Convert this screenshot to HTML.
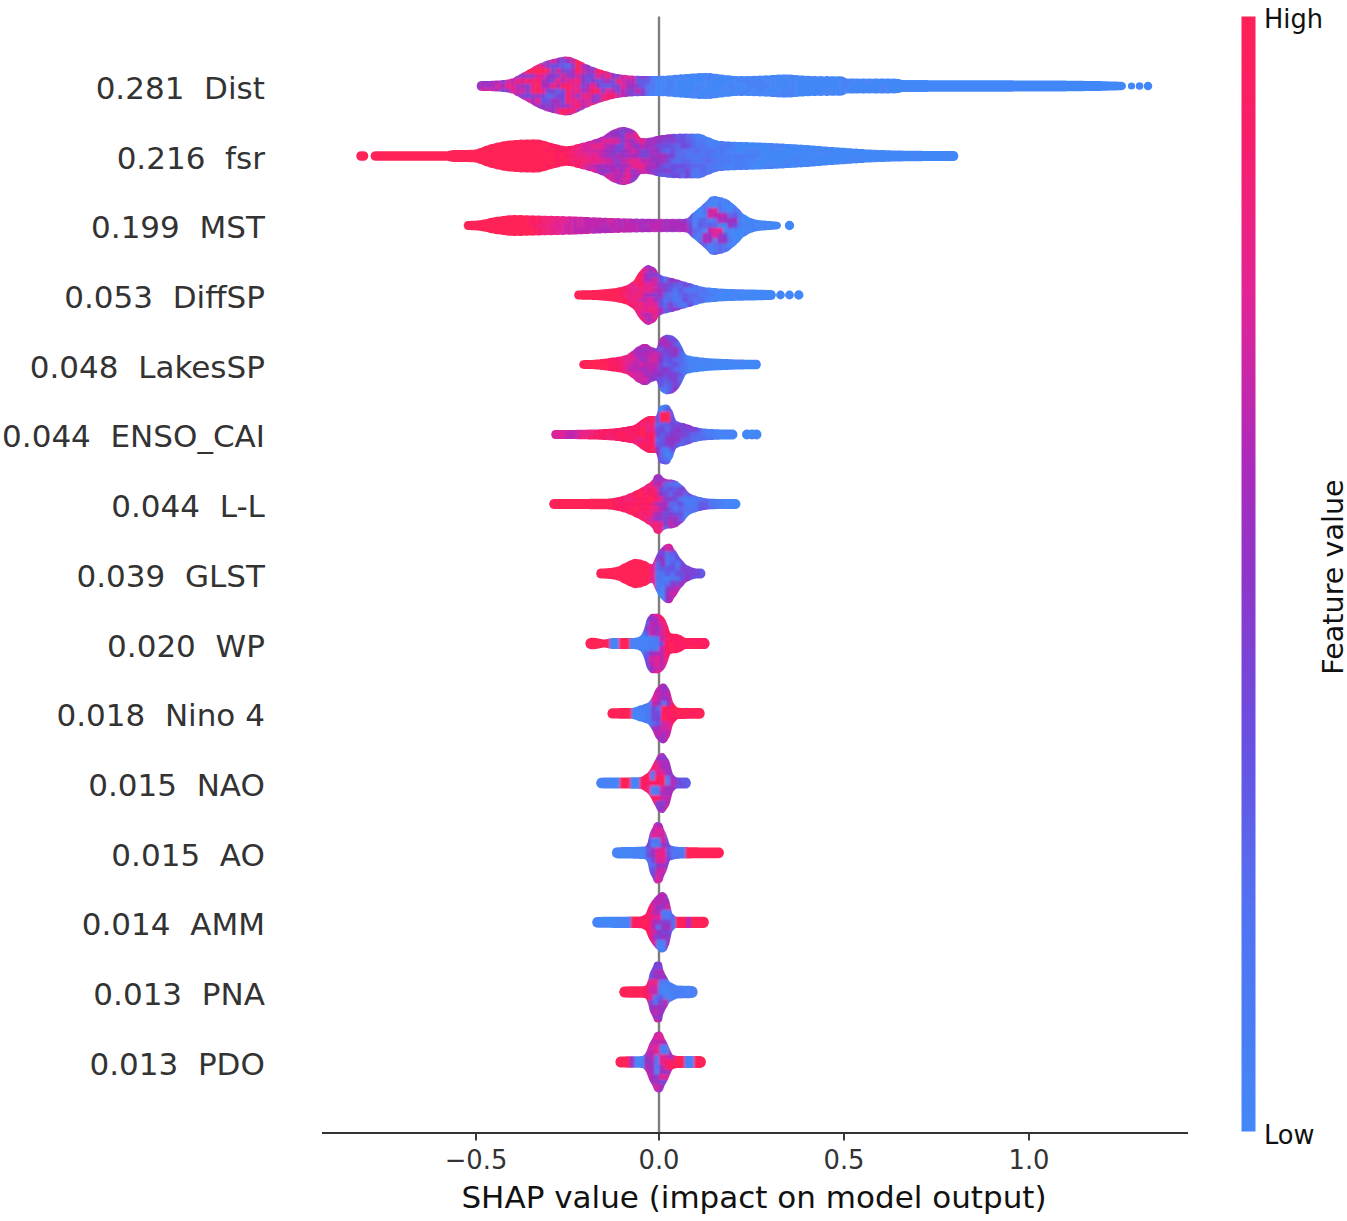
<!DOCTYPE html>
<html lang="en"><head><meta charset="utf-8"><title>SHAP summary plot</title>
<style>html,body{margin:0;padding:0;background:#fff}body{width:1347px;height:1221px;position:relative;overflow:hidden;font-family:"DejaVu Sans","Liberation Sans",sans-serif}</style></head>
<body>
<svg width="1347" height="1221" viewBox="0 0 1347 1221" style="position:absolute;left:0;top:0">
<defs><clipPath id="env"><path d="M476.5 86.0L477.5 83.1L478.5 82.1L479.5 81.6L480.5 81.3L481.5 81.1L482.5 81.1L483.5 81.1L484.5 81.1L485.5 81.0L486.5 81.0L487.5 81.0L488.5 81.0L489.5 80.9L490.5 80.9L491.5 80.8L492.5 80.8L493.5 80.7L494.5 80.7L495.5 80.6L496.5 80.6L497.5 80.5L498.5 80.4L499.5 80.4L500.5 80.3L501.5 80.2L502.5 80.1L503.5 80.0L504.5 79.9L505.5 79.8L506.5 79.7L507.5 79.6L508.5 79.4L509.5 79.1L510.5 78.8L511.5 78.6L512.5 78.4L513.5 77.9L514.5 77.3L515.5 76.6L516.5 76.1L517.5 75.7L518.5 75.2L519.5 74.6L520.5 73.9L521.5 73.2L522.5 72.7L523.5 72.3L524.5 71.9L525.5 71.3L526.5 70.7L527.5 70.0L528.5 69.4L529.5 68.9L530.5 68.5L531.5 67.9L532.5 67.2L533.5 66.5L534.5 65.9L535.5 65.4L536.5 65.0L537.5 64.6L538.5 64.0L539.5 63.4L540.5 63.0L541.5 62.7L542.5 62.4L543.5 62.1L544.5 61.6L545.5 61.1L546.5 60.7L547.5 60.5L548.5 60.3L549.5 60.1L550.5 59.7L551.5 59.3L552.5 58.9L553.5 58.8L554.5 58.7L555.5 58.5L556.5 58.2L557.5 57.9L558.5 57.6L559.5 57.4L560.5 57.3L561.5 57.2L562.5 57.0L563.5 56.7L564.5 56.5L565.5 56.5L566.5 56.6L567.5 56.7L568.5 56.7L569.5 56.7L570.5 56.9L571.5 57.2L572.5 57.7L573.5 58.2L574.5 58.6L575.5 58.9L576.5 59.2L577.5 59.7L578.5 60.2L579.5 60.8L580.5 61.3L581.5 61.7L582.5 62.1L583.5 62.6L584.5 63.3L585.5 63.9L586.5 64.3L587.5 64.6L588.5 64.9L589.5 65.3L590.5 65.9L591.5 66.4L592.5 66.8L593.5 67.1L594.5 67.3L595.5 67.7L596.5 68.1L597.5 68.6L598.5 69.0L599.5 69.2L600.5 69.4L601.5 69.7L602.5 70.1L603.5 70.6L604.5 70.9L605.5 71.1L606.5 71.2L607.5 71.5L608.5 71.8L609.5 72.3L610.5 72.6L611.5 72.8L612.5 72.9L613.5 73.1L614.5 73.4L615.5 73.7L616.5 74.0L617.5 74.1L618.5 74.1L619.5 74.2L620.5 74.4L621.5 74.6L622.5 74.8L623.5 74.9L624.5 74.8L625.5 74.9L626.5 75.0L627.5 75.3L628.5 75.4L629.5 75.5L630.5 75.4L631.5 75.4L632.5 75.5L633.5 75.7L634.5 75.9L635.5 75.9L636.5 75.8L637.5 75.8L638.5 75.8L639.5 76.0L640.5 76.1L641.5 76.1L642.5 76.0L643.5 75.9L644.5 75.9L645.5 76.0L646.5 76.1L647.5 76.1L648.5 76.0L649.5 75.9L650.5 75.9L651.5 76.0L652.5 76.1L653.5 76.1L654.5 76.0L655.5 75.9L656.5 75.9L657.5 76.0L658.5 76.1L659.5 76.1L660.5 76.0L661.5 75.8L662.5 75.7L663.5 75.8L664.5 75.9L665.5 75.8L666.5 75.7L667.5 75.5L668.5 75.3L669.5 75.3L670.5 75.4L671.5 75.3L672.5 75.2L673.5 74.9L674.5 74.8L675.5 74.8L676.5 74.8L677.5 74.8L678.5 74.7L679.5 74.5L680.5 74.3L681.5 74.3L682.5 74.4L683.5 74.4L684.5 74.3L685.5 74.1L686.5 73.9L687.5 73.9L688.5 73.9L689.5 74.0L690.5 73.8L691.5 73.6L692.5 73.4L693.5 73.4L694.5 73.5L695.5 73.5L696.5 73.4L697.5 73.2L698.5 73.1L699.5 73.0L700.5 73.1L701.5 73.2L702.5 73.2L703.5 73.0L704.5 72.9L705.5 72.9L706.5 73.0L707.5 73.2L708.5 73.2L709.5 73.1L710.5 73.1L711.5 73.2L712.5 73.4L713.5 73.7L714.5 73.8L715.5 73.8L716.5 73.8L717.5 73.9L718.5 74.2L719.5 74.5L720.5 74.6L721.5 74.6L722.5 74.6L723.5 74.7L724.5 74.9L725.5 75.2L726.5 75.3L727.5 75.3L728.5 75.3L729.5 75.3L730.5 75.5L731.5 75.8L732.5 75.9L733.5 75.9L734.5 75.9L735.5 75.9L736.5 76.0L737.5 76.2L738.5 76.3L739.5 76.3L740.5 76.1L741.5 76.0L742.5 76.1L743.5 76.2L744.5 76.3L745.5 76.2L746.5 76.1L747.5 76.0L748.5 76.0L749.5 76.1L750.5 76.2L751.5 76.1L752.5 75.9L753.5 75.8L754.5 75.8L755.5 75.9L756.5 76.0L757.5 75.9L758.5 75.7L759.5 75.6L760.5 75.6L761.5 75.7L762.5 75.7L763.5 75.7L764.5 75.5L765.5 75.3L766.5 75.3L767.5 75.4L768.5 75.5L769.5 75.4L770.5 75.2L771.5 75.0L772.5 74.9L773.5 75.0L774.5 75.0L775.5 75.0L776.5 74.8L777.5 74.6L778.5 74.5L779.5 74.6L780.5 74.7L781.5 74.6L782.5 74.5L783.5 74.3L784.5 74.3L785.5 74.4L786.5 74.5L787.5 74.6L788.5 74.5L789.5 74.4L790.5 74.4L791.5 74.6L792.5 74.8L793.5 75.0L794.5 75.0L795.5 74.9L796.5 75.0L797.5 75.1L798.5 75.4L799.5 75.5L800.5 75.6L801.5 75.5L802.5 75.5L803.5 75.6L804.5 75.8L805.5 76.0L806.5 76.0L807.5 75.8L808.5 75.8L809.5 75.9L810.5 76.1L811.5 76.2L812.5 76.2L813.5 76.1L814.5 76.0L815.5 76.0L816.5 76.2L817.5 76.3L818.5 76.3L819.5 76.2L820.5 76.1L821.5 76.1L822.5 76.3L823.5 76.4L824.5 76.4L825.5 76.2L826.5 76.1L827.5 76.1L828.5 76.3L829.5 76.4L830.5 76.4L831.5 76.3L832.5 76.2L833.5 76.2L834.5 76.3L835.5 76.4L836.5 76.5L837.5 76.3L838.5 76.2L839.5 76.2L840.5 76.3L841.5 76.5L842.5 76.6L843.5 76.9L844.5 77.3L845.5 77.9L846.5 78.4L847.5 78.6L848.5 78.7L849.5 78.6L850.5 78.4L851.5 78.4L852.5 78.5L853.5 78.6L854.5 78.7L855.5 78.6L856.5 78.5L857.5 78.4L858.5 78.5L859.5 78.7L860.5 78.7L861.5 78.7L862.5 78.5L863.5 78.4L864.5 78.5L865.5 78.7L866.5 78.7L867.5 78.7L868.5 78.5L869.5 78.5L870.5 78.5L871.5 78.7L872.5 78.7L873.5 78.7L874.5 78.6L875.5 78.5L876.5 78.5L877.5 78.6L878.5 78.8L879.5 78.7L880.5 78.6L881.5 78.5L882.5 78.5L883.5 78.6L884.5 78.8L885.5 78.7L886.5 78.6L887.5 78.5L888.5 78.5L889.5 78.6L890.5 78.8L891.5 78.8L892.5 78.7L893.5 78.5L894.5 78.5L895.5 78.7L896.5 78.8L897.5 78.9L898.5 78.9L899.5 79.1L900.5 79.5L901.5 79.8L902.5 80.0L903.5 80.0L904.5 80.0L905.5 80.0L906.5 80.0L907.5 80.0L908.5 80.0L909.5 80.1L910.5 80.1L911.5 80.1L912.5 80.1L913.5 80.1L914.5 80.1L915.5 80.1L916.5 80.1L917.5 80.1L918.5 80.1L919.5 80.1L920.5 80.1L921.5 80.1L922.5 80.1L923.5 80.1L924.5 80.1L925.5 80.1L926.5 80.1L927.5 80.1L928.5 80.2L929.5 80.2L930.5 80.2L931.5 80.2L932.5 80.2L933.5 80.2L934.5 80.2L935.5 80.2L936.5 80.2L937.5 80.2L938.5 80.2L939.5 80.2L940.5 80.2L941.5 80.2L942.5 80.2L943.5 80.2L944.5 80.2L945.5 80.2L946.5 80.2L947.5 80.2L948.5 80.2L949.5 80.2L950.5 80.2L951.5 80.2L952.5 80.2L953.5 80.2L954.5 80.2L955.5 80.2L956.5 80.2L957.5 80.2L958.5 80.2L959.5 80.2L960.5 80.2L961.5 80.2L962.5 80.2L963.5 80.2L964.5 80.2L965.5 80.2L966.5 80.2L967.5 80.2L968.5 80.2L969.5 80.2L970.5 80.2L971.5 80.2L972.5 80.2L973.5 80.2L974.5 80.2L975.5 80.2L976.5 80.2L977.5 80.2L978.5 80.2L979.5 80.2L980.5 80.2L981.5 80.2L982.5 80.3L983.5 80.3L984.5 80.3L985.5 80.3L986.5 80.3L987.5 80.3L988.5 80.3L989.5 80.3L990.5 80.3L991.5 80.3L992.5 80.3L993.5 80.3L994.5 80.3L995.5 80.3L996.5 80.3L997.5 80.3L998.5 80.3L999.5 80.3L1000.5 80.3L1001.5 80.3L1002.5 80.3L1003.5 80.3L1004.5 80.3L1005.5 80.3L1006.5 80.3L1007.5 80.3L1008.5 80.3L1009.5 80.3L1010.5 80.3L1011.5 80.3L1012.5 80.3L1013.5 80.4L1014.5 80.4L1015.5 80.4L1016.5 80.4L1017.5 80.4L1018.5 80.4L1019.5 80.4L1020.5 80.4L1021.5 80.4L1022.5 80.4L1023.5 80.4L1024.5 80.4L1025.5 80.4L1026.5 80.4L1027.5 80.4L1028.5 80.4L1029.5 80.4L1030.5 80.4L1031.5 80.4L1032.5 80.4L1033.5 80.4L1034.5 80.4L1035.5 80.5L1036.5 80.5L1037.5 80.5L1038.5 80.5L1039.5 80.5L1040.5 80.5L1041.5 80.5L1042.5 80.5L1043.5 80.5L1044.5 80.5L1045.5 80.5L1046.5 80.5L1047.5 80.5L1048.5 80.5L1049.5 80.5L1050.5 80.5L1051.5 80.5L1052.5 80.5L1053.5 80.6L1054.5 80.6L1055.5 80.6L1056.5 80.6L1057.5 80.6L1058.5 80.6L1059.5 80.6L1060.5 80.6L1061.5 80.6L1062.5 80.6L1063.5 80.6L1064.5 80.6L1065.5 80.6L1066.5 80.7L1067.5 80.7L1068.5 80.7L1069.5 80.7L1070.5 80.7L1071.5 80.7L1072.5 80.7L1073.5 80.7L1074.5 80.7L1075.5 80.7L1076.5 80.8L1077.5 80.8L1078.5 80.8L1079.5 80.8L1080.5 80.8L1081.5 80.8L1082.5 80.8L1083.5 80.8L1084.5 80.9L1085.5 80.9L1086.5 80.9L1087.5 80.9L1088.5 80.9L1089.5 80.9L1090.5 80.9L1091.5 81.0L1092.5 81.0L1093.5 81.0L1094.5 81.0L1095.5 81.0L1096.5 81.0L1097.5 81.1L1098.5 81.1L1099.5 81.1L1100.5 81.1L1101.5 81.2L1102.5 81.2L1103.5 81.2L1104.5 81.2L1105.5 81.3L1106.5 81.3L1107.5 81.3L1108.5 81.4L1109.5 81.4L1110.5 81.4L1111.5 81.4L1112.5 81.5L1113.5 81.5L1114.5 81.5L1115.5 81.6L1116.5 81.6L1117.5 81.7L1118.5 81.7L1119.5 81.7L1120.5 81.8L1121.5 81.8L1122.5 82.0L1123.5 82.3L1124.5 82.9L1125.5 84.1L1126.0 86.0L1126.0 86.0L1125.5 87.9L1124.5 89.1L1123.5 89.7L1122.5 90.0L1121.5 90.2L1120.5 90.2L1119.5 90.3L1118.5 90.3L1117.5 90.3L1116.5 90.4L1115.5 90.4L1114.5 90.5L1113.5 90.5L1112.5 90.5L1111.5 90.6L1110.5 90.6L1109.5 90.6L1108.5 90.6L1107.5 90.7L1106.5 90.7L1105.5 90.7L1104.5 90.8L1103.5 90.8L1102.5 90.8L1101.5 90.8L1100.5 90.9L1099.5 90.9L1098.5 90.9L1097.5 90.9L1096.5 91.0L1095.5 91.0L1094.5 91.0L1093.5 91.0L1092.5 91.0L1091.5 91.0L1090.5 91.1L1089.5 91.1L1088.5 91.1L1087.5 91.1L1086.5 91.1L1085.5 91.1L1084.5 91.1L1083.5 91.2L1082.5 91.2L1081.5 91.2L1080.5 91.2L1079.5 91.2L1078.5 91.2L1077.5 91.2L1076.5 91.2L1075.5 91.3L1074.5 91.3L1073.5 91.3L1072.5 91.3L1071.5 91.3L1070.5 91.3L1069.5 91.3L1068.5 91.3L1067.5 91.3L1066.5 91.3L1065.5 91.4L1064.5 91.4L1063.5 91.4L1062.5 91.4L1061.5 91.4L1060.5 91.4L1059.5 91.4L1058.5 91.4L1057.5 91.4L1056.5 91.4L1055.5 91.4L1054.5 91.4L1053.5 91.4L1052.5 91.5L1051.5 91.5L1050.5 91.5L1049.5 91.5L1048.5 91.5L1047.5 91.5L1046.5 91.5L1045.5 91.5L1044.5 91.5L1043.5 91.5L1042.5 91.5L1041.5 91.5L1040.5 91.5L1039.5 91.5L1038.5 91.5L1037.5 91.5L1036.5 91.5L1035.5 91.5L1034.5 91.6L1033.5 91.6L1032.5 91.6L1031.5 91.6L1030.5 91.6L1029.5 91.6L1028.5 91.6L1027.5 91.6L1026.5 91.6L1025.5 91.6L1024.5 91.6L1023.5 91.6L1022.5 91.6L1021.5 91.6L1020.5 91.6L1019.5 91.6L1018.5 91.6L1017.5 91.6L1016.5 91.6L1015.5 91.6L1014.5 91.6L1013.5 91.6L1012.5 91.7L1011.5 91.7L1010.5 91.7L1009.5 91.7L1008.5 91.7L1007.5 91.7L1006.5 91.7L1005.5 91.7L1004.5 91.7L1003.5 91.7L1002.5 91.7L1001.5 91.7L1000.5 91.7L999.5 91.7L998.5 91.7L997.5 91.7L996.5 91.7L995.5 91.7L994.5 91.7L993.5 91.7L992.5 91.7L991.5 91.7L990.5 91.7L989.5 91.7L988.5 91.7L987.5 91.7L986.5 91.7L985.5 91.7L984.5 91.7L983.5 91.7L982.5 91.7L981.5 91.8L980.5 91.8L979.5 91.8L978.5 91.8L977.5 91.8L976.5 91.8L975.5 91.8L974.5 91.8L973.5 91.8L972.5 91.8L971.5 91.8L970.5 91.8L969.5 91.8L968.5 91.8L967.5 91.8L966.5 91.8L965.5 91.8L964.5 91.8L963.5 91.8L962.5 91.8L961.5 91.8L960.5 91.8L959.5 91.8L958.5 91.8L957.5 91.8L956.5 91.8L955.5 91.8L954.5 91.8L953.5 91.8L952.5 91.8L951.5 91.8L950.5 91.8L949.5 91.8L948.5 91.8L947.5 91.8L946.5 91.8L945.5 91.8L944.5 91.8L943.5 91.8L942.5 91.8L941.5 91.8L940.5 91.8L939.5 91.8L938.5 91.8L937.5 91.8L936.5 91.8L935.5 91.8L934.5 91.8L933.5 91.8L932.5 91.8L931.5 91.8L930.5 91.8L929.5 91.8L928.5 91.8L927.5 91.9L926.5 91.9L925.5 91.9L924.5 91.9L923.5 91.9L922.5 91.9L921.5 91.9L920.5 91.9L919.5 91.9L918.5 91.9L917.5 91.9L916.5 91.9L915.5 91.9L914.5 91.9L913.5 91.9L912.5 91.9L911.5 91.9L910.5 91.9L909.5 91.9L908.5 92.0L907.5 92.0L906.5 92.0L905.5 92.0L904.5 92.0L903.5 92.0L902.5 92.0L901.5 92.2L900.5 92.5L899.5 92.9L898.5 93.1L897.5 93.1L896.5 93.2L895.5 93.3L894.5 93.5L893.5 93.5L892.5 93.3L891.5 93.2L890.5 93.2L889.5 93.4L888.5 93.5L887.5 93.5L886.5 93.4L885.5 93.3L884.5 93.2L883.5 93.4L882.5 93.5L881.5 93.5L880.5 93.4L879.5 93.3L878.5 93.2L877.5 93.4L876.5 93.5L875.5 93.5L874.5 93.4L873.5 93.3L872.5 93.3L871.5 93.3L870.5 93.5L869.5 93.5L868.5 93.5L867.5 93.3L866.5 93.3L865.5 93.3L864.5 93.5L863.5 93.6L862.5 93.5L861.5 93.3L860.5 93.3L859.5 93.3L858.5 93.5L857.5 93.6L856.5 93.5L855.5 93.4L854.5 93.3L853.5 93.4L852.5 93.5L851.5 93.6L850.5 93.6L849.5 93.4L848.5 93.3L847.5 93.4L846.5 93.6L845.5 94.1L844.5 94.7L843.5 95.1L842.5 95.4L841.5 95.5L840.5 95.7L839.5 95.8L838.5 95.8L837.5 95.7L836.5 95.5L835.5 95.6L834.5 95.7L833.5 95.8L832.5 95.8L831.5 95.7L830.5 95.6L829.5 95.6L828.5 95.7L827.5 95.9L826.5 95.9L825.5 95.8L824.5 95.6L823.5 95.6L822.5 95.7L821.5 95.9L820.5 95.9L819.5 95.8L818.5 95.7L817.5 95.7L816.5 95.8L815.5 96.0L814.5 96.0L813.5 95.9L812.5 95.8L811.5 95.8L810.5 95.9L809.5 96.1L808.5 96.2L807.5 96.2L806.5 96.0L805.5 96.0L804.5 96.2L803.5 96.4L802.5 96.5L801.5 96.5L800.5 96.4L799.5 96.5L798.5 96.6L797.5 96.9L796.5 97.0L795.5 97.1L794.5 97.0L793.5 97.0L792.5 97.2L791.5 97.4L790.5 97.6L789.5 97.6L788.5 97.5L787.5 97.4L786.5 97.5L785.5 97.6L784.5 97.7L783.5 97.7L782.5 97.5L781.5 97.4L780.5 97.3L779.5 97.4L778.5 97.5L777.5 97.4L776.5 97.2L775.5 97.0L774.5 97.0L773.5 97.0L772.5 97.1L771.5 97.0L770.5 96.8L769.5 96.6L768.5 96.5L767.5 96.6L766.5 96.7L765.5 96.7L764.5 96.5L763.5 96.3L762.5 96.3L761.5 96.3L760.5 96.4L759.5 96.4L758.5 96.3L757.5 96.1L756.5 96.0L755.5 96.1L754.5 96.2L753.5 96.2L752.5 96.1L751.5 95.9L750.5 95.8L749.5 95.9L748.5 96.0L747.5 96.0L746.5 95.9L745.5 95.8L744.5 95.7L743.5 95.8L742.5 95.9L741.5 96.0L740.5 95.9L739.5 95.7L738.5 95.7L737.5 95.8L736.5 96.0L735.5 96.1L734.5 96.1L733.5 96.1L732.5 96.1L731.5 96.2L730.5 96.5L729.5 96.7L728.5 96.7L727.5 96.7L726.5 96.7L725.5 96.8L724.5 97.1L723.5 97.3L722.5 97.4L721.5 97.4L720.5 97.4L719.5 97.5L718.5 97.8L717.5 98.1L716.5 98.2L715.5 98.2L714.5 98.2L713.5 98.3L712.5 98.6L711.5 98.8L710.5 98.9L709.5 98.9L708.5 98.8L707.5 98.8L706.5 99.0L705.5 99.1L704.5 99.1L703.5 99.0L702.5 98.8L701.5 98.8L700.5 98.9L699.5 99.0L698.5 98.9L697.5 98.8L696.5 98.6L695.5 98.5L694.5 98.5L693.5 98.6L692.5 98.6L691.5 98.4L690.5 98.2L689.5 98.0L688.5 98.1L687.5 98.1L686.5 98.1L685.5 97.9L684.5 97.7L683.5 97.6L682.5 97.6L681.5 97.7L680.5 97.7L679.5 97.5L678.5 97.3L677.5 97.2L676.5 97.2L675.5 97.2L674.5 97.2L673.5 97.1L672.5 96.8L671.5 96.7L670.5 96.6L669.5 96.7L668.5 96.7L667.5 96.5L666.5 96.3L665.5 96.2L664.5 96.1L663.5 96.2L662.5 96.3L661.5 96.2L660.5 96.0L659.5 95.9L658.5 95.9L657.5 96.0L656.5 96.1L655.5 96.1L654.5 96.0L653.5 95.9L652.5 95.9L651.5 96.0L650.5 96.1L649.5 96.1L648.5 96.0L647.5 95.9L646.5 95.9L645.5 96.0L644.5 96.1L643.5 96.1L642.5 96.0L641.5 95.9L640.5 95.9L639.5 96.0L638.5 96.2L637.5 96.2L636.5 96.2L635.5 96.1L634.5 96.1L633.5 96.3L632.5 96.5L631.5 96.6L630.5 96.6L629.5 96.5L628.5 96.6L627.5 96.7L626.5 97.0L625.5 97.1L624.5 97.2L623.5 97.1L622.5 97.2L621.5 97.4L620.5 97.6L619.5 97.8L618.5 97.9L617.5 97.9L616.5 98.0L615.5 98.3L614.5 98.6L613.5 98.9L612.5 99.1L611.5 99.2L610.5 99.4L609.5 99.7L608.5 100.2L607.5 100.5L606.5 100.8L605.5 100.9L604.5 101.1L603.5 101.4L602.5 101.9L601.5 102.3L600.5 102.6L599.5 102.8L598.5 103.0L597.5 103.4L596.5 103.9L595.5 104.3L594.5 104.7L593.5 104.9L592.5 105.2L591.5 105.6L590.5 106.1L589.5 106.7L588.5 107.1L587.5 107.4L586.5 107.7L585.5 108.1L584.5 108.7L583.5 109.4L582.5 109.9L581.5 110.3L580.5 110.7L579.5 111.2L578.5 111.8L577.5 112.3L576.5 112.8L575.5 113.1L574.5 113.4L573.5 113.8L572.5 114.3L571.5 114.8L570.5 115.1L569.5 115.3L568.5 115.3L567.5 115.3L566.5 115.4L565.5 115.5L564.5 115.5L563.5 115.3L562.5 115.0L561.5 114.8L560.5 114.7L559.5 114.6L558.5 114.4L557.5 114.1L556.5 113.8L555.5 113.5L554.5 113.3L553.5 113.2L552.5 113.1L551.5 112.7L550.5 112.3L549.5 111.9L548.5 111.7L547.5 111.5L546.5 111.3L545.5 110.9L544.5 110.4L543.5 109.9L542.5 109.6L541.5 109.3L540.5 109.0L539.5 108.6L538.5 108.0L537.5 107.4L536.5 107.0L535.5 106.6L534.5 106.1L533.5 105.5L532.5 104.8L531.5 104.1L530.5 103.5L529.5 103.1L528.5 102.6L527.5 102.0L526.5 101.3L525.5 100.7L524.5 100.1L523.5 99.7L522.5 99.3L521.5 98.8L520.5 98.1L519.5 97.4L518.5 96.8L517.5 96.3L516.5 95.9L515.5 95.4L514.5 94.7L513.5 94.1L512.5 93.6L511.5 93.4L510.5 93.2L509.5 92.9L508.5 92.6L507.5 92.4L506.5 92.3L505.5 92.2L504.5 92.1L503.5 92.0L502.5 91.9L501.5 91.8L500.5 91.7L499.5 91.6L498.5 91.6L497.5 91.5L496.5 91.4L495.5 91.4L494.5 91.3L493.5 91.3L492.5 91.2L491.5 91.2L490.5 91.1L489.5 91.1L488.5 91.0L487.5 91.0L486.5 91.0L485.5 91.0L484.5 90.9L483.5 90.9L482.5 90.9L481.5 90.9L480.5 90.7L479.5 90.4L478.5 89.9L477.5 88.9L476.5 86.0ZM1127.9 86.0a3.6 3.6 0 1 0 7.2 0a3.6 3.6 0 1 0 -7.2 0ZM1135.7 86.0a3.8 3.8 0 1 0 7.6 0a3.8 3.8 0 1 0 -7.6 0ZM1143.7 86.0a4.3 4.3 0 1 0 8.6 0a4.3 4.3 0 1 0 -8.6 0ZM370.5 156.0L371.5 153.1L372.5 152.2L373.5 151.6L374.5 151.4L375.5 151.3L376.5 151.3L377.5 151.3L378.5 151.3L379.5 151.3L380.5 151.3L381.5 151.3L382.5 151.3L383.5 151.3L384.5 151.3L385.5 151.3L386.5 151.3L387.5 151.3L388.5 151.3L389.5 151.3L390.5 151.3L391.5 151.3L392.5 151.3L393.5 151.3L394.5 151.3L395.5 151.3L396.5 151.3L397.5 151.3L398.5 151.3L399.5 151.3L400.5 151.3L401.5 151.3L402.5 151.3L403.5 151.3L404.5 151.3L405.5 151.3L406.5 151.3L407.5 151.3L408.5 151.3L409.5 151.3L410.5 151.3L411.5 151.3L412.5 151.3L413.5 151.3L414.5 151.3L415.5 151.3L416.5 151.3L417.5 151.3L418.5 151.3L419.5 151.3L420.5 151.3L421.5 151.3L422.5 151.3L423.5 151.3L424.5 151.3L425.5 151.3L426.5 151.3L427.5 151.3L428.5 151.3L429.5 151.3L430.5 151.2L431.5 151.2L432.5 151.2L433.5 151.2L434.5 151.2L435.5 151.2L436.5 151.2L437.5 151.2L438.5 151.2L439.5 151.2L440.5 151.2L441.5 151.2L442.5 151.2L443.5 151.2L444.5 151.2L445.5 151.2L446.5 151.2L447.5 151.2L448.5 151.0L449.5 150.7L450.5 150.5L451.5 150.2L452.5 150.2L453.5 150.1L454.5 150.1L455.5 150.1L456.5 150.0L457.5 150.0L458.5 150.0L459.5 150.0L460.5 150.0L461.5 150.0L462.5 149.9L463.5 149.9L464.5 149.9L465.5 149.9L466.5 149.9L467.5 149.9L468.5 149.9L469.5 149.8L470.5 149.8L471.5 149.8L472.5 149.7L473.5 149.7L474.5 149.6L475.5 149.5L476.5 149.3L477.5 148.9L478.5 148.6L479.5 148.3L480.5 148.1L481.5 147.7L482.5 147.2L483.5 146.7L484.5 146.2L485.5 145.9L486.5 145.6L487.5 145.4L488.5 145.0L489.5 144.6L490.5 144.2L491.5 144.0L492.5 143.9L493.5 143.8L494.5 143.5L495.5 143.1L496.5 142.8L497.5 142.6L498.5 142.5L499.5 142.4L500.5 142.1L501.5 141.8L502.5 141.4L503.5 141.3L504.5 141.3L505.5 141.2L506.5 141.0L507.5 140.7L508.5 140.5L509.5 140.4L510.5 140.5L511.5 140.5L512.5 140.4L513.5 140.2L514.5 140.0L515.5 139.9L516.5 140.0L517.5 140.1L518.5 140.0L519.5 139.8L520.5 139.6L521.5 139.6L522.5 139.6L523.5 139.7L524.5 139.7L525.5 139.5L526.5 139.4L527.5 139.3L528.5 139.4L529.5 139.5L530.5 139.5L531.5 139.4L532.5 139.2L533.5 139.2L534.5 139.3L535.5 139.4L536.5 139.5L537.5 139.5L538.5 139.5L539.5 139.6L540.5 139.9L541.5 140.3L542.5 140.6L543.5 140.8L544.5 140.9L545.5 141.1L546.5 141.5L547.5 142.0L548.5 142.3L549.5 142.6L550.5 142.7L551.5 142.9L552.5 143.2L553.5 143.6L554.5 143.9L555.5 144.1L556.5 144.2L557.5 144.4L558.5 144.7L559.5 145.1L560.5 145.4L561.5 145.6L562.5 145.7L563.5 145.7L564.5 145.9L565.5 146.2L566.5 146.3L567.5 146.3L568.5 146.1L569.5 145.9L570.5 145.8L571.5 145.7L572.5 145.6L573.5 145.4L574.5 145.0L575.5 144.6L576.5 144.3L577.5 144.1L578.5 144.0L579.5 143.7L580.5 143.3L581.5 142.9L582.5 142.7L583.5 142.5L584.5 142.4L585.5 142.2L586.5 141.8L587.5 141.4L588.5 141.1L589.5 140.9L590.5 140.8L591.5 140.5L592.5 140.1L593.5 139.6L594.5 139.3L595.5 139.0L596.5 138.8L597.5 138.5L598.5 138.1L599.5 137.5L600.5 137.1L601.5 136.8L602.5 136.5L603.5 136.0L604.5 135.3L605.5 134.5L606.5 133.7L607.5 133.0L608.5 132.5L609.5 131.8L610.5 131.1L611.5 130.4L612.5 129.9L613.5 129.6L614.5 129.3L615.5 129.0L616.5 128.5L617.5 128.0L618.5 127.6L619.5 127.4L620.5 127.3L621.5 127.2L622.5 127.1L623.5 127.0L624.5 126.9L625.5 127.1L626.5 127.4L627.5 127.8L628.5 128.1L629.5 128.3L630.5 128.5L631.5 129.0L632.5 129.5L633.5 130.1L634.5 130.6L635.5 131.4L636.5 132.3L637.5 133.6L638.5 135.2L639.5 136.6L640.5 137.7L641.5 138.1L642.5 138.1L643.5 138.0L644.5 138.1L645.5 138.2L646.5 138.2L647.5 138.0L648.5 137.8L649.5 137.7L650.5 137.6L651.5 137.5L652.5 137.3L653.5 136.9L654.5 136.5L655.5 136.2L656.5 136.1L657.5 136.0L658.5 135.9L659.5 135.6L660.5 135.3L661.5 135.1L662.5 135.0L663.5 135.0L664.5 134.9L665.5 134.7L666.5 134.4L667.5 134.2L668.5 134.2L669.5 134.2L670.5 134.2L671.5 134.1L672.5 133.9L673.5 133.8L674.5 133.8L675.5 133.9L676.5 134.0L677.5 133.9L678.5 133.7L679.5 133.6L680.5 133.6L681.5 133.7L682.5 133.8L683.5 133.8L684.5 133.7L685.5 133.6L686.5 133.6L687.5 133.7L688.5 133.8L689.5 133.8L690.5 133.7L691.5 133.6L692.5 133.6L693.5 133.7L694.5 133.8L695.5 133.8L696.5 133.7L697.5 133.6L698.5 133.6L699.5 133.7L700.5 134.0L701.5 134.3L702.5 134.5L703.5 134.8L704.5 135.3L705.5 135.9L706.5 136.5L707.5 137.0L708.5 137.2L709.5 137.4L710.5 137.8L711.5 138.3L712.5 138.9L713.5 139.3L714.5 139.6L715.5 139.9L716.5 140.1L717.5 140.5L718.5 140.9L719.5 141.1L720.5 141.1L721.5 141.0L722.5 141.0L723.5 141.2L724.5 141.4L725.5 141.5L726.5 141.5L727.5 141.4L728.5 141.4L729.5 141.5L730.5 141.7L731.5 141.9L732.5 141.8L733.5 141.7L734.5 141.7L735.5 141.8L736.5 141.9L737.5 142.1L738.5 142.0L739.5 141.9L740.5 141.9L741.5 141.9L742.5 142.1L743.5 142.2L744.5 142.2L745.5 142.1L746.5 142.0L747.5 142.1L748.5 142.2L749.5 142.4L750.5 142.4L751.5 142.3L752.5 142.2L753.5 142.2L754.5 142.4L755.5 142.6L756.5 142.6L757.5 142.5L758.5 142.4L759.5 142.4L760.5 142.6L761.5 142.8L762.5 142.8L763.5 142.8L764.5 142.7L765.5 142.7L766.5 142.9L767.5 143.1L768.5 143.1L769.5 143.0L770.5 143.0L771.5 143.0L772.5 143.1L773.5 143.3L774.5 143.4L775.5 143.3L776.5 143.2L777.5 143.3L778.5 143.4L779.5 143.6L780.5 143.7L781.5 143.6L782.5 143.6L783.5 143.5L784.5 143.7L785.5 143.9L786.5 144.0L787.5 144.0L788.5 143.9L789.5 143.9L790.5 144.0L791.5 144.2L792.5 144.3L793.5 144.3L794.5 144.2L795.5 144.2L796.5 144.3L797.5 144.5L798.5 144.7L799.5 144.7L800.5 144.6L801.5 144.5L802.5 144.7L803.5 144.9L804.5 145.0L805.5 145.1L806.5 145.0L807.5 145.0L808.5 145.1L809.5 145.3L810.5 145.5L811.5 145.5L812.5 145.4L813.5 145.4L814.5 145.5L815.5 145.7L816.5 145.9L817.5 146.0L818.5 145.9L819.5 145.9L820.5 146.0L821.5 146.2L822.5 146.4L823.5 146.5L824.5 146.4L825.5 146.4L826.5 146.5L827.5 146.7L828.5 146.9L829.5 147.0L830.5 146.9L831.5 146.9L832.5 146.9L833.5 147.1L834.5 147.3L835.5 147.4L836.5 147.4L837.5 147.3L838.5 147.4L839.5 147.5L840.5 147.7L841.5 147.8L842.5 147.8L843.5 147.7L844.5 147.8L845.5 147.9L846.5 148.1L847.5 148.3L848.5 148.2L849.5 148.2L850.5 148.2L851.5 148.3L852.5 148.5L853.5 148.7L854.5 148.7L855.5 148.6L856.5 148.6L857.5 148.7L858.5 148.9L859.5 149.1L860.5 149.1L861.5 149.0L862.5 148.9L863.5 149.1L864.5 149.3L865.5 149.4L866.5 149.4L867.5 149.4L868.5 149.4L869.5 149.5L870.5 149.6L871.5 149.6L872.5 149.7L873.5 149.7L874.5 149.8L875.5 149.8L876.5 149.8L877.5 149.9L878.5 149.9L879.5 150.0L880.5 150.0L881.5 150.0L882.5 150.1L883.5 150.1L884.5 150.1L885.5 150.2L886.5 150.2L887.5 150.2L888.5 150.3L889.5 150.3L890.5 150.3L891.5 150.4L892.5 150.4L893.5 150.4L894.5 150.5L895.5 150.5L896.5 150.5L897.5 150.5L898.5 150.6L899.5 150.6L900.5 150.6L901.5 150.6L902.5 150.6L903.5 150.7L904.5 150.7L905.5 150.7L906.5 150.7L907.5 150.7L908.5 150.7L909.5 150.7L910.5 150.7L911.5 150.7L912.5 150.8L913.5 150.8L914.5 150.8L915.5 150.8L916.5 150.8L917.5 150.8L918.5 150.8L919.5 150.8L920.5 150.8L921.5 150.8L922.5 150.8L923.5 150.9L924.5 150.9L925.5 150.9L926.5 150.9L927.5 150.9L928.5 150.9L929.5 150.9L930.5 150.9L931.5 150.9L932.5 150.9L933.5 150.9L934.5 150.9L935.5 150.9L936.5 150.9L937.5 150.9L938.5 150.9L939.5 151.0L940.5 151.0L941.5 151.0L942.5 151.0L943.5 151.0L944.5 151.0L945.5 151.0L946.5 151.0L947.5 151.0L948.5 151.0L949.5 151.0L950.5 151.0L951.5 151.0L952.5 151.0L953.5 151.0L954.5 151.1L955.5 151.4L956.5 152.0L957.5 153.0L958.5 156.0L958.5 156.0L957.5 159.0L956.5 160.0L955.5 160.6L954.5 160.9L953.5 161.0L952.5 161.0L951.5 161.0L950.5 161.0L949.5 161.0L948.5 161.0L947.5 161.0L946.5 161.0L945.5 161.0L944.5 161.0L943.5 161.0L942.5 161.0L941.5 161.0L940.5 161.0L939.5 161.0L938.5 161.1L937.5 161.1L936.5 161.1L935.5 161.1L934.5 161.1L933.5 161.1L932.5 161.1L931.5 161.1L930.5 161.1L929.5 161.1L928.5 161.1L927.5 161.1L926.5 161.1L925.5 161.1L924.5 161.1L923.5 161.1L922.5 161.2L921.5 161.2L920.5 161.2L919.5 161.2L918.5 161.2L917.5 161.2L916.5 161.2L915.5 161.2L914.5 161.2L913.5 161.2L912.5 161.2L911.5 161.3L910.5 161.3L909.5 161.3L908.5 161.3L907.5 161.3L906.5 161.3L905.5 161.3L904.5 161.3L903.5 161.3L902.5 161.4L901.5 161.4L900.5 161.4L899.5 161.4L898.5 161.4L897.5 161.5L896.5 161.5L895.5 161.5L894.5 161.5L893.5 161.6L892.5 161.6L891.5 161.6L890.5 161.7L889.5 161.7L888.5 161.7L887.5 161.8L886.5 161.8L885.5 161.8L884.5 161.9L883.5 161.9L882.5 161.9L881.5 162.0L880.5 162.0L879.5 162.0L878.5 162.1L877.5 162.1L876.5 162.2L875.5 162.2L874.5 162.2L873.5 162.3L872.5 162.3L871.5 162.4L870.5 162.4L869.5 162.5L868.5 162.6L867.5 162.6L866.5 162.6L865.5 162.6L864.5 162.7L863.5 162.9L862.5 163.1L861.5 163.0L860.5 162.9L859.5 162.9L858.5 163.1L857.5 163.3L856.5 163.4L855.5 163.4L854.5 163.3L853.5 163.3L852.5 163.5L851.5 163.7L850.5 163.8L849.5 163.8L848.5 163.8L847.5 163.7L846.5 163.9L845.5 164.1L844.5 164.2L843.5 164.3L842.5 164.2L841.5 164.2L840.5 164.3L839.5 164.5L838.5 164.6L837.5 164.7L836.5 164.6L835.5 164.6L834.5 164.7L833.5 164.9L832.5 165.1L831.5 165.1L830.5 165.1L829.5 165.0L828.5 165.1L827.5 165.3L826.5 165.5L825.5 165.6L824.5 165.6L823.5 165.5L822.5 165.6L821.5 165.8L820.5 166.0L819.5 166.1L818.5 166.1L817.5 166.0L816.5 166.1L815.5 166.3L814.5 166.5L813.5 166.6L812.5 166.6L811.5 166.5L810.5 166.5L809.5 166.7L808.5 166.9L807.5 167.0L806.5 167.0L805.5 166.9L804.5 167.0L803.5 167.1L802.5 167.3L801.5 167.5L800.5 167.4L799.5 167.3L798.5 167.3L797.5 167.5L796.5 167.7L795.5 167.8L794.5 167.8L793.5 167.7L792.5 167.7L791.5 167.8L790.5 168.0L789.5 168.1L788.5 168.1L787.5 168.0L786.5 168.0L785.5 168.1L784.5 168.3L783.5 168.5L782.5 168.4L781.5 168.4L780.5 168.3L779.5 168.4L778.5 168.6L777.5 168.7L776.5 168.8L775.5 168.7L774.5 168.6L773.5 168.7L772.5 168.9L771.5 169.0L770.5 169.0L769.5 169.0L768.5 168.9L767.5 168.9L766.5 169.1L765.5 169.3L764.5 169.3L763.5 169.2L762.5 169.2L761.5 169.2L760.5 169.4L759.5 169.6L758.5 169.6L757.5 169.5L756.5 169.4L755.5 169.4L754.5 169.6L753.5 169.8L752.5 169.8L751.5 169.7L750.5 169.6L749.5 169.6L748.5 169.8L747.5 169.9L746.5 170.0L745.5 169.9L744.5 169.8L743.5 169.8L742.5 169.9L741.5 170.1L740.5 170.1L739.5 170.1L738.5 170.0L737.5 169.9L736.5 170.1L735.5 170.2L734.5 170.3L733.5 170.3L732.5 170.2L731.5 170.1L730.5 170.3L729.5 170.5L728.5 170.6L727.5 170.6L726.5 170.5L725.5 170.5L724.5 170.6L723.5 170.8L722.5 171.0L721.5 171.0L720.5 170.9L719.5 170.9L718.5 171.1L717.5 171.5L716.5 171.9L715.5 172.1L714.5 172.4L713.5 172.7L712.5 173.1L711.5 173.7L710.5 174.2L709.5 174.6L708.5 174.8L707.5 175.0L706.5 175.5L705.5 176.1L704.5 176.7L703.5 177.2L702.5 177.5L701.5 177.7L700.5 178.0L699.5 178.3L698.5 178.4L697.5 178.4L696.5 178.3L695.5 178.2L694.5 178.2L693.5 178.3L692.5 178.4L691.5 178.4L690.5 178.3L689.5 178.2L688.5 178.2L687.5 178.3L686.5 178.4L685.5 178.4L684.5 178.3L683.5 178.2L682.5 178.2L681.5 178.3L680.5 178.4L679.5 178.4L678.5 178.3L677.5 178.1L676.5 178.0L675.5 178.1L674.5 178.2L673.5 178.2L672.5 178.1L671.5 177.9L670.5 177.8L669.5 177.8L668.5 177.8L667.5 177.8L666.5 177.6L665.5 177.3L664.5 177.1L663.5 177.0L662.5 177.0L661.5 176.9L660.5 176.7L659.5 176.4L658.5 176.1L657.5 176.0L656.5 175.9L655.5 175.8L654.5 175.5L653.5 175.1L652.5 174.7L651.5 174.5L650.5 174.4L649.5 174.3L648.5 174.2L647.5 174.0L646.5 173.8L645.5 173.8L644.5 173.9L643.5 174.0L642.5 173.9L641.5 173.9L640.5 174.3L639.5 175.4L638.5 176.8L637.5 178.4L636.5 179.7L635.5 180.6L634.5 181.4L633.5 181.9L632.5 182.5L631.5 183.0L630.5 183.5L629.5 183.7L628.5 183.9L627.5 184.2L626.5 184.6L625.5 184.9L624.5 185.1L623.5 185.0L622.5 184.9L621.5 184.8L620.5 184.7L619.5 184.6L618.5 184.4L617.5 184.0L616.5 183.5L615.5 183.0L614.5 182.7L613.5 182.4L612.5 182.1L611.5 181.6L610.5 180.9L609.5 180.2L608.5 179.5L607.5 179.0L606.5 178.3L605.5 177.5L604.5 176.7L603.5 176.0L602.5 175.5L601.5 175.2L600.5 174.9L599.5 174.5L598.5 173.9L597.5 173.5L596.5 173.2L595.5 173.0L594.5 172.7L593.5 172.4L592.5 171.9L591.5 171.5L590.5 171.2L589.5 171.1L588.5 170.9L587.5 170.6L586.5 170.2L585.5 169.8L584.5 169.6L583.5 169.5L582.5 169.3L581.5 169.1L580.5 168.7L579.5 168.3L578.5 168.0L577.5 167.9L576.5 167.7L575.5 167.4L574.5 167.0L573.5 166.6L572.5 166.4L571.5 166.3L570.5 166.2L569.5 166.1L568.5 165.9L567.5 165.7L566.5 165.7L565.5 165.8L564.5 166.1L563.5 166.3L562.5 166.3L561.5 166.4L560.5 166.6L559.5 166.9L558.5 167.3L557.5 167.6L556.5 167.8L555.5 167.9L554.5 168.1L553.5 168.4L552.5 168.8L551.5 169.1L550.5 169.3L549.5 169.4L548.5 169.7L547.5 170.0L546.5 170.5L545.5 170.9L544.5 171.1L543.5 171.2L542.5 171.4L541.5 171.7L540.5 172.1L539.5 172.4L538.5 172.5L537.5 172.5L536.5 172.5L535.5 172.6L534.5 172.7L533.5 172.8L532.5 172.8L531.5 172.6L530.5 172.5L529.5 172.5L528.5 172.6L527.5 172.7L526.5 172.6L525.5 172.5L524.5 172.3L523.5 172.3L522.5 172.4L521.5 172.4L520.5 172.4L519.5 172.2L518.5 172.0L517.5 171.9L516.5 172.0L515.5 172.1L514.5 172.0L513.5 171.8L512.5 171.6L511.5 171.5L510.5 171.5L509.5 171.6L508.5 171.5L507.5 171.3L506.5 171.0L505.5 170.8L504.5 170.7L503.5 170.7L502.5 170.6L501.5 170.2L500.5 169.9L499.5 169.6L498.5 169.5L497.5 169.4L496.5 169.2L495.5 168.9L494.5 168.5L493.5 168.2L492.5 168.1L491.5 168.0L490.5 167.8L489.5 167.4L488.5 167.0L487.5 166.6L486.5 166.4L485.5 166.1L484.5 165.8L483.5 165.3L482.5 164.8L481.5 164.3L480.5 163.9L479.5 163.7L478.5 163.4L477.5 163.1L476.5 162.7L475.5 162.5L474.5 162.4L473.5 162.3L472.5 162.3L471.5 162.2L470.5 162.2L469.5 162.2L468.5 162.1L467.5 162.1L466.5 162.1L465.5 162.1L464.5 162.1L463.5 162.1L462.5 162.1L461.5 162.0L460.5 162.0L459.5 162.0L458.5 162.0L457.5 162.0L456.5 162.0L455.5 161.9L454.5 161.9L453.5 161.9L452.5 161.8L451.5 161.8L450.5 161.5L449.5 161.3L448.5 161.0L447.5 160.8L446.5 160.8L445.5 160.8L444.5 160.8L443.5 160.8L442.5 160.8L441.5 160.8L440.5 160.8L439.5 160.8L438.5 160.8L437.5 160.8L436.5 160.8L435.5 160.8L434.5 160.8L433.5 160.8L432.5 160.8L431.5 160.8L430.5 160.8L429.5 160.7L428.5 160.7L427.5 160.7L426.5 160.7L425.5 160.7L424.5 160.7L423.5 160.7L422.5 160.7L421.5 160.7L420.5 160.7L419.5 160.7L418.5 160.7L417.5 160.7L416.5 160.7L415.5 160.7L414.5 160.7L413.5 160.7L412.5 160.7L411.5 160.7L410.5 160.7L409.5 160.7L408.5 160.7L407.5 160.7L406.5 160.7L405.5 160.7L404.5 160.7L403.5 160.7L402.5 160.7L401.5 160.7L400.5 160.7L399.5 160.7L398.5 160.7L397.5 160.7L396.5 160.7L395.5 160.7L394.5 160.7L393.5 160.7L392.5 160.7L391.5 160.7L390.5 160.7L389.5 160.7L388.5 160.7L387.5 160.7L386.5 160.7L385.5 160.7L384.5 160.7L383.5 160.7L382.5 160.7L381.5 160.7L380.5 160.7L379.5 160.7L378.5 160.7L377.5 160.7L376.5 160.7L375.5 160.7L374.5 160.6L373.5 160.4L372.5 159.8L371.5 158.9L370.5 156.0ZM356.2 156.0a4.8 4.8 0 1 0 9.6 0a4.8 4.8 0 1 0 -9.6 0ZM358.7 156.0a4.8 4.8 0 1 0 9.6 0a4.8 4.8 0 1 0 -9.6 0ZM463.5 225.5L464.5 222.7L465.5 221.8L466.5 221.3L467.5 221.0L468.5 220.9L469.5 220.9L470.5 220.9L471.5 220.8L472.5 220.8L473.5 220.8L474.5 220.7L475.5 220.7L476.5 220.6L477.5 220.5L478.5 220.5L479.5 220.3L480.5 220.2L481.5 220.0L482.5 219.8L483.5 219.6L484.5 219.4L485.5 219.2L486.5 219.0L487.5 218.9L488.5 218.5L489.5 218.1L490.5 217.9L491.5 217.8L492.5 217.7L493.5 217.6L494.5 217.3L495.5 217.0L496.5 216.8L497.5 216.8L498.5 216.8L499.5 216.7L500.5 216.4L501.5 216.2L502.5 215.9L503.5 215.9L504.5 215.9L505.5 215.8L506.5 215.6L507.5 215.4L508.5 215.2L509.5 215.2L510.5 215.3L511.5 215.3L512.5 215.2L513.5 215.0L514.5 215.0L515.5 215.0L516.5 215.2L517.5 215.3L518.5 215.2L519.5 215.1L520.5 215.0L521.5 215.1L522.5 215.2L523.5 215.4L524.5 215.4L525.5 215.2L526.5 215.2L527.5 215.2L528.5 215.4L529.5 215.5L530.5 215.5L531.5 215.4L532.5 215.3L533.5 215.4L534.5 215.5L535.5 215.7L536.5 215.7L537.5 215.6L538.5 215.5L539.5 215.5L540.5 215.7L541.5 215.8L542.5 215.9L543.5 215.8L544.5 215.7L545.5 215.7L546.5 215.8L547.5 216.0L548.5 216.0L549.5 215.9L550.5 215.8L551.5 215.8L552.5 215.9L553.5 216.1L554.5 216.2L555.5 216.1L556.5 216.0L557.5 215.9L558.5 216.1L559.5 216.2L560.5 216.3L561.5 216.2L562.5 216.1L563.5 216.1L564.5 216.2L565.5 216.4L566.5 216.5L567.5 216.4L568.5 216.3L569.5 216.2L570.5 216.3L571.5 216.5L572.5 216.6L573.5 216.6L574.5 216.5L575.5 216.4L576.5 216.5L577.5 216.7L578.5 216.8L579.5 216.8L580.5 216.7L581.5 216.7L582.5 216.8L583.5 216.9L584.5 217.1L585.5 217.1L586.5 217.0L587.5 216.9L588.5 217.0L589.5 217.2L590.5 217.4L591.5 217.4L592.5 217.3L593.5 217.2L594.5 217.3L595.5 217.5L596.5 217.6L597.5 217.7L598.5 217.6L599.5 217.5L600.5 217.5L601.5 217.7L602.5 217.9L603.5 217.9L604.5 217.8L605.5 217.7L606.5 217.8L607.5 217.9L608.5 218.1L609.5 218.1L610.5 218.0L611.5 217.9L612.5 217.9L613.5 218.1L614.5 218.2L615.5 218.3L616.5 218.2L617.5 218.1L618.5 218.1L619.5 218.2L620.5 218.4L621.5 218.5L622.5 218.4L623.5 218.3L624.5 218.2L625.5 218.4L626.5 218.5L627.5 218.6L628.5 218.6L629.5 218.4L630.5 218.4L631.5 218.5L632.5 218.7L633.5 218.8L634.5 218.7L635.5 218.6L636.5 218.5L637.5 218.6L638.5 218.8L639.5 218.9L640.5 218.8L641.5 218.7L642.5 218.6L643.5 218.7L644.5 218.8L645.5 218.9L646.5 218.9L647.5 218.8L648.5 218.7L649.5 218.7L650.5 218.8L651.5 218.9L652.5 218.9L653.5 218.8L654.5 218.7L655.5 218.7L656.5 218.8L657.5 218.9L658.5 218.9L659.5 218.8L660.5 218.7L661.5 218.7L662.5 218.8L663.5 218.9L664.5 218.9L665.5 218.8L666.5 218.7L667.5 218.7L668.5 218.8L669.5 218.9L670.5 218.9L671.5 218.8L672.5 218.7L673.5 218.7L674.5 218.8L675.5 218.9L676.5 218.9L677.5 218.8L678.5 218.7L679.5 218.7L680.5 218.8L681.5 218.9L682.5 218.9L683.5 218.9L684.5 218.7L685.5 218.6L686.5 218.4L687.5 217.9L688.5 217.2L689.5 216.2L690.5 215.1L691.5 214.0L692.5 213.1L693.5 212.5L694.5 211.7L695.5 210.8L696.5 209.9L697.5 208.9L698.5 208.1L699.5 207.4L700.5 206.6L701.5 205.7L702.5 204.7L703.5 203.8L704.5 203.0L705.5 202.1L706.5 201.1L707.5 200.0L708.5 198.8L709.5 197.4L710.5 196.7L711.5 196.4L712.5 196.3L713.5 196.2L714.5 196.1L715.5 196.1L716.5 196.2L717.5 196.5L718.5 196.9L719.5 197.1L720.5 197.2L721.5 197.3L722.5 197.6L723.5 198.0L724.5 198.5L725.5 198.8L726.5 199.1L727.5 199.5L728.5 200.1L729.5 200.8L730.5 201.7L731.5 202.5L732.5 203.2L733.5 203.9L734.5 204.7L735.5 205.7L736.5 206.6L737.5 207.7L738.5 208.6L739.5 209.5L740.5 210.6L741.5 211.9L742.5 213.0L743.5 213.9L744.5 214.5L745.5 214.9L746.5 215.5L747.5 216.2L748.5 216.9L749.5 217.5L750.5 217.9L751.5 218.2L752.5 218.5L753.5 219.0L754.5 219.3L755.5 219.6L756.5 219.8L757.5 220.0L758.5 220.1L759.5 220.2L760.5 220.3L761.5 220.4L762.5 220.5L763.5 220.6L764.5 220.6L765.5 220.7L766.5 220.8L767.5 220.9L768.5 220.9L769.5 221.0L770.5 221.1L771.5 221.2L772.5 221.3L773.5 221.3L774.5 221.4L775.5 221.5L776.5 221.6L777.5 221.9L778.5 222.1L779.5 222.6L780.5 223.7L781.0 225.5L781.0 225.5L780.5 227.3L779.5 228.4L778.5 228.9L777.5 229.1L776.5 229.4L775.5 229.5L774.5 229.6L773.5 229.7L772.5 229.7L771.5 229.8L770.5 229.9L769.5 230.0L768.5 230.1L767.5 230.1L766.5 230.2L765.5 230.3L764.5 230.4L763.5 230.4L762.5 230.5L761.5 230.6L760.5 230.7L759.5 230.8L758.5 230.9L757.5 231.0L756.5 231.2L755.5 231.4L754.5 231.7L753.5 232.0L752.5 232.5L751.5 232.8L750.5 233.1L749.5 233.5L748.5 234.1L747.5 234.8L746.5 235.5L745.5 236.1L744.5 236.5L743.5 237.1L742.5 238.0L741.5 239.1L740.5 240.4L739.5 241.5L738.5 242.4L737.5 243.3L736.5 244.4L735.5 245.3L734.5 246.3L733.5 247.1L732.5 247.8L731.5 248.5L730.5 249.3L729.5 250.2L728.5 250.9L727.5 251.5L726.5 251.9L725.5 252.2L724.5 252.5L723.5 253.0L722.5 253.4L721.5 253.7L720.5 253.8L719.5 253.9L718.5 254.1L717.5 254.5L716.5 254.8L715.5 254.9L714.5 254.9L713.5 254.8L712.5 254.7L711.5 254.6L710.5 254.3L709.5 253.6L708.5 252.2L707.5 251.0L706.5 249.9L705.5 248.9L704.5 248.0L703.5 247.2L702.5 246.3L701.5 245.3L700.5 244.4L699.5 243.6L698.5 242.9L697.5 242.1L696.5 241.1L695.5 240.2L694.5 239.3L693.5 238.5L692.5 237.9L691.5 237.0L690.5 235.9L689.5 234.8L688.5 233.8L687.5 233.1L686.5 232.6L685.5 232.4L684.5 232.3L683.5 232.1L682.5 232.1L681.5 232.1L680.5 232.2L679.5 232.3L678.5 232.3L677.5 232.2L676.5 232.1L675.5 232.1L674.5 232.2L673.5 232.3L672.5 232.3L671.5 232.2L670.5 232.1L669.5 232.1L668.5 232.2L667.5 232.3L666.5 232.3L665.5 232.2L664.5 232.1L663.5 232.1L662.5 232.2L661.5 232.3L660.5 232.3L659.5 232.2L658.5 232.1L657.5 232.1L656.5 232.2L655.5 232.3L654.5 232.3L653.5 232.2L652.5 232.1L651.5 232.1L650.5 232.2L649.5 232.3L648.5 232.3L647.5 232.2L646.5 232.1L645.5 232.1L644.5 232.2L643.5 232.3L642.5 232.4L641.5 232.3L640.5 232.2L639.5 232.1L638.5 232.2L637.5 232.4L636.5 232.5L635.5 232.4L634.5 232.3L633.5 232.2L632.5 232.3L631.5 232.5L630.5 232.6L629.5 232.6L628.5 232.4L627.5 232.4L626.5 232.5L625.5 232.6L624.5 232.8L623.5 232.7L622.5 232.6L621.5 232.5L620.5 232.6L619.5 232.8L618.5 232.9L617.5 232.9L616.5 232.8L615.5 232.7L614.5 232.8L613.5 232.9L612.5 233.1L611.5 233.1L610.5 233.0L609.5 232.9L608.5 232.9L607.5 233.1L606.5 233.2L605.5 233.3L604.5 233.2L603.5 233.1L602.5 233.1L601.5 233.3L600.5 233.5L599.5 233.5L598.5 233.4L597.5 233.3L596.5 233.4L595.5 233.5L594.5 233.7L593.5 233.8L592.5 233.7L591.5 233.6L590.5 233.6L589.5 233.8L588.5 234.0L587.5 234.1L586.5 234.0L585.5 233.9L584.5 233.9L583.5 234.1L582.5 234.2L581.5 234.3L580.5 234.3L579.5 234.2L578.5 234.2L577.5 234.3L576.5 234.5L575.5 234.6L574.5 234.5L573.5 234.4L572.5 234.4L571.5 234.5L570.5 234.7L569.5 234.8L568.5 234.7L567.5 234.6L566.5 234.5L565.5 234.6L564.5 234.8L563.5 234.9L562.5 234.9L561.5 234.8L560.5 234.7L559.5 234.8L558.5 234.9L557.5 235.1L556.5 235.0L555.5 234.9L554.5 234.8L553.5 234.9L552.5 235.1L551.5 235.2L550.5 235.2L549.5 235.1L548.5 235.0L547.5 235.0L546.5 235.2L545.5 235.3L544.5 235.3L543.5 235.2L542.5 235.1L541.5 235.2L540.5 235.3L539.5 235.5L538.5 235.5L537.5 235.4L536.5 235.3L535.5 235.3L534.5 235.5L533.5 235.6L532.5 235.7L531.5 235.6L530.5 235.5L529.5 235.5L528.5 235.6L527.5 235.8L526.5 235.8L525.5 235.8L524.5 235.6L523.5 235.6L522.5 235.8L521.5 235.9L520.5 236.0L519.5 235.9L518.5 235.8L517.5 235.7L516.5 235.8L515.5 236.0L514.5 236.0L513.5 236.0L512.5 235.8L511.5 235.7L510.5 235.7L509.5 235.8L508.5 235.8L507.5 235.6L506.5 235.4L505.5 235.2L504.5 235.1L503.5 235.1L502.5 235.1L501.5 234.8L500.5 234.6L499.5 234.3L498.5 234.2L497.5 234.2L496.5 234.2L495.5 234.0L494.5 233.7L493.5 233.4L492.5 233.3L491.5 233.2L490.5 233.1L489.5 232.9L488.5 232.5L487.5 232.1L486.5 232.0L485.5 231.8L484.5 231.6L483.5 231.4L482.5 231.2L481.5 231.0L480.5 230.8L479.5 230.7L478.5 230.5L477.5 230.5L476.5 230.4L475.5 230.3L474.5 230.3L473.5 230.2L472.5 230.2L471.5 230.2L470.5 230.1L469.5 230.1L468.5 230.1L467.5 230.0L466.5 229.7L465.5 229.2L464.5 228.3L463.5 225.5ZM784.8 225.5a4.7 4.7 0 1 0 9.4 0a4.7 4.7 0 1 0 -9.4 0ZM574.0 295.0L575.0 292.1L576.0 291.2L577.0 290.7L578.0 290.4L579.0 290.4L580.0 290.4L581.0 290.4L582.0 290.3L583.0 290.3L584.0 290.3L585.0 290.3L586.0 290.3L587.0 290.3L588.0 290.2L589.0 290.2L590.0 290.2L591.0 290.2L592.0 290.1L593.0 290.1L594.0 290.1L595.0 290.0L596.0 290.0L597.0 289.9L598.0 289.8L599.0 289.7L600.0 289.7L601.0 289.6L602.0 289.5L603.0 289.4L604.0 289.3L605.0 289.2L606.0 289.1L607.0 289.0L608.0 288.9L609.0 288.8L610.0 288.7L611.0 288.6L612.0 288.5L613.0 288.3L614.0 288.3L615.0 288.2L616.0 288.0L617.0 287.7L618.0 287.4L619.0 287.3L620.0 287.3L621.0 287.1L622.0 286.8L623.0 286.4L624.0 286.1L625.0 285.8L626.0 285.6L627.0 285.2L628.0 284.6L629.0 283.9L630.0 283.2L631.0 282.5L632.0 281.9L633.0 281.2L634.0 280.3L635.0 278.7L636.0 276.9L637.0 275.2L638.0 273.6L639.0 272.2L640.0 271.1L641.0 269.9L642.0 268.8L643.0 267.9L644.0 267.1L645.0 266.3L646.0 265.7L647.0 265.3L648.0 265.1L649.0 265.1L650.0 265.5L651.0 265.9L652.0 266.4L653.0 266.8L654.0 267.2L655.0 267.9L656.0 269.0L657.0 270.7L658.0 272.6L659.0 274.0L660.0 274.4L661.0 274.9L662.0 275.4L663.0 275.9L664.0 276.3L665.0 276.4L666.0 276.5L667.0 276.7L668.0 277.1L669.0 277.4L670.0 277.7L671.0 277.8L672.0 277.9L673.0 278.1L674.0 278.4L675.0 278.9L676.0 279.2L677.0 279.5L678.0 279.6L679.0 279.8L680.0 280.2L681.0 280.7L682.0 281.0L683.0 281.3L684.0 281.4L685.0 281.6L686.0 282.0L687.0 282.4L688.0 282.8L689.0 283.0L690.0 283.1L691.0 283.3L692.0 283.7L693.0 284.1L694.0 284.5L695.0 284.8L696.0 284.9L697.0 285.1L698.0 285.5L699.0 285.9L700.0 286.3L701.0 286.5L702.0 286.6L703.0 286.7L704.0 286.9L705.0 287.2L706.0 287.4L707.0 287.5L708.0 287.5L709.0 287.5L710.0 287.6L711.0 287.8L712.0 288.0L713.0 288.1L714.0 288.1L715.0 288.0L716.0 288.1L717.0 288.3L718.0 288.5L719.0 288.5L720.0 288.5L721.0 288.6L722.0 288.6L723.0 288.7L724.0 288.7L725.0 288.8L726.0 288.8L727.0 288.9L728.0 288.9L729.0 289.0L730.0 289.0L731.0 289.0L732.0 289.1L733.0 289.1L734.0 289.1L735.0 289.2L736.0 289.2L737.0 289.2L738.0 289.2L739.0 289.3L740.0 289.3L741.0 289.3L742.0 289.3L743.0 289.3L744.0 289.4L745.0 289.4L746.0 289.4L747.0 289.4L748.0 289.5L749.0 289.5L750.0 289.5L751.0 289.5L752.0 289.5L753.0 289.6L754.0 289.6L755.0 289.6L756.0 289.6L757.0 289.7L758.0 289.7L759.0 289.7L760.0 289.7L761.0 289.8L762.0 289.8L763.0 289.8L764.0 289.8L765.0 289.9L766.0 289.9L767.0 289.9L768.0 289.9L769.0 290.0L770.0 290.0L771.0 290.0L772.0 290.3L773.0 290.6L774.0 291.1L775.0 292.1L776.0 295.0L776.0 295.0L775.0 297.9L774.0 298.9L773.0 299.4L772.0 299.7L771.0 300.0L770.0 300.0L769.0 300.0L768.0 300.1L767.0 300.1L766.0 300.1L765.0 300.1L764.0 300.2L763.0 300.2L762.0 300.2L761.0 300.2L760.0 300.3L759.0 300.3L758.0 300.3L757.0 300.3L756.0 300.4L755.0 300.4L754.0 300.4L753.0 300.4L752.0 300.5L751.0 300.5L750.0 300.5L749.0 300.5L748.0 300.5L747.0 300.6L746.0 300.6L745.0 300.6L744.0 300.6L743.0 300.7L742.0 300.7L741.0 300.7L740.0 300.7L739.0 300.7L738.0 300.8L737.0 300.8L736.0 300.8L735.0 300.8L734.0 300.9L733.0 300.9L732.0 300.9L731.0 301.0L730.0 301.0L729.0 301.0L728.0 301.1L727.0 301.1L726.0 301.2L725.0 301.2L724.0 301.3L723.0 301.3L722.0 301.4L721.0 301.4L720.0 301.5L719.0 301.5L718.0 301.5L717.0 301.7L716.0 301.9L715.0 302.0L714.0 301.9L713.0 301.9L712.0 302.0L711.0 302.2L710.0 302.4L709.0 302.5L708.0 302.5L707.0 302.5L706.0 302.6L705.0 302.8L704.0 303.1L703.0 303.3L702.0 303.4L701.0 303.5L700.0 303.7L699.0 304.1L698.0 304.5L697.0 304.9L696.0 305.1L695.0 305.2L694.0 305.5L693.0 305.9L692.0 306.3L691.0 306.7L690.0 306.9L689.0 307.0L688.0 307.2L687.0 307.6L686.0 308.0L685.0 308.4L684.0 308.6L683.0 308.7L682.0 309.0L681.0 309.3L680.0 309.8L679.0 310.2L678.0 310.4L677.0 310.5L676.0 310.8L675.0 311.1L674.0 311.6L673.0 311.9L672.0 312.1L671.0 312.2L670.0 312.3L669.0 312.6L668.0 312.9L667.0 313.3L666.0 313.5L665.0 313.6L664.0 313.7L663.0 314.1L662.0 314.6L661.0 315.1L660.0 315.6L659.0 316.0L658.0 317.4L657.0 319.3L656.0 321.0L655.0 322.1L654.0 322.8L653.0 323.2L652.0 323.6L651.0 324.1L650.0 324.5L649.0 324.9L648.0 324.9L647.0 324.7L646.0 324.3L645.0 323.7L644.0 322.9L643.0 322.1L642.0 321.2L641.0 320.1L640.0 318.9L639.0 317.8L638.0 316.4L637.0 314.8L636.0 313.1L635.0 311.3L634.0 309.7L633.0 308.8L632.0 308.1L631.0 307.5L630.0 306.8L629.0 306.1L628.0 305.4L627.0 304.8L626.0 304.4L625.0 304.2L624.0 303.9L623.0 303.6L622.0 303.2L621.0 302.9L620.0 302.7L619.0 302.7L618.0 302.6L617.0 302.3L616.0 302.0L615.0 301.8L614.0 301.7L613.0 301.7L612.0 301.5L611.0 301.4L610.0 301.3L609.0 301.2L608.0 301.1L607.0 301.0L606.0 300.9L605.0 300.8L604.0 300.7L603.0 300.6L602.0 300.5L601.0 300.4L600.0 300.3L599.0 300.3L598.0 300.2L597.0 300.1L596.0 300.0L595.0 300.0L594.0 299.9L593.0 299.9L592.0 299.9L591.0 299.8L590.0 299.8L589.0 299.8L588.0 299.8L587.0 299.7L586.0 299.7L585.0 299.7L584.0 299.7L583.0 299.7L582.0 299.7L581.0 299.6L580.0 299.6L579.0 299.6L578.0 299.6L577.0 299.3L576.0 298.8L575.0 297.9L574.0 295.0ZM776.1 295.0a4.4 4.4 0 1 0 8.8 0a4.4 4.4 0 1 0 -8.8 0ZM785.1 295.0a4.4 4.4 0 1 0 8.8 0a4.4 4.4 0 1 0 -8.8 0ZM794.1 295.0a4.7 4.7 0 1 0 9.4 0a4.7 4.7 0 1 0 -9.4 0ZM579.0 364.5L580.0 361.7L581.0 360.9L582.0 360.4L583.0 360.2L584.0 360.1L585.0 360.1L586.0 360.1L587.0 360.1L588.0 360.1L589.0 360.0L590.0 360.0L591.0 360.0L592.0 359.9L593.0 359.9L594.0 359.8L595.0 359.7L596.0 359.6L597.0 359.6L598.0 359.5L599.0 359.4L600.0 359.3L601.0 359.1L602.0 359.0L603.0 358.9L604.0 358.8L605.0 358.7L606.0 358.5L607.0 358.4L608.0 358.3L609.0 358.1L610.0 358.0L611.0 357.7L612.0 357.6L613.0 357.6L614.0 357.6L615.0 357.5L616.0 357.2L617.0 356.9L618.0 356.7L619.0 356.7L620.0 356.6L621.0 356.4L622.0 356.1L623.0 355.7L624.0 355.4L625.0 355.3L626.0 355.1L627.0 354.7L628.0 354.0L629.0 353.2L630.0 352.4L631.0 351.7L632.0 351.1L633.0 350.4L634.0 349.4L635.0 348.4L636.0 347.5L637.0 346.8L638.0 346.4L639.0 345.9L640.0 345.4L641.0 344.7L642.0 344.3L643.0 344.0L644.0 344.0L645.0 343.9L646.0 344.0L647.0 344.1L648.0 344.6L649.0 345.3L650.0 346.0L651.0 346.7L652.0 347.1L653.0 347.4L654.0 347.7L655.0 348.1L656.0 348.5L657.0 347.5L658.0 343.9L659.0 340.4L660.0 338.6L661.0 337.6L662.0 336.7L663.0 336.1L664.0 335.6L665.0 335.2L666.0 334.8L667.0 334.6L668.0 334.7L669.0 334.9L670.0 335.1L671.0 335.2L672.0 335.4L673.0 335.8L674.0 336.4L675.0 337.3L676.0 338.1L677.0 339.0L678.0 339.9L679.0 341.3L680.0 343.0L681.0 344.8L682.0 346.6L683.0 348.7L684.0 350.9L685.0 353.0L686.0 354.5L687.0 355.0L688.0 355.4L689.0 355.6L690.0 355.7L691.0 355.9L692.0 356.2L693.0 356.6L694.0 356.7L695.0 356.8L696.0 356.8L697.0 356.8L698.0 357.0L699.0 357.3L700.0 357.5L701.0 357.5L702.0 357.5L703.0 357.5L704.0 357.7L705.0 357.9L706.0 357.9L707.0 358.0L708.0 358.1L709.0 358.2L710.0 358.2L711.0 358.3L712.0 358.4L713.0 358.4L714.0 358.5L715.0 358.5L716.0 358.6L717.0 358.7L718.0 358.7L719.0 358.8L720.0 358.8L721.0 358.8L722.0 358.9L723.0 358.9L724.0 359.0L725.0 359.0L726.0 359.1L727.0 359.1L728.0 359.1L729.0 359.2L730.0 359.2L731.0 359.3L732.0 359.3L733.0 359.3L734.0 359.4L735.0 359.4L736.0 359.4L737.0 359.5L738.0 359.5L739.0 359.5L740.0 359.6L741.0 359.6L742.0 359.6L743.0 359.6L744.0 359.6L745.0 359.7L746.0 359.7L747.0 359.7L748.0 359.7L749.0 359.7L750.0 359.7L751.0 359.7L752.0 359.7L753.0 359.7L754.0 359.7L755.0 359.7L756.0 359.7L757.0 359.8L758.0 360.1L759.0 360.6L760.0 361.6L761.0 364.5L761.0 364.5L760.0 367.4L759.0 368.4L758.0 368.9L757.0 369.2L756.0 369.3L755.0 369.3L754.0 369.3L753.0 369.3L752.0 369.3L751.0 369.3L750.0 369.3L749.0 369.3L748.0 369.3L747.0 369.3L746.0 369.3L745.0 369.3L744.0 369.4L743.0 369.4L742.0 369.4L741.0 369.4L740.0 369.4L739.0 369.5L738.0 369.5L737.0 369.5L736.0 369.6L735.0 369.6L734.0 369.6L733.0 369.7L732.0 369.7L731.0 369.7L730.0 369.8L729.0 369.8L728.0 369.9L727.0 369.9L726.0 369.9L725.0 370.0L724.0 370.0L723.0 370.1L722.0 370.1L721.0 370.2L720.0 370.2L719.0 370.2L718.0 370.3L717.0 370.3L716.0 370.4L715.0 370.5L714.0 370.5L713.0 370.6L712.0 370.6L711.0 370.7L710.0 370.8L709.0 370.8L708.0 370.9L707.0 371.0L706.0 371.1L705.0 371.1L704.0 371.3L703.0 371.5L702.0 371.5L701.0 371.5L700.0 371.5L699.0 371.7L698.0 372.0L697.0 372.2L696.0 372.2L695.0 372.2L694.0 372.3L693.0 372.4L692.0 372.8L691.0 373.1L690.0 373.3L689.0 373.4L688.0 373.6L687.0 374.0L686.0 374.5L685.0 376.0L684.0 378.1L683.0 380.3L682.0 382.4L681.0 384.2L680.0 386.0L679.0 387.7L678.0 389.1L677.0 390.0L676.0 390.9L675.0 391.7L674.0 392.6L673.0 393.2L672.0 393.6L671.0 393.8L670.0 393.9L669.0 394.1L668.0 394.3L667.0 394.4L666.0 394.2L665.0 393.8L664.0 393.4L663.0 392.9L662.0 392.3L661.0 391.4L660.0 390.4L659.0 388.6L658.0 385.1L657.0 381.5L656.0 380.5L655.0 380.9L654.0 381.3L653.0 381.6L652.0 381.9L651.0 382.3L650.0 383.0L649.0 383.7L648.0 384.4L647.0 384.9L646.0 385.0L645.0 385.1L644.0 385.0L643.0 385.0L642.0 384.7L641.0 384.3L640.0 383.6L639.0 383.1L638.0 382.6L637.0 382.2L636.0 381.5L635.0 380.6L634.0 379.6L633.0 378.6L632.0 377.9L631.0 377.3L630.0 376.6L629.0 375.8L628.0 375.0L627.0 374.3L626.0 373.9L625.0 373.7L624.0 373.6L623.0 373.3L622.0 372.9L621.0 372.6L620.0 372.4L619.0 372.3L618.0 372.3L617.0 372.1L616.0 371.8L615.0 371.5L614.0 371.4L613.0 371.4L612.0 371.4L611.0 371.3L610.0 371.0L609.0 370.9L608.0 370.7L607.0 370.6L606.0 370.5L605.0 370.3L604.0 370.2L603.0 370.1L602.0 370.0L601.0 369.9L600.0 369.7L599.0 369.6L598.0 369.5L597.0 369.4L596.0 369.4L595.0 369.3L594.0 369.2L593.0 369.1L592.0 369.1L591.0 369.0L590.0 369.0L589.0 369.0L588.0 368.9L587.0 368.9L586.0 368.9L585.0 368.9L584.0 368.9L583.0 368.8L582.0 368.6L581.0 368.1L580.0 367.3L579.0 364.5ZM551.0 434.5L552.0 431.6L553.0 430.7L554.0 430.2L555.0 430.0L556.0 430.0L557.0 430.0L558.0 430.0L559.0 430.0L560.0 430.0L561.0 430.0L562.0 430.0L563.0 430.0L564.0 430.0L565.0 430.0L566.0 430.0L567.0 430.0L568.0 430.0L569.0 430.0L570.0 429.9L571.0 429.9L572.0 429.9L573.0 429.9L574.0 429.9L575.0 429.9L576.0 429.9L577.0 429.8L578.0 429.8L579.0 429.8L580.0 429.8L581.0 429.8L582.0 429.8L583.0 429.7L584.0 429.7L585.0 429.7L586.0 429.7L587.0 429.7L588.0 429.6L589.0 429.6L590.0 429.6L591.0 429.6L592.0 429.6L593.0 429.5L594.0 429.5L595.0 429.5L596.0 429.4L597.0 429.4L598.0 429.4L599.0 429.3L600.0 429.3L601.0 429.2L602.0 429.2L603.0 429.1L604.0 429.1L605.0 429.0L606.0 429.0L607.0 428.9L608.0 428.8L609.0 428.8L610.0 428.7L611.0 428.6L612.0 428.5L613.0 428.5L614.0 428.4L615.0 428.3L616.0 428.1L617.0 428.0L618.0 427.9L619.0 427.9L620.0 427.8L621.0 427.5L622.0 427.3L623.0 427.1L624.0 427.0L625.0 427.0L626.0 426.9L627.0 426.6L628.0 426.3L629.0 426.1L630.0 426.0L631.0 425.9L632.0 425.7L633.0 425.4L634.0 424.9L635.0 424.4L636.0 423.9L637.0 423.3L638.0 422.6L639.0 421.8L640.0 420.9L641.0 420.1L642.0 419.4L643.0 418.8L644.0 418.2L645.0 417.6L646.0 417.0L647.0 416.5L648.0 416.2L649.0 416.1L650.0 416.1L651.0 416.1L652.0 416.0L653.0 415.9L654.0 415.9L655.0 416.0L656.0 416.1L657.0 413.6L658.0 409.8L659.0 406.9L660.0 405.8L661.0 405.5L662.0 405.3L663.0 405.0L664.0 404.7L665.0 404.4L666.0 404.4L667.0 404.6L668.0 405.0L669.0 405.6L670.0 406.5L671.0 408.7L672.0 410.1L673.0 411.9L674.0 414.9L675.0 418.1L676.0 420.4L677.0 421.0L678.0 421.4L679.0 421.9L680.0 422.4L681.0 422.7L682.0 422.8L683.0 422.9L684.0 423.1L685.0 423.4L686.0 423.9L687.0 424.3L688.0 424.6L689.0 424.8L690.0 425.1L691.0 425.6L692.0 426.1L693.0 426.5L694.0 426.8L695.0 426.9L696.0 427.1L697.0 427.3L698.0 427.6L699.0 427.9L700.0 427.9L701.0 428.1L702.0 428.2L703.0 428.4L704.0 428.5L705.0 428.6L706.0 428.7L707.0 428.8L708.0 428.9L709.0 428.9L710.0 429.0L711.0 429.0L712.0 429.1L713.0 429.1L714.0 429.2L715.0 429.2L716.0 429.2L717.0 429.3L718.0 429.3L719.0 429.3L720.0 429.4L721.0 429.4L722.0 429.4L723.0 429.4L724.0 429.4L725.0 429.5L726.0 429.5L727.0 429.5L728.0 429.5L729.0 429.5L730.0 429.5L731.0 429.5L732.0 429.5L733.0 429.5L734.0 429.7L735.0 430.2L736.0 430.9L737.0 432.3L737.5 434.5L737.5 434.5L737.0 436.7L736.0 438.1L735.0 438.8L734.0 439.3L733.0 439.5L732.0 439.5L731.0 439.5L730.0 439.5L729.0 439.5L728.0 439.5L727.0 439.5L726.0 439.5L725.0 439.5L724.0 439.6L723.0 439.6L722.0 439.6L721.0 439.6L720.0 439.6L719.0 439.7L718.0 439.7L717.0 439.7L716.0 439.8L715.0 439.8L714.0 439.8L713.0 439.9L712.0 439.9L711.0 440.0L710.0 440.0L709.0 440.1L708.0 440.1L707.0 440.2L706.0 440.3L705.0 440.4L704.0 440.5L703.0 440.6L702.0 440.8L701.0 440.9L700.0 441.1L699.0 441.1L698.0 441.4L697.0 441.7L696.0 441.9L695.0 442.1L694.0 442.2L693.0 442.5L692.0 442.9L691.0 443.4L690.0 443.9L689.0 444.2L688.0 444.4L687.0 444.7L686.0 445.1L685.0 445.6L684.0 445.9L683.0 446.1L682.0 446.2L681.0 446.3L680.0 446.6L679.0 447.1L678.0 447.6L677.0 448.0L676.0 448.6L675.0 450.9L674.0 454.1L673.0 457.1L672.0 458.9L671.0 460.3L670.0 462.5L669.0 463.4L668.0 464.0L667.0 464.4L666.0 464.6L665.0 464.6L664.0 464.3L663.0 464.0L662.0 463.7L661.0 463.5L660.0 463.2L659.0 462.1L658.0 459.2L657.0 455.4L656.0 452.9L655.0 453.0L654.0 453.1L653.0 453.1L652.0 453.0L651.0 452.9L650.0 452.9L649.0 452.9L648.0 452.8L647.0 452.5L646.0 452.0L645.0 451.4L644.0 450.8L643.0 450.2L642.0 449.6L641.0 448.9L640.0 448.1L639.0 447.2L638.0 446.4L637.0 445.7L636.0 445.1L635.0 444.6L634.0 444.1L633.0 443.6L632.0 443.3L631.0 443.1L630.0 443.0L629.0 442.9L628.0 442.7L627.0 442.4L626.0 442.1L625.0 442.0L624.0 442.0L623.0 441.9L622.0 441.7L621.0 441.5L620.0 441.2L619.0 441.1L618.0 441.1L617.0 441.0L616.0 440.9L615.0 440.7L614.0 440.6L613.0 440.5L612.0 440.5L611.0 440.4L610.0 440.3L609.0 440.2L608.0 440.2L607.0 440.1L606.0 440.0L605.0 440.0L604.0 439.9L603.0 439.9L602.0 439.8L601.0 439.8L600.0 439.7L599.0 439.7L598.0 439.6L597.0 439.6L596.0 439.6L595.0 439.5L594.0 439.5L593.0 439.5L592.0 439.4L591.0 439.4L590.0 439.4L589.0 439.4L588.0 439.4L587.0 439.3L586.0 439.3L585.0 439.3L584.0 439.3L583.0 439.3L582.0 439.2L581.0 439.2L580.0 439.2L579.0 439.2L578.0 439.2L577.0 439.2L576.0 439.1L575.0 439.1L574.0 439.1L573.0 439.1L572.0 439.1L571.0 439.1L570.0 439.1L569.0 439.0L568.0 439.0L567.0 439.0L566.0 439.0L565.0 439.0L564.0 439.0L563.0 439.0L562.0 439.0L561.0 439.0L560.0 439.0L559.0 439.0L558.0 439.0L557.0 439.0L556.0 439.0L555.0 439.0L554.0 438.8L553.0 438.3L552.0 437.4L551.0 434.5ZM742.0 434.5a5.0 5.0 0 1 0 10.0 0a5.0 5.0 0 1 0 -10.0 0ZM747.0 434.5a5.0 5.0 0 1 0 10.0 0a5.0 5.0 0 1 0 -10.0 0ZM751.5 434.5a5.0 5.0 0 1 0 10.0 0a5.0 5.0 0 1 0 -10.0 0ZM549.0 504.0L550.0 501.1L551.0 500.1L552.0 499.6L553.0 499.3L554.0 499.1L555.0 499.1L556.0 499.1L557.0 499.0L558.0 499.0L559.0 499.0L560.0 499.0L561.0 499.0L562.0 499.0L563.0 499.0L564.0 499.0L565.0 499.0L566.0 498.9L567.0 498.9L568.0 498.9L569.0 498.9L570.0 498.9L571.0 498.9L572.0 498.9L573.0 498.9L574.0 498.9L575.0 498.9L576.0 498.9L577.0 498.9L578.0 498.9L579.0 498.9L580.0 498.9L581.0 498.9L582.0 498.9L583.0 498.9L584.0 498.9L585.0 498.9L586.0 498.9L587.0 498.9L588.0 498.9L589.0 498.9L590.0 498.8L591.0 498.8L592.0 498.8L593.0 498.8L594.0 498.8L595.0 498.8L596.0 498.8L597.0 498.8L598.0 498.8L599.0 498.8L600.0 498.8L601.0 498.8L602.0 498.8L603.0 498.7L604.0 498.7L605.0 498.7L606.0 498.7L607.0 498.7L608.0 498.6L609.0 498.5L610.0 498.4L611.0 498.3L612.0 498.2L613.0 498.0L614.0 497.9L615.0 497.7L616.0 497.5L617.0 497.2L618.0 497.1L619.0 497.0L620.0 496.8L621.0 496.5L622.0 496.1L623.0 495.8L624.0 495.6L625.0 495.4L626.0 495.0L627.0 494.5L628.0 493.9L629.0 493.5L630.0 493.2L631.0 492.9L632.0 492.4L633.0 491.9L634.0 491.3L635.0 490.8L636.0 490.5L637.0 490.1L638.0 489.7L639.0 489.0L640.0 488.4L641.0 487.8L642.0 487.3L643.0 486.9L644.0 486.3L645.0 485.6L646.0 484.8L647.0 484.1L648.0 483.5L649.0 482.9L650.0 482.2L651.0 481.3L652.0 480.3L653.0 479.0L654.0 475.9L655.0 475.1L656.0 474.6L657.0 474.2L658.0 473.9L659.0 474.0L660.0 474.3L661.0 475.1L662.0 476.1L663.0 477.3L664.0 477.9L665.0 478.5L666.0 478.9L667.0 479.2L668.0 479.5L669.0 479.5L670.0 479.5L671.0 479.4L672.0 479.6L673.0 479.9L674.0 480.1L675.0 480.4L676.0 480.7L677.0 481.1L678.0 481.8L679.0 482.7L680.0 483.6L681.0 484.3L682.0 485.0L683.0 485.8L684.0 486.8L685.0 488.1L686.0 489.5L687.0 490.8L688.0 491.8L689.0 492.7L690.0 493.4L691.0 494.0L692.0 494.6L693.0 495.0L694.0 495.3L695.0 495.5L696.0 495.8L697.0 496.2L698.0 496.6L699.0 496.9L700.0 497.0L701.0 497.1L702.0 497.5L703.0 497.7L704.0 497.9L705.0 498.1L706.0 498.3L707.0 498.4L708.0 498.6L709.0 498.6L710.0 498.7L711.0 498.7L712.0 498.8L713.0 498.8L714.0 498.8L715.0 498.8L716.0 498.9L717.0 498.9L718.0 498.9L719.0 498.9L720.0 498.9L721.0 498.9L722.0 499.0L723.0 499.0L724.0 499.0L725.0 499.0L726.0 499.0L727.0 499.0L728.0 499.0L729.0 499.0L730.0 499.0L731.0 499.0L732.0 499.0L733.0 499.0L734.0 499.0L735.0 499.0L736.0 499.0L737.0 499.2L738.0 499.7L739.0 500.4L740.0 501.8L740.5 504.0L740.5 504.0L740.0 506.2L739.0 507.6L738.0 508.3L737.0 508.8L736.0 509.0L735.0 509.0L734.0 509.0L733.0 509.0L732.0 509.0L731.0 509.0L730.0 509.0L729.0 509.0L728.0 509.0L727.0 509.0L726.0 509.0L725.0 509.0L724.0 509.0L723.0 509.0L722.0 509.0L721.0 509.1L720.0 509.1L719.0 509.1L718.0 509.1L717.0 509.1L716.0 509.1L715.0 509.2L714.0 509.2L713.0 509.2L712.0 509.2L711.0 509.3L710.0 509.3L709.0 509.4L708.0 509.4L707.0 509.6L706.0 509.7L705.0 509.9L704.0 510.1L703.0 510.3L702.0 510.5L701.0 510.9L700.0 511.0L699.0 511.1L698.0 511.4L697.0 511.8L696.0 512.2L695.0 512.5L694.0 512.7L693.0 513.0L692.0 513.4L691.0 514.0L690.0 514.6L689.0 515.3L688.0 516.2L687.0 517.2L686.0 518.5L685.0 519.9L684.0 521.2L683.0 522.2L682.0 523.0L681.0 523.7L680.0 524.4L679.0 525.3L678.0 526.2L677.0 526.9L676.0 527.3L675.0 527.6L674.0 527.9L673.0 528.1L672.0 528.4L671.0 528.6L670.0 528.5L669.0 528.5L668.0 528.5L667.0 528.8L666.0 529.1L665.0 529.5L664.0 530.1L663.0 530.7L662.0 531.9L661.0 532.9L660.0 533.7L659.0 534.0L658.0 534.1L657.0 533.8L656.0 533.4L655.0 532.9L654.0 532.1L653.0 529.0L652.0 527.7L651.0 526.7L650.0 525.8L649.0 525.1L648.0 524.5L647.0 523.9L646.0 523.2L645.0 522.4L644.0 521.7L643.0 521.1L642.0 520.7L641.0 520.2L640.0 519.6L639.0 519.0L638.0 518.3L637.0 517.9L636.0 517.5L635.0 517.2L634.0 516.7L633.0 516.1L632.0 515.6L631.0 515.1L630.0 514.8L629.0 514.5L628.0 514.1L627.0 513.5L626.0 513.0L625.0 512.6L624.0 512.4L623.0 512.2L622.0 511.9L621.0 511.5L620.0 511.2L619.0 511.0L618.0 510.9L617.0 510.8L616.0 510.5L615.0 510.3L614.0 510.1L613.0 510.0L612.0 509.8L611.0 509.7L610.0 509.6L609.0 509.5L608.0 509.4L607.0 509.3L606.0 509.3L605.0 509.3L604.0 509.3L603.0 509.3L602.0 509.2L601.0 509.2L600.0 509.2L599.0 509.2L598.0 509.2L597.0 509.2L596.0 509.2L595.0 509.2L594.0 509.2L593.0 509.2L592.0 509.2L591.0 509.2L590.0 509.2L589.0 509.1L588.0 509.1L587.0 509.1L586.0 509.1L585.0 509.1L584.0 509.1L583.0 509.1L582.0 509.1L581.0 509.1L580.0 509.1L579.0 509.1L578.0 509.1L577.0 509.1L576.0 509.1L575.0 509.1L574.0 509.1L573.0 509.1L572.0 509.1L571.0 509.1L570.0 509.1L569.0 509.1L568.0 509.1L567.0 509.1L566.0 509.1L565.0 509.0L564.0 509.0L563.0 509.0L562.0 509.0L561.0 509.0L560.0 509.0L559.0 509.0L558.0 509.0L557.0 509.0L556.0 508.9L555.0 508.9L554.0 508.9L553.0 508.7L552.0 508.4L551.0 507.9L550.0 506.9L549.0 504.0ZM596.0 573.5L597.0 570.5L598.0 569.6L599.0 569.0L600.0 568.7L601.0 568.5L602.0 568.5L603.0 568.5L604.0 568.4L605.0 568.4L606.0 568.3L607.0 568.3L608.0 568.2L609.0 568.1L610.0 568.0L611.0 567.9L612.0 567.7L613.0 567.6L614.0 567.4L615.0 567.3L616.0 567.1L617.0 566.8L618.0 566.6L619.0 566.2L620.0 565.7L621.0 565.0L622.0 564.3L623.0 563.8L624.0 563.4L625.0 563.0L626.0 562.5L627.0 561.9L628.0 561.3L629.0 560.9L630.0 560.5L631.0 560.2L632.0 559.8L633.0 559.3L634.0 558.9L635.0 558.8L636.0 558.9L637.0 559.1L638.0 559.2L639.0 559.2L640.0 559.4L641.0 559.6L642.0 560.1L643.0 560.5L644.0 560.8L645.0 561.1L646.0 561.3L647.0 561.7L648.0 562.5L649.0 563.2L650.0 563.8L651.0 564.1L652.0 564.2L653.0 563.0L654.0 560.7L655.0 558.3L656.0 556.1L657.0 554.2L658.0 552.3L659.0 550.7L660.0 549.4L661.0 548.5L662.0 547.6L663.0 546.6L664.0 545.6L665.0 544.8L666.0 544.2L667.0 543.9L668.0 543.8L669.0 543.7L670.0 543.8L671.0 544.2L672.0 545.1L673.0 546.7L674.0 548.9L675.0 550.0L676.0 551.2L677.0 552.7L678.0 554.4L679.0 556.2L680.0 557.7L681.0 558.9L682.0 560.0L683.0 561.1L684.0 562.3L685.0 563.5L686.0 564.5L687.0 565.2L688.0 565.6L689.0 566.0L690.0 566.5L691.0 567.1L692.0 567.5L693.0 567.8L694.0 568.1L695.0 568.3L696.0 568.4L697.0 568.4L698.0 568.4L699.0 568.4L700.0 568.4L701.0 568.4L702.0 568.7L703.0 569.1L704.0 569.9L705.0 571.3L705.5 573.5L705.5 573.5L705.0 575.7L704.0 577.1L703.0 577.9L702.0 578.3L701.0 578.6L700.0 578.6L699.0 578.6L698.0 578.6L697.0 578.6L696.0 578.6L695.0 578.7L694.0 578.9L693.0 579.2L692.0 579.5L691.0 579.9L690.0 580.5L689.0 581.0L688.0 581.4L687.0 581.8L686.0 582.5L685.0 583.5L684.0 584.7L683.0 585.9L682.0 587.0L681.0 588.1L680.0 589.3L679.0 590.8L678.0 592.6L677.0 594.3L676.0 595.8L675.0 597.0L674.0 598.1L673.0 600.3L672.0 601.9L671.0 602.8L670.0 603.2L669.0 603.3L668.0 603.2L667.0 603.1L666.0 602.8L665.0 602.2L664.0 601.4L663.0 600.4L662.0 599.4L661.0 598.5L660.0 597.6L659.0 596.3L658.0 594.7L657.0 592.8L656.0 590.9L655.0 588.7L654.0 586.3L653.0 584.0L652.0 582.8L651.0 582.9L650.0 583.2L649.0 583.8L648.0 584.5L647.0 585.3L646.0 585.7L645.0 585.9L644.0 586.2L643.0 586.5L642.0 586.9L641.0 587.4L640.0 587.6L639.0 587.8L638.0 587.8L637.0 587.9L636.0 588.1L635.0 588.2L634.0 588.1L633.0 587.7L632.0 587.2L631.0 586.8L630.0 586.5L629.0 586.1L628.0 585.7L627.0 585.1L626.0 584.5L625.0 584.0L624.0 583.6L623.0 583.2L622.0 582.7L621.0 582.0L620.0 581.3L619.0 580.8L618.0 580.4L617.0 580.2L616.0 579.9L615.0 579.7L614.0 579.6L613.0 579.4L612.0 579.3L611.0 579.1L610.0 579.0L609.0 578.9L608.0 578.8L607.0 578.7L606.0 578.7L605.0 578.6L604.0 578.6L603.0 578.5L602.0 578.5L601.0 578.5L600.0 578.3L599.0 578.0L598.0 577.4L597.0 576.5L596.0 573.5ZM585.2 643.5L586.2 640.4L587.2 639.3L588.2 638.7L589.2 638.3L590.2 638.1L591.2 637.8L592.2 637.8L593.2 637.8L594.2 637.8L595.2 637.9L596.2 638.0L597.2 638.2L598.2 638.4L599.2 638.6L600.2 638.9L601.2 639.1L602.2 639.3L603.2 639.4L604.2 639.5L605.2 639.5L606.2 639.3L607.2 639.1L608.2 638.8L609.2 638.6L610.2 638.3L611.2 638.2L612.2 638.1L613.2 638.1L614.2 638.1L615.2 638.0L616.2 638.0L617.2 638.0L618.2 638.0L619.2 638.0L620.2 638.0L621.2 638.0L622.2 638.0L623.2 638.0L624.2 638.0L625.2 638.0L626.2 638.0L627.2 638.0L628.2 638.0L629.2 638.0L630.2 638.0L631.2 637.9L632.2 637.9L633.2 637.9L634.2 637.9L635.2 637.8L636.2 637.6L637.2 637.4L638.2 637.1L639.2 636.5L640.2 636.1L641.2 635.0L642.2 633.2L643.2 631.0L644.2 628.5L645.2 624.9L646.2 620.9L647.2 618.4L648.2 616.9L649.2 615.7L650.2 614.6L651.2 614.1L652.2 613.8L653.2 613.8L654.2 613.8L655.2 613.7L656.2 613.7L657.2 613.6L658.2 613.8L659.2 614.1L660.2 614.5L661.2 615.1L662.2 615.9L663.2 616.8L664.2 617.9L665.2 619.6L666.2 621.7L667.2 623.9L668.2 626.7L669.2 630.3L670.2 632.8L671.2 633.2L672.2 633.6L673.2 633.8L674.2 633.8L675.2 633.8L676.2 633.8L677.2 634.0L678.2 634.3L679.2 634.7L680.2 635.0L681.2 635.5L682.2 636.1L683.2 636.8L684.2 637.4L685.2 637.8L686.2 637.9L687.2 637.9L688.2 637.9L689.2 637.9L690.2 637.9L691.2 637.9L692.2 637.9L693.2 637.9L694.2 637.9L695.2 637.9L696.2 637.9L697.2 637.9L698.2 637.9L699.2 637.9L700.2 637.9L701.2 637.9L702.2 637.9L703.2 637.9L704.2 637.9L705.2 638.0L706.2 638.3L707.2 638.8L708.2 639.7L709.2 641.2L709.7 643.5L709.7 643.5L709.2 645.8L708.2 647.3L707.2 648.2L706.2 648.7L705.2 649.0L704.2 649.1L703.2 649.1L702.2 649.1L701.2 649.1L700.2 649.1L699.2 649.1L698.2 649.1L697.2 649.1L696.2 649.1L695.2 649.1L694.2 649.1L693.2 649.1L692.2 649.1L691.2 649.1L690.2 649.1L689.2 649.1L688.2 649.1L687.2 649.1L686.2 649.1L685.2 649.2L684.2 649.6L683.2 650.2L682.2 650.9L681.2 651.5L680.2 652.0L679.2 652.3L678.2 652.7L677.2 653.0L676.2 653.2L675.2 653.2L674.2 653.2L673.2 653.2L672.2 653.4L671.2 653.8L670.2 654.2L669.2 656.7L668.2 660.3L667.2 663.1L666.2 665.3L665.2 667.4L664.2 669.1L663.2 670.2L662.2 671.1L661.2 671.9L660.2 672.5L659.2 672.9L658.2 673.2L657.2 673.4L656.2 673.3L655.2 673.3L654.2 673.2L653.2 673.2L652.2 673.2L651.2 672.9L650.2 672.4L649.2 671.3L648.2 670.1L647.2 668.6L646.2 666.1L645.2 662.1L644.2 658.5L643.2 656.0L642.2 653.8L641.2 652.0L640.2 650.9L639.2 650.5L638.2 649.9L637.2 649.6L636.2 649.4L635.2 649.2L634.2 649.1L633.2 649.1L632.2 649.1L631.2 649.1L630.2 649.0L629.2 649.0L628.2 649.0L627.2 649.0L626.2 649.0L625.2 649.0L624.2 649.0L623.2 649.0L622.2 649.0L621.2 649.0L620.2 649.0L619.2 649.0L618.2 649.0L617.2 649.0L616.2 649.0L615.2 649.0L614.2 648.9L613.2 648.9L612.2 648.9L611.2 648.8L610.2 648.7L609.2 648.4L608.2 648.2L607.2 647.9L606.2 647.7L605.2 647.5L604.2 647.5L603.2 647.6L602.2 647.7L601.2 647.9L600.2 648.1L599.2 648.4L598.2 648.6L597.2 648.8L596.2 649.0L595.2 649.1L594.2 649.2L593.2 649.2L592.2 649.2L591.2 649.2L590.2 648.9L589.2 648.7L588.2 648.3L587.2 647.7L586.2 646.6L585.2 643.5ZM607.2 713.4L608.2 710.4L609.2 709.4L610.2 708.8L611.2 708.4L612.2 708.3L613.2 708.2L614.2 708.2L615.2 708.2L616.2 708.2L617.2 708.2L618.2 708.2L619.2 708.1L620.2 708.1L621.2 708.1L622.2 708.1L623.2 708.1L624.2 708.1L625.2 708.1L626.2 708.1L627.2 708.1L628.2 708.1L629.2 708.0L630.2 708.0L631.2 708.0L632.2 707.9L633.2 707.7L634.2 707.4L635.2 707.1L636.2 706.9L637.2 706.4L638.2 705.9L639.2 705.5L640.2 705.3L641.2 705.2L642.2 704.9L643.2 704.5L644.2 704.1L645.2 703.7L646.2 703.5L647.2 703.1L648.2 702.5L649.2 701.4L650.2 699.9L651.2 698.4L652.2 696.8L653.2 694.7L654.2 692.3L655.2 690.1L656.2 688.5L657.2 687.3L658.2 686.4L659.2 685.3L660.2 684.5L661.2 683.9L662.2 683.5L663.2 683.4L664.2 683.6L665.2 684.1L666.2 684.8L667.2 685.9L668.2 687.8L669.2 689.3L670.2 691.5L671.2 695.5L672.2 699.8L673.2 702.6L674.2 704.0L675.2 705.2L676.2 706.4L677.2 707.3L678.2 707.7L679.2 707.8L680.2 707.8L681.2 707.9L682.2 707.9L683.2 707.9L684.2 707.9L685.2 707.9L686.2 708.0L687.2 708.0L688.2 708.0L689.2 708.0L690.2 708.0L691.2 708.0L692.2 708.0L693.2 708.0L694.2 708.0L695.2 708.0L696.2 708.0L697.2 708.0L698.2 708.0L699.2 708.0L700.2 708.1L701.2 708.3L702.2 708.8L703.2 709.6L704.2 710.9L704.8 713.4L704.8 713.4L704.2 715.9L703.2 717.2L702.2 718.0L701.2 718.5L700.2 718.7L699.2 718.8L698.2 718.8L697.2 718.8L696.2 718.8L695.2 718.8L694.2 718.8L693.2 718.8L692.2 718.8L691.2 718.8L690.2 718.8L689.2 718.8L688.2 718.8L687.2 718.8L686.2 718.8L685.2 718.9L684.2 718.9L683.2 718.9L682.2 718.9L681.2 718.9L680.2 719.0L679.2 719.0L678.2 719.1L677.2 719.5L676.2 720.4L675.2 721.6L674.2 722.8L673.2 724.2L672.2 727.0L671.2 731.3L670.2 735.3L669.2 737.5L668.2 739.0L667.2 740.9L666.2 742.0L665.2 742.7L664.2 743.2L663.2 743.4L662.2 743.3L661.2 742.9L660.2 742.3L659.2 741.5L658.2 740.4L657.2 739.5L656.2 738.3L655.2 736.7L654.2 734.5L653.2 732.1L652.2 730.0L651.2 728.4L650.2 726.9L649.2 725.4L648.2 724.3L647.2 723.7L646.2 723.3L645.2 723.1L644.2 722.7L643.2 722.3L642.2 721.9L641.2 721.6L640.2 721.5L639.2 721.3L638.2 720.9L637.2 720.4L636.2 719.9L635.2 719.7L634.2 719.4L633.2 719.1L632.2 718.9L631.2 718.8L630.2 718.8L629.2 718.8L628.2 718.7L627.2 718.7L626.2 718.7L625.2 718.7L624.2 718.7L623.2 718.7L622.2 718.7L621.2 718.7L620.2 718.7L619.2 718.7L618.2 718.6L617.2 718.6L616.2 718.6L615.2 718.6L614.2 718.6L613.2 718.6L612.2 718.5L611.2 718.4L610.2 718.0L609.2 717.4L608.2 716.4L607.2 713.4ZM596.0 783.0L597.0 779.9L598.0 778.9L599.0 778.3L600.0 777.9L601.0 777.8L602.0 777.7L603.0 777.6L604.0 777.6L605.0 777.6L606.0 777.6L607.0 777.6L608.0 777.5L609.0 777.5L610.0 777.5L611.0 777.5L612.0 777.5L613.0 777.5L614.0 777.5L615.0 777.5L616.0 777.5L617.0 777.5L618.0 777.5L619.0 777.4L620.0 777.4L621.0 777.4L622.0 777.4L623.0 777.4L624.0 777.4L625.0 777.4L626.0 777.4L627.0 777.4L628.0 777.4L629.0 777.4L630.0 777.3L631.0 777.3L632.0 777.3L633.0 777.3L634.0 777.3L635.0 777.2L636.0 777.2L637.0 777.2L638.0 777.2L639.0 777.1L640.0 777.1L641.0 776.9L642.0 776.5L643.0 776.0L644.0 775.2L645.0 774.6L646.0 774.0L647.0 773.3L648.0 772.3L649.0 771.0L650.0 769.6L651.0 768.0L652.0 766.0L653.0 763.9L654.0 761.9L655.0 760.3L656.0 758.6L657.0 756.3L658.0 754.7L659.0 754.0L660.0 753.5L661.0 753.2L662.0 753.0L663.0 753.1L664.0 753.6L665.0 754.5L666.0 755.7L667.0 757.5L668.0 758.8L669.0 760.3L670.0 763.2L671.0 767.2L672.0 771.2L673.0 774.0L674.0 775.2L675.0 776.2L676.0 777.0L677.0 777.4L678.0 777.4L679.0 777.4L680.0 777.4L681.0 777.4L682.0 777.4L683.0 777.4L684.0 777.4L685.0 777.4L686.0 777.4L687.0 777.6L688.0 778.0L689.0 778.7L690.0 779.8L691.0 783.0L691.0 783.0L690.0 786.2L689.0 787.3L688.0 788.0L687.0 788.4L686.0 788.6L685.0 788.6L684.0 788.6L683.0 788.6L682.0 788.6L681.0 788.6L680.0 788.6L679.0 788.6L678.0 788.6L677.0 788.6L676.0 789.0L675.0 789.8L674.0 790.8L673.0 792.0L672.0 794.8L671.0 798.8L670.0 802.8L669.0 805.7L668.0 807.2L667.0 808.5L666.0 810.3L665.0 811.5L664.0 812.4L663.0 812.9L662.0 813.0L661.0 812.8L660.0 812.5L659.0 812.0L658.0 811.3L657.0 809.7L656.0 807.4L655.0 805.7L654.0 804.1L653.0 802.1L652.0 800.0L651.0 798.0L650.0 796.4L649.0 795.0L648.0 793.7L647.0 792.7L646.0 792.0L645.0 791.4L644.0 790.8L643.0 790.0L642.0 789.5L641.0 789.1L640.0 788.9L639.0 788.9L638.0 788.8L637.0 788.8L636.0 788.8L635.0 788.8L634.0 788.7L633.0 788.7L632.0 788.7L631.0 788.7L630.0 788.7L629.0 788.6L628.0 788.6L627.0 788.6L626.0 788.6L625.0 788.6L624.0 788.6L623.0 788.6L622.0 788.6L621.0 788.6L620.0 788.6L619.0 788.6L618.0 788.5L617.0 788.5L616.0 788.5L615.0 788.5L614.0 788.5L613.0 788.5L612.0 788.5L611.0 788.5L610.0 788.5L609.0 788.5L608.0 788.5L607.0 788.4L606.0 788.4L605.0 788.4L604.0 788.4L603.0 788.4L602.0 788.3L601.0 788.2L600.0 788.1L599.0 787.7L598.0 787.1L597.0 786.1L596.0 783.0ZM611.7 852.8L612.7 849.7L613.7 848.6L614.7 848.0L615.7 847.6L616.7 847.4L617.7 847.2L618.7 847.2L619.7 847.2L620.7 847.2L621.7 847.1L622.7 847.1L623.7 847.1L624.7 847.1L625.7 847.1L626.7 847.1L627.7 847.0L628.7 847.0L629.7 847.0L630.7 847.0L631.7 847.0L632.7 847.0L633.7 846.9L634.7 846.9L635.7 846.9L636.7 846.8L637.7 846.8L638.7 846.8L639.7 846.7L640.7 846.7L641.7 846.6L642.7 846.5L643.7 846.5L644.7 846.4L645.7 845.9L646.7 844.6L647.7 842.3L648.7 837.7L649.7 833.3L650.7 831.0L651.7 829.1L652.7 827.4L653.7 824.5L654.7 823.2L655.7 822.4L656.7 822.1L657.7 822.1L658.7 822.2L659.7 822.4L660.7 822.8L661.7 823.5L662.7 825.2L663.7 828.8L664.7 830.9L665.7 832.8L666.7 835.1L667.7 838.3L668.7 841.7L669.7 844.5L670.7 845.3L671.7 845.7L672.7 845.9L673.7 846.1L674.7 846.4L675.7 846.6L676.7 846.7L677.7 846.8L678.7 846.9L679.7 846.9L680.7 847.0L681.7 847.0L682.7 847.0L683.7 847.1L684.7 847.1L685.7 847.1L686.7 847.1L687.7 847.2L688.7 847.2L689.7 847.2L690.7 847.2L691.7 847.3L692.7 847.3L693.7 847.3L694.7 847.3L695.7 847.3L696.7 847.3L697.7 847.3L698.7 847.4L699.7 847.4L700.7 847.4L701.7 847.4L702.7 847.4L703.7 847.4L704.7 847.4L705.7 847.4L706.7 847.4L707.7 847.4L708.7 847.4L709.7 847.4L710.7 847.4L711.7 847.4L712.7 847.4L713.7 847.4L714.7 847.4L715.7 847.4L716.7 847.4L717.7 847.4L718.7 847.4L719.7 847.5L720.7 847.8L721.7 848.4L722.7 849.3L723.7 851.0L724.0 852.8L724.0 852.8L723.7 854.6L722.7 856.3L721.7 857.2L720.7 857.8L719.7 858.1L718.7 858.2L717.7 858.2L716.7 858.2L715.7 858.2L714.7 858.2L713.7 858.2L712.7 858.2L711.7 858.2L710.7 858.2L709.7 858.2L708.7 858.2L707.7 858.2L706.7 858.2L705.7 858.2L704.7 858.2L703.7 858.2L702.7 858.2L701.7 858.2L700.7 858.2L699.7 858.2L698.7 858.2L697.7 858.3L696.7 858.3L695.7 858.3L694.7 858.3L693.7 858.3L692.7 858.3L691.7 858.3L690.7 858.4L689.7 858.4L688.7 858.4L687.7 858.4L686.7 858.5L685.7 858.5L684.7 858.5L683.7 858.5L682.7 858.6L681.7 858.6L680.7 858.6L679.7 858.7L678.7 858.7L677.7 858.8L676.7 858.9L675.7 859.0L674.7 859.2L673.7 859.5L672.7 859.7L671.7 859.9L670.7 860.3L669.7 861.1L668.7 863.9L667.7 867.3L666.7 870.5L665.7 872.8L664.7 874.7L663.7 876.8L662.7 880.4L661.7 882.1L660.7 882.8L659.7 883.2L658.7 883.4L657.7 883.5L656.7 883.5L655.7 883.2L654.7 882.4L653.7 881.1L652.7 878.2L651.7 876.5L650.7 874.6L649.7 872.3L648.7 867.9L647.7 863.3L646.7 861.0L645.7 859.7L644.7 859.2L643.7 859.1L642.7 859.1L641.7 859.0L640.7 858.9L639.7 858.9L638.7 858.8L637.7 858.8L636.7 858.8L635.7 858.7L634.7 858.7L633.7 858.7L632.7 858.6L631.7 858.6L630.7 858.6L629.7 858.6L628.7 858.6L627.7 858.6L626.7 858.5L625.7 858.5L624.7 858.5L623.7 858.5L622.7 858.5L621.7 858.5L620.7 858.4L619.7 858.4L618.7 858.4L617.7 858.4L616.7 858.2L615.7 858.0L614.7 857.6L613.7 857.0L612.7 855.9L611.7 852.8ZM592.0 922.3L593.0 919.2L594.0 918.2L595.0 917.6L596.0 917.2L597.0 917.1L598.0 916.9L599.0 916.9L600.0 916.9L601.0 916.9L602.0 916.8L603.0 916.8L604.0 916.8L605.0 916.8L606.0 916.8L607.0 916.8L608.0 916.8L609.0 916.8L610.0 916.8L611.0 916.8L612.0 916.7L613.0 916.7L614.0 916.7L615.0 916.7L616.0 916.7L617.0 916.7L618.0 916.7L619.0 916.7L620.0 916.7L621.0 916.7L622.0 916.7L623.0 916.7L624.0 916.7L625.0 916.7L626.0 916.7L627.0 916.7L628.0 916.6L629.0 916.6L630.0 916.6L631.0 916.6L632.0 916.6L633.0 916.6L634.0 916.5L635.0 916.5L636.0 916.5L637.0 916.5L638.0 916.5L639.0 916.4L640.0 916.4L641.0 916.3L642.0 916.0L643.0 915.5L644.0 915.1L645.0 914.6L646.0 913.3L647.0 910.8L648.0 908.0L649.0 905.9L650.0 904.1L651.0 902.5L652.0 901.0L653.0 899.7L654.0 898.5L655.0 897.2L656.0 896.2L657.0 895.3L658.0 894.4L659.0 893.6L660.0 892.7L661.0 892.2L662.0 892.0L663.0 892.1L664.0 892.5L665.0 893.0L666.0 893.7L667.0 895.0L668.0 897.8L669.0 899.8L670.0 903.6L671.0 908.6L672.0 912.7L673.0 914.2L674.0 915.1L675.0 916.0L676.0 916.5L677.0 916.7L678.0 916.7L679.0 916.7L680.0 916.7L681.0 916.7L682.0 916.7L683.0 916.7L684.0 916.7L685.0 916.7L686.0 916.7L687.0 916.7L688.0 916.7L689.0 916.7L690.0 916.7L691.0 916.7L692.0 916.7L693.0 916.7L694.0 916.7L695.0 916.7L696.0 916.7L697.0 916.7L698.0 916.7L699.0 916.7L700.0 916.7L701.0 916.7L702.0 916.7L703.0 916.7L704.0 916.7L705.0 916.9L706.0 917.3L707.0 918.0L708.0 919.1L709.0 922.3L709.0 922.3L708.0 925.5L707.0 926.6L706.0 927.3L705.0 927.7L704.0 927.9L703.0 927.9L702.0 927.9L701.0 927.9L700.0 927.9L699.0 927.9L698.0 927.9L697.0 927.9L696.0 927.9L695.0 927.9L694.0 927.9L693.0 927.9L692.0 927.9L691.0 927.9L690.0 927.9L689.0 927.9L688.0 927.9L687.0 927.9L686.0 927.9L685.0 927.9L684.0 927.9L683.0 927.9L682.0 927.9L681.0 927.9L680.0 927.9L679.0 927.9L678.0 927.9L677.0 927.9L676.0 928.1L675.0 928.6L674.0 929.5L673.0 930.4L672.0 931.9L671.0 936.0L670.0 941.0L669.0 944.8L668.0 946.8L667.0 949.6L666.0 950.9L665.0 951.6L664.0 952.1L663.0 952.5L662.0 952.6L661.0 952.4L660.0 951.9L659.0 951.0L658.0 950.2L657.0 949.3L656.0 948.4L655.0 947.4L654.0 946.1L653.0 944.9L652.0 943.6L651.0 942.1L650.0 940.5L649.0 938.7L648.0 936.6L647.0 933.8L646.0 931.3L645.0 930.0L644.0 929.5L643.0 929.1L642.0 928.6L641.0 928.3L640.0 928.2L639.0 928.2L638.0 928.1L637.0 928.1L636.0 928.1L635.0 928.1L634.0 928.1L633.0 928.0L632.0 928.0L631.0 928.0L630.0 928.0L629.0 928.0L628.0 928.0L627.0 927.9L626.0 927.9L625.0 927.9L624.0 927.9L623.0 927.9L622.0 927.9L621.0 927.9L620.0 927.9L619.0 927.9L618.0 927.9L617.0 927.9L616.0 927.9L615.0 927.9L614.0 927.9L613.0 927.9L612.0 927.9L611.0 927.8L610.0 927.8L609.0 927.8L608.0 927.8L607.0 927.8L606.0 927.8L605.0 927.8L604.0 927.8L603.0 927.8L602.0 927.8L601.0 927.7L600.0 927.7L599.0 927.7L598.0 927.7L597.0 927.5L596.0 927.4L595.0 927.0L594.0 926.4L593.0 925.4L592.0 922.3ZM619.0 992.0L620.0 988.9L621.0 987.8L622.0 987.2L623.0 986.8L624.0 986.6L625.0 986.4L626.0 986.4L627.0 986.4L628.0 986.3L629.0 986.3L630.0 986.3L631.0 986.3L632.0 986.3L633.0 986.3L634.0 986.3L635.0 986.3L636.0 986.3L637.0 986.3L638.0 986.3L639.0 986.2L640.0 986.2L641.0 986.2L642.0 986.2L643.0 986.2L644.0 986.1L645.0 986.0L646.0 985.0L647.0 983.2L648.0 980.2L649.0 975.9L650.0 972.5L651.0 970.5L652.0 968.5L653.0 966.5L654.0 963.3L655.0 962.3L656.0 961.7L657.0 961.6L658.0 961.5L659.0 961.6L660.0 961.7L661.0 962.3L662.0 963.3L663.0 969.0L664.0 971.5L665.0 973.7L666.0 975.4L667.0 977.1L668.0 978.9L669.0 980.7L670.0 981.9L671.0 982.6L672.0 983.1L673.0 983.5L674.0 984.1L675.0 984.6L676.0 985.1L677.0 985.4L678.0 985.4L679.0 985.5L680.0 985.6L681.0 985.6L682.0 985.6L683.0 985.7L684.0 985.7L685.0 985.7L686.0 985.7L687.0 985.7L688.0 985.8L689.0 985.8L690.0 985.8L691.0 985.9L692.0 986.1L693.0 986.2L694.0 986.5L695.0 987.0L696.0 987.8L697.0 989.0L697.8 992.0L697.8 992.0L697.0 995.0L696.0 996.2L695.0 997.0L694.0 997.5L693.0 997.8L692.0 997.9L691.0 998.1L690.0 998.2L689.0 998.2L688.0 998.2L687.0 998.3L686.0 998.3L685.0 998.3L684.0 998.3L683.0 998.3L682.0 998.4L681.0 998.4L680.0 998.4L679.0 998.5L678.0 998.6L677.0 998.6L676.0 998.9L675.0 999.4L674.0 999.9L673.0 1000.5L672.0 1000.9L671.0 1001.4L670.0 1002.1L669.0 1003.3L668.0 1005.1L667.0 1006.9L666.0 1008.6L665.0 1010.3L664.0 1012.5L663.0 1015.0L662.0 1020.7L661.0 1021.7L660.0 1022.3L659.0 1022.4L658.0 1022.5L657.0 1022.4L656.0 1022.3L655.0 1021.7L654.0 1020.7L653.0 1017.5L652.0 1015.5L651.0 1013.5L650.0 1011.5L649.0 1008.1L648.0 1003.8L647.0 1000.8L646.0 999.0L645.0 998.0L644.0 997.9L643.0 997.8L642.0 997.8L641.0 997.8L640.0 997.8L639.0 997.8L638.0 997.7L637.0 997.7L636.0 997.7L635.0 997.7L634.0 997.7L633.0 997.7L632.0 997.7L631.0 997.7L630.0 997.7L629.0 997.7L628.0 997.7L627.0 997.6L626.0 997.6L625.0 997.6L624.0 997.4L623.0 997.2L622.0 996.8L621.0 996.2L620.0 995.1L619.0 992.0ZM615.2 1062.0L616.2 1058.9L617.2 1057.8L618.2 1057.2L619.2 1056.8L620.2 1056.6L621.2 1056.4L622.2 1056.4L623.2 1056.4L624.2 1056.4L625.2 1056.4L626.2 1056.3L627.2 1056.3L628.2 1056.3L629.2 1056.3L630.2 1056.3L631.2 1056.3L632.2 1056.3L633.2 1056.3L634.2 1056.3L635.2 1056.3L636.2 1056.2L637.2 1056.2L638.2 1056.2L639.2 1056.2L640.2 1056.2L641.2 1056.1L642.2 1056.0L643.2 1055.5L644.2 1054.7L645.2 1053.5L646.2 1051.9L647.2 1049.4L648.2 1046.7L649.2 1044.1L650.2 1042.2L651.2 1040.5L652.2 1038.7L653.2 1036.8L654.2 1034.1L655.2 1032.8L656.2 1032.2L657.2 1031.8L658.2 1031.5L659.2 1031.3L660.2 1031.5L661.2 1032.0L662.2 1032.9L663.2 1034.4L664.2 1037.7L665.2 1039.4L666.2 1041.2L667.2 1043.1L668.2 1045.1L669.2 1047.5L670.2 1050.0L671.2 1052.3L672.2 1054.1L673.2 1054.9L674.2 1055.3L675.2 1055.6L676.2 1055.8L677.2 1056.0L678.2 1056.1L679.2 1056.1L680.2 1056.1L681.2 1056.1L682.2 1056.1L683.2 1056.1L684.2 1056.1L685.2 1056.1L686.2 1056.1L687.2 1056.1L688.2 1056.1L689.2 1056.1L690.2 1056.1L691.2 1056.1L692.2 1056.1L693.2 1056.1L694.2 1056.1L695.2 1056.1L696.2 1056.1L697.2 1056.1L698.2 1056.1L699.2 1056.1L700.2 1056.1L701.2 1056.2L702.2 1056.5L703.2 1057.0L704.2 1057.8L705.2 1059.0L706.0 1062.0L706.0 1062.0L705.2 1065.0L704.2 1066.2L703.2 1067.0L702.2 1067.5L701.2 1067.8L700.2 1067.9L699.2 1067.9L698.2 1067.9L697.2 1067.9L696.2 1067.9L695.2 1067.9L694.2 1067.9L693.2 1067.9L692.2 1067.9L691.2 1067.9L690.2 1067.9L689.2 1067.9L688.2 1067.9L687.2 1067.9L686.2 1067.9L685.2 1067.9L684.2 1067.9L683.2 1067.9L682.2 1067.9L681.2 1067.9L680.2 1067.9L679.2 1067.9L678.2 1067.9L677.2 1068.0L676.2 1068.2L675.2 1068.4L674.2 1068.7L673.2 1069.1L672.2 1069.9L671.2 1071.7L670.2 1074.0L669.2 1076.5L668.2 1078.9L667.2 1080.9L666.2 1082.8L665.2 1084.6L664.2 1086.3L663.2 1089.6L662.2 1091.1L661.2 1092.0L660.2 1092.5L659.2 1092.7L658.2 1092.5L657.2 1092.2L656.2 1091.8L655.2 1091.2L654.2 1089.9L653.2 1087.2L652.2 1085.3L651.2 1083.5L650.2 1081.8L649.2 1079.9L648.2 1077.3L647.2 1074.6L646.2 1072.1L645.2 1070.5L644.2 1069.3L643.2 1068.5L642.2 1068.0L641.2 1067.9L640.2 1067.8L639.2 1067.8L638.2 1067.8L637.2 1067.8L636.2 1067.8L635.2 1067.7L634.2 1067.7L633.2 1067.7L632.2 1067.7L631.2 1067.7L630.2 1067.7L629.2 1067.7L628.2 1067.7L627.2 1067.7L626.2 1067.7L625.2 1067.6L624.2 1067.6L623.2 1067.6L622.2 1067.6L621.2 1067.6L620.2 1067.4L619.2 1067.2L618.2 1066.8L617.2 1066.2L616.2 1065.1L615.2 1062.0Z"/></clipPath>
<filter id="soft" x="-2%" y="-2%" width="104%" height="104%"><feGaussianBlur stdDeviation="1.3"/></filter><filter id="edge" x="-2%" y="-2%" width="104%" height="104%"><feGaussianBlur stdDeviation="0.55"/></filter>
<linearGradient id="cb" x1="0" y1="0" x2="0" y2="1"><stop offset="0.000" stop-color="#ff2056"/><stop offset="0.050" stop-color="#fc1f60"/><stop offset="0.100" stop-color="#f81e69"/><stop offset="0.150" stop-color="#f12078"/><stop offset="0.200" stop-color="#e92287"/><stop offset="0.250" stop-color="#e22496"/><stop offset="0.300" stop-color="#d026a3"/><stop offset="0.350" stop-color="#be28af"/><stop offset="0.400" stop-color="#ac2abc"/><stop offset="0.450" stop-color="#9d30c2"/><stop offset="0.500" stop-color="#8e36c8"/><stop offset="0.550" stop-color="#823fd1"/><stop offset="0.600" stop-color="#7547d9"/><stop offset="0.650" stop-color="#6950e2"/><stop offset="0.700" stop-color="#615be7"/><stop offset="0.750" stop-color="#5a67ed"/><stop offset="0.800" stop-color="#5272f2"/><stop offset="0.850" stop-color="#4e77f4"/><stop offset="0.900" stop-color="#4a7cf5"/><stop offset="0.950" stop-color="#4782f6"/><stop offset="1.000" stop-color="#4387f8"/></linearGradient></defs>
<rect x="657.8" y="16.5" width="2.4" height="1116.5" fill="#7e7e7e"/>
<g filter="url(#edge)"><g clip-path="url(#env)"><g filter="url(#soft)">
<path fill="#4387f8" d="M680.3 68.3h10.4v5.4h-10.4zM700.3 68.3h5.4v5.4h-5.4zM715.3 68.3h5.4v5.4h-5.4zM665.3 73.3h5.4v5.4h-5.4zM685.3 73.3h20.4v5.4h-20.4zM715.3 73.3h20.4v5.4h-20.4zM740.3 73.3h10.4v5.4h-10.4zM760.3 73.3h25.4v5.4h-25.4zM795.3 73.3h10.4v5.4h-10.4zM815.3 73.3h5.4v5.4h-5.4zM825.3 73.3h10.4v5.4h-10.4zM850.3 73.3h15.4v5.4h-15.4zM870.3 73.3h30.4v5.4h-30.4zM660.3 78.3h5.4v5.4h-5.4zM675.3 78.3h30.4v5.4h-30.4zM710.3 78.3h25.4v5.4h-25.4zM765.3 78.3h5.4v5.4h-5.4zM775.3 78.3h15.4v5.4h-15.4zM795.3 78.3h45.4v5.4h-45.4zM855.3 78.3h10.4v5.4h-10.4zM870.3 78.3h285.4v5.4h-285.4zM655.3 83.3h10.4v5.4h-10.4zM675.3 83.3h20.4v5.4h-20.4zM705.3 83.3h20.4v5.4h-20.4zM735.3 83.3h10.4v5.4h-10.4zM770.3 83.3h5.4v5.4h-5.4zM780.3 83.3h10.4v5.4h-10.4zM795.3 83.3h45.4v5.4h-45.4zM850.3 83.3h30.4v5.4h-30.4zM885.3 83.3h270.4v5.4h-270.4zM655.3 88.3h5.4v5.4h-5.4zM675.3 88.3h20.4v5.4h-20.4zM700.3 88.3h20.4v5.4h-20.4zM725.3 88.3h5.4v5.4h-5.4zM735.3 88.3h5.4v5.4h-5.4zM750.3 88.3h5.4v5.4h-5.4zM765.3 88.3h15.4v5.4h-15.4zM795.3 88.3h30.4v5.4h-30.4zM830.3 88.3h10.4v5.4h-10.4zM845.3 88.3h35.4v5.4h-35.4zM885.3 88.3h270.4v5.4h-270.4zM655.3 93.3h10.4v5.4h-10.4zM670.3 93.3h20.4v5.4h-20.4zM695.3 93.3h10.4v5.4h-10.4zM715.3 93.3h20.4v5.4h-20.4zM745.3 93.3h5.4v5.4h-5.4zM760.3 93.3h5.4v5.4h-5.4zM795.3 93.3h25.4v5.4h-25.4zM825.3 93.3h10.4v5.4h-10.4zM845.3 93.3h5.4v5.4h-5.4zM855.3 93.3h25.4v5.4h-25.4zM890.3 93.3h10.4v5.4h-10.4zM680.3 98.3h5.4v5.4h-5.4zM690.3 98.3h10.4v5.4h-10.4zM705.3 98.3h5.4v5.4h-5.4zM715.3 98.3h5.4v5.4h-5.4zM735.0 138.3h30.4v5.4h-30.4zM780.0 138.3h5.4v5.4h-5.4zM790.0 138.3h5.4v5.4h-5.4zM735.0 143.3h35.4v5.4h-35.4zM785.0 143.3h85.4v5.4h-85.4zM735.0 148.3h10.4v5.4h-10.4zM760.0 148.3h10.4v5.4h-10.4zM775.0 148.3h40.4v5.4h-40.4zM825.0 148.3h135.4v5.4h-135.4zM765.0 153.3h30.4v5.4h-30.4zM800.0 153.3h110.4v5.4h-110.4zM915.0 153.3h45.4v5.4h-45.4zM755.0 158.3h30.4v5.4h-30.4zM790.0 158.3h5.4v5.4h-5.4zM800.0 158.3h10.4v5.4h-10.4zM815.0 158.3h30.4v5.4h-30.4zM850.0 158.3h5.4v5.4h-5.4zM860.0 158.3h100.4v5.4h-100.4zM750.0 163.3h15.4v5.4h-15.4zM780.0 163.3h5.4v5.4h-5.4zM790.0 163.3h5.4v5.4h-5.4zM800.0 163.3h5.4v5.4h-5.4zM815.0 163.3h25.4v5.4h-25.4zM860.0 163.3h10.4v5.4h-10.4zM785.0 168.3h10.4v5.4h-10.4zM707.3 192.8h5.4v5.4h-5.4zM712.3 197.8h5.4v5.4h-5.4zM707.3 202.8h10.4v5.4h-10.4zM722.3 202.8h20.4v5.4h-20.4zM692.3 207.8h10.4v5.4h-10.4zM727.3 207.8h5.4v5.4h-5.4zM742.3 207.8h5.4v5.4h-5.4zM697.3 212.8h5.4v5.4h-5.4zM742.3 212.8h15.4v5.4h-15.4zM742.3 217.8h35.4v5.4h-35.4zM782.3 217.8h15.4v5.4h-15.4zM692.3 222.8h5.4v5.4h-5.4zM717.3 222.8h10.4v5.4h-10.4zM757.3 222.8h5.4v5.4h-5.4zM767.3 222.8h30.4v5.4h-30.4zM702.3 227.8h5.4v5.4h-5.4zM722.3 227.8h5.4v5.4h-5.4zM732.3 227.8h15.4v5.4h-15.4zM762.3 227.8h35.4v5.4h-35.4zM732.3 232.8h10.4v5.4h-10.4zM752.3 232.8h5.4v5.4h-5.4zM732.3 237.8h15.4v5.4h-15.4zM732.3 242.8h5.4v5.4h-5.4zM707.8 282.3h10.4v5.4h-10.4zM722.8 287.3h10.4v5.4h-10.4zM747.8 287.3h60.4v5.4h-60.4zM717.8 292.3h15.4v5.4h-15.4zM737.8 292.3h70.4v5.4h-70.4zM717.8 297.3h5.4v5.4h-5.4zM727.8 297.3h80.4v5.4h-80.4zM707.8 302.3h10.4v5.4h-10.4zM687.8 351.8h15.4v5.4h-15.4zM687.8 356.8h5.4v5.4h-5.4zM702.8 356.8h5.4v5.4h-5.4zM712.8 356.8h10.4v5.4h-10.4zM727.8 356.8h5.4v5.4h-5.4zM742.8 356.8h20.4v5.4h-20.4zM697.8 361.8h5.4v5.4h-5.4zM712.8 361.8h50.4v5.4h-50.4zM697.8 366.8h10.4v5.4h-10.4zM712.8 366.8h50.4v5.4h-50.4zM702.8 371.8h5.4v5.4h-5.4zM659.8 401.8h5.4v5.4h-5.4zM744.8 426.8h20.4v5.4h-20.4zM739.8 431.8h25.4v5.4h-25.4zM719.8 436.8h30.4v5.4h-30.4zM754.8 436.8h10.4v5.4h-10.4zM664.8 451.8h5.4v5.4h-5.4zM727.8 496.3h15.4v5.4h-15.4zM722.8 501.3h5.4v5.4h-5.4zM732.8 501.3h10.4v5.4h-10.4zM732.8 506.3h10.4v5.4h-10.4zM659.8 585.8h5.4v5.4h-5.4zM654.8 590.8h10.4v5.4h-10.4zM654.8 595.8h10.4v5.4h-10.4zM639.0 635.8h10.4v5.4h-10.4zM631.0 715.7h10.4v5.4h-10.4zM636.0 720.7h5.4v5.4h-5.4zM594.8 775.3h5.4v5.4h-5.4zM614.8 775.3h5.4v5.4h-5.4zM614.8 780.3h5.4v5.4h-5.4zM615.5 842.6h5.4v5.4h-5.4zM625.5 847.6h5.4v5.4h-5.4zM620.5 852.6h5.4v5.4h-5.4zM640.5 852.6h5.4v5.4h-5.4zM640.5 857.6h5.4v5.4h-5.4zM595.8 914.6h20.4v5.4h-20.4zM595.8 919.6h20.4v5.4h-20.4zM605.8 924.6h10.4v5.4h-10.4zM672.8 979.3h5.4v5.4h-5.4zM662.8 989.3h5.4v5.4h-5.4zM634.0 1054.3h10.4v5.4h-10.4zM634.0 1064.3h5.4v5.4h-5.4z"/>
<path fill="#4782f6" d="M690.3 68.3h10.4v5.4h-10.4zM705.3 68.3h10.4v5.4h-10.4zM655.3 73.3h10.4v5.4h-10.4zM670.3 73.3h15.4v5.4h-15.4zM705.3 73.3h10.4v5.4h-10.4zM735.3 73.3h5.4v5.4h-5.4zM750.3 73.3h10.4v5.4h-10.4zM785.3 73.3h10.4v5.4h-10.4zM805.3 73.3h10.4v5.4h-10.4zM820.3 73.3h5.4v5.4h-5.4zM835.3 73.3h15.4v5.4h-15.4zM865.3 73.3h5.4v5.4h-5.4zM655.3 78.3h5.4v5.4h-5.4zM665.3 78.3h10.4v5.4h-10.4zM705.3 78.3h5.4v5.4h-5.4zM735.3 78.3h30.4v5.4h-30.4zM770.3 78.3h5.4v5.4h-5.4zM790.3 78.3h5.4v5.4h-5.4zM840.3 78.3h15.4v5.4h-15.4zM865.3 78.3h5.4v5.4h-5.4zM665.3 83.3h10.4v5.4h-10.4zM695.3 83.3h10.4v5.4h-10.4zM725.3 83.3h10.4v5.4h-10.4zM745.3 83.3h25.4v5.4h-25.4zM775.3 83.3h5.4v5.4h-5.4zM790.3 83.3h5.4v5.4h-5.4zM840.3 83.3h10.4v5.4h-10.4zM880.3 83.3h5.4v5.4h-5.4zM660.3 88.3h15.4v5.4h-15.4zM695.3 88.3h5.4v5.4h-5.4zM720.3 88.3h5.4v5.4h-5.4zM730.3 88.3h5.4v5.4h-5.4zM740.3 88.3h10.4v5.4h-10.4zM755.3 88.3h10.4v5.4h-10.4zM780.3 88.3h15.4v5.4h-15.4zM825.3 88.3h5.4v5.4h-5.4zM840.3 88.3h5.4v5.4h-5.4zM880.3 88.3h5.4v5.4h-5.4zM650.3 93.3h5.4v5.4h-5.4zM665.3 93.3h5.4v5.4h-5.4zM690.3 93.3h5.4v5.4h-5.4zM705.3 93.3h10.4v5.4h-10.4zM735.3 93.3h10.4v5.4h-10.4zM750.3 93.3h10.4v5.4h-10.4zM765.3 93.3h30.4v5.4h-30.4zM820.3 93.3h5.4v5.4h-5.4zM835.3 93.3h10.4v5.4h-10.4zM850.3 93.3h5.4v5.4h-5.4zM880.3 93.3h10.4v5.4h-10.4zM685.3 98.3h5.4v5.4h-5.4zM700.3 98.3h5.4v5.4h-5.4zM710.3 98.3h5.4v5.4h-5.4zM700.0 128.3h5.4v5.4h-5.4zM695.0 133.3h15.4v5.4h-15.4zM705.0 138.3h15.4v5.4h-15.4zM730.0 138.3h5.4v5.4h-5.4zM765.0 138.3h15.4v5.4h-15.4zM785.0 138.3h5.4v5.4h-5.4zM710.0 143.3h5.4v5.4h-5.4zM770.0 143.3h15.4v5.4h-15.4zM725.0 148.3h10.4v5.4h-10.4zM745.0 148.3h15.4v5.4h-15.4zM770.0 148.3h5.4v5.4h-5.4zM815.0 148.3h10.4v5.4h-10.4zM755.0 153.3h10.4v5.4h-10.4zM795.0 153.3h5.4v5.4h-5.4zM910.0 153.3h5.4v5.4h-5.4zM730.0 158.3h5.4v5.4h-5.4zM745.0 158.3h10.4v5.4h-10.4zM785.0 158.3h5.4v5.4h-5.4zM795.0 158.3h5.4v5.4h-5.4zM810.0 158.3h5.4v5.4h-5.4zM845.0 158.3h5.4v5.4h-5.4zM855.0 158.3h5.4v5.4h-5.4zM725.0 163.3h10.4v5.4h-10.4zM745.0 163.3h5.4v5.4h-5.4zM765.0 163.3h15.4v5.4h-15.4zM785.0 163.3h5.4v5.4h-5.4zM795.0 163.3h5.4v5.4h-5.4zM805.0 163.3h10.4v5.4h-10.4zM840.0 163.3h20.4v5.4h-20.4zM725.0 168.3h5.4v5.4h-5.4zM735.0 168.3h5.4v5.4h-5.4zM745.0 168.3h40.4v5.4h-40.4zM722.3 192.8h5.4v5.4h-5.4zM702.3 197.8h5.4v5.4h-5.4zM722.3 197.8h5.4v5.4h-5.4zM697.3 202.8h5.4v5.4h-5.4zM692.3 217.8h5.4v5.4h-5.4zM737.3 217.8h5.4v5.4h-5.4zM777.3 217.8h5.4v5.4h-5.4zM742.3 222.8h15.4v5.4h-15.4zM762.3 222.8h5.4v5.4h-5.4zM727.3 227.8h5.4v5.4h-5.4zM747.3 227.8h15.4v5.4h-15.4zM727.3 232.8h5.4v5.4h-5.4zM742.3 232.8h10.4v5.4h-10.4zM692.3 237.8h5.4v5.4h-5.4zM727.3 242.8h5.4v5.4h-5.4zM707.3 252.8h5.4v5.4h-5.4zM707.8 287.3h15.4v5.4h-15.4zM732.8 287.3h15.4v5.4h-15.4zM712.8 292.3h5.4v5.4h-5.4zM732.8 292.3h5.4v5.4h-5.4zM707.8 297.3h10.4v5.4h-10.4zM722.8 297.3h5.4v5.4h-5.4zM682.8 346.8h5.4v5.4h-5.4zM702.8 351.8h5.4v5.4h-5.4zM692.8 356.8h10.4v5.4h-10.4zM707.8 356.8h5.4v5.4h-5.4zM722.8 356.8h5.4v5.4h-5.4zM732.8 356.8h10.4v5.4h-10.4zM687.8 361.8h10.4v5.4h-10.4zM702.8 361.8h10.4v5.4h-10.4zM687.8 366.8h10.4v5.4h-10.4zM707.8 366.8h5.4v5.4h-5.4zM687.8 371.8h15.4v5.4h-15.4zM682.8 376.8h5.4v5.4h-5.4zM659.8 406.8h5.4v5.4h-5.4zM714.8 426.8h30.4v5.4h-30.4zM714.8 431.8h25.4v5.4h-25.4zM714.8 436.8h5.4v5.4h-5.4zM749.8 436.8h5.4v5.4h-5.4zM669.8 456.8h5.4v5.4h-5.4zM682.8 481.3h5.4v5.4h-5.4zM717.8 496.3h10.4v5.4h-10.4zM727.8 501.3h5.4v5.4h-5.4zM717.8 506.3h15.4v5.4h-15.4zM664.8 575.8h5.4v5.4h-5.4zM639.0 625.8h5.4v5.4h-5.4zM634.0 630.8h10.4v5.4h-10.4zM609.0 635.8h10.4v5.4h-10.4zM629.0 635.8h10.4v5.4h-10.4zM649.0 635.8h5.4v5.4h-5.4zM609.0 640.8h10.4v5.4h-10.4zM629.0 640.8h20.4v5.4h-20.4zM609.0 645.8h10.4v5.4h-10.4zM629.0 645.8h20.4v5.4h-20.4zM654.0 645.8h5.4v5.4h-5.4zM634.0 650.8h5.4v5.4h-5.4zM636.0 700.7h5.4v5.4h-5.4zM631.0 705.7h10.4v5.4h-10.4zM631.0 710.7h15.4v5.4h-15.4zM641.0 715.7h5.4v5.4h-5.4zM599.8 775.3h15.4v5.4h-15.4zM629.8 775.3h10.4v5.4h-10.4zM594.8 780.3h20.4v5.4h-20.4zM629.8 780.3h10.4v5.4h-10.4zM664.8 780.3h5.4v5.4h-5.4zM594.8 785.3h25.4v5.4h-25.4zM629.8 785.3h10.4v5.4h-10.4zM649.8 785.3h5.4v5.4h-5.4zM649.8 790.3h5.4v5.4h-5.4zM610.5 842.6h5.4v5.4h-5.4zM620.5 842.6h25.4v5.4h-25.4zM650.5 842.6h5.4v5.4h-5.4zM680.5 842.6h5.4v5.4h-5.4zM610.5 847.6h15.4v5.4h-15.4zM630.5 847.6h15.4v5.4h-15.4zM610.5 852.6h10.4v5.4h-10.4zM625.5 852.6h15.4v5.4h-15.4zM610.5 857.6h30.4v5.4h-30.4zM590.8 914.6h5.4v5.4h-5.4zM615.8 914.6h15.4v5.4h-15.4zM590.8 919.6h5.4v5.4h-5.4zM615.8 919.6h15.4v5.4h-15.4zM590.8 924.6h15.4v5.4h-15.4zM615.8 924.6h15.4v5.4h-15.4zM655.8 939.6h10.4v5.4h-10.4zM655.8 944.6h10.4v5.4h-10.4zM660.8 949.6h5.4v5.4h-5.4zM657.8 984.3h10.4v5.4h-10.4zM672.8 984.3h25.4v5.4h-25.4zM657.8 989.3h5.4v5.4h-5.4zM667.8 989.3h5.4v5.4h-5.4zM682.8 989.3h15.4v5.4h-15.4zM662.8 994.3h10.4v5.4h-10.4zM677.8 994.3h5.4v5.4h-5.4zM687.8 994.3h10.4v5.4h-10.4zM664.0 1044.3h5.4v5.4h-5.4zM639.0 1049.3h5.4v5.4h-5.4zM684.0 1054.3h10.4v5.4h-10.4zM634.0 1059.3h10.4v5.4h-10.4zM684.0 1059.3h10.4v5.4h-10.4zM639.0 1064.3h5.4v5.4h-5.4zM684.0 1064.3h10.4v5.4h-10.4zM639.0 1069.3h5.4v5.4h-5.4zM654.0 1069.3h5.4v5.4h-5.4z"/>
<path fill="#4a7cf5" d="M650.3 73.3h5.4v5.4h-5.4zM650.3 78.3h5.4v5.4h-5.4zM650.3 88.3h5.4v5.4h-5.4zM695.0 128.3h5.4v5.4h-5.4zM710.0 133.3h5.4v5.4h-5.4zM695.0 138.3h5.4v5.4h-5.4zM720.0 138.3h5.4v5.4h-5.4zM705.0 143.3h5.4v5.4h-5.4zM715.0 143.3h5.4v5.4h-5.4zM730.0 143.3h5.4v5.4h-5.4zM715.0 148.3h5.4v5.4h-5.4zM715.0 153.3h5.4v5.4h-5.4zM725.0 153.3h10.4v5.4h-10.4zM740.0 153.3h15.4v5.4h-15.4zM720.0 158.3h5.4v5.4h-5.4zM735.0 158.3h10.4v5.4h-10.4zM715.0 163.3h10.4v5.4h-10.4zM735.0 163.3h10.4v5.4h-10.4zM730.0 168.3h5.4v5.4h-5.4zM740.0 168.3h5.4v5.4h-5.4zM695.0 178.3h5.4v5.4h-5.4zM712.3 192.8h10.4v5.4h-10.4zM707.3 197.8h5.4v5.4h-5.4zM717.3 197.8h5.4v5.4h-5.4zM732.3 197.8h5.4v5.4h-5.4zM722.3 207.8h5.4v5.4h-5.4zM692.3 212.8h5.4v5.4h-5.4zM737.3 212.8h5.4v5.4h-5.4zM707.3 217.8h5.4v5.4h-5.4zM737.3 222.8h5.4v5.4h-5.4zM697.3 232.8h5.4v5.4h-5.4zM712.3 237.8h5.4v5.4h-5.4zM707.3 242.8h5.4v5.4h-5.4zM707.3 247.8h5.4v5.4h-5.4zM702.8 282.3h5.4v5.4h-5.4zM672.8 292.3h5.4v5.4h-5.4zM707.8 292.3h5.4v5.4h-5.4zM672.8 297.3h5.4v5.4h-5.4zM702.8 297.3h5.4v5.4h-5.4zM702.8 302.3h5.4v5.4h-5.4zM682.8 351.8h5.4v5.4h-5.4zM682.8 356.8h5.4v5.4h-5.4zM682.8 371.8h5.4v5.4h-5.4zM669.8 401.8h5.4v5.4h-5.4zM654.8 406.8h5.4v5.4h-5.4zM704.8 426.8h10.4v5.4h-10.4zM704.8 431.8h10.4v5.4h-10.4zM664.8 446.8h5.4v5.4h-5.4zM677.8 481.3h5.4v5.4h-5.4zM682.8 496.3h10.4v5.4h-10.4zM712.8 496.3h5.4v5.4h-5.4zM687.8 501.3h5.4v5.4h-5.4zM717.8 501.3h5.4v5.4h-5.4zM682.8 511.3h5.4v5.4h-5.4zM687.8 516.3h5.4v5.4h-5.4zM654.8 580.8h5.4v5.4h-5.4zM654.0 635.8h5.4v5.4h-5.4zM649.0 640.8h10.4v5.4h-10.4zM649.0 645.8h5.4v5.4h-5.4zM639.0 650.8h5.4v5.4h-5.4zM639.0 655.8h5.4v5.4h-5.4zM646.0 695.7h5.4v5.4h-5.4zM641.0 700.7h10.4v5.4h-10.4zM661.0 700.7h5.4v5.4h-5.4zM641.0 705.7h10.4v5.4h-10.4zM646.0 715.7h5.4v5.4h-5.4zM641.0 720.7h10.4v5.4h-10.4zM646.0 725.7h5.4v5.4h-5.4zM649.8 775.3h5.4v5.4h-5.4zM664.8 775.3h5.4v5.4h-5.4zM654.8 785.3h5.4v5.4h-5.4zM655.5 842.6h5.4v5.4h-5.4zM675.5 842.6h5.4v5.4h-5.4zM680.5 847.6h5.4v5.4h-5.4zM680.5 857.6h5.4v5.4h-5.4zM660.8 909.6h5.4v5.4h-5.4zM655.8 949.6h5.4v5.4h-5.4zM667.8 974.3h5.4v5.4h-5.4zM662.8 979.3h10.4v5.4h-10.4zM667.8 984.3h5.4v5.4h-5.4zM672.8 989.3h10.4v5.4h-10.4zM672.8 994.3h5.4v5.4h-5.4zM682.8 994.3h5.4v5.4h-5.4zM667.8 999.3h10.4v5.4h-10.4zM667.8 1004.3h5.4v5.4h-5.4zM659.0 1044.3h5.4v5.4h-5.4zM664.0 1049.3h5.4v5.4h-5.4zM654.0 1064.3h5.4v5.4h-5.4z"/>
<path fill="#4e77f4" d="M650.3 83.3h5.4v5.4h-5.4zM645.3 88.3h5.4v5.4h-5.4zM645.3 93.3h5.4v5.4h-5.4zM690.0 133.3h5.4v5.4h-5.4zM700.0 138.3h5.4v5.4h-5.4zM725.0 138.3h5.4v5.4h-5.4zM695.0 143.3h5.4v5.4h-5.4zM720.0 143.3h10.4v5.4h-10.4zM700.0 148.3h5.4v5.4h-5.4zM720.0 148.3h5.4v5.4h-5.4zM685.0 153.3h15.4v5.4h-15.4zM710.0 153.3h5.4v5.4h-5.4zM720.0 153.3h5.4v5.4h-5.4zM735.0 153.3h5.4v5.4h-5.4zM695.0 158.3h5.4v5.4h-5.4zM715.0 158.3h5.4v5.4h-5.4zM725.0 158.3h5.4v5.4h-5.4zM705.0 163.3h10.4v5.4h-10.4zM695.0 168.3h5.4v5.4h-5.4zM705.0 168.3h5.4v5.4h-5.4zM715.0 168.3h10.4v5.4h-10.4zM690.0 173.3h10.4v5.4h-10.4zM700.0 178.3h5.4v5.4h-5.4zM727.3 197.8h5.4v5.4h-5.4zM717.3 202.8h5.4v5.4h-5.4zM737.3 207.8h5.4v5.4h-5.4zM702.3 212.8h5.4v5.4h-5.4zM727.3 237.8h5.4v5.4h-5.4zM722.3 242.8h5.4v5.4h-5.4zM737.3 242.8h5.4v5.4h-5.4zM712.3 247.8h5.4v5.4h-5.4zM697.8 282.3h5.4v5.4h-5.4zM672.8 287.3h5.4v5.4h-5.4zM682.8 287.3h15.4v5.4h-15.4zM702.8 287.3h5.4v5.4h-5.4zM697.8 292.3h10.4v5.4h-10.4zM677.8 302.3h10.4v5.4h-10.4zM692.8 302.3h10.4v5.4h-10.4zM677.8 336.8h5.4v5.4h-5.4zM677.8 341.8h5.4v5.4h-5.4zM682.8 361.8h5.4v5.4h-5.4zM682.8 366.8h5.4v5.4h-5.4zM662.8 386.8h5.4v5.4h-5.4zM662.8 391.8h5.4v5.4h-5.4zM654.8 401.8h5.4v5.4h-5.4zM664.8 401.8h5.4v5.4h-5.4zM709.8 436.8h5.4v5.4h-5.4zM659.8 446.8h5.4v5.4h-5.4zM669.8 451.8h5.4v5.4h-5.4zM672.8 481.3h5.4v5.4h-5.4zM677.8 496.3h5.4v5.4h-5.4zM692.8 496.3h5.4v5.4h-5.4zM707.8 496.3h5.4v5.4h-5.4zM682.8 501.3h5.4v5.4h-5.4zM692.8 501.3h5.4v5.4h-5.4zM712.8 501.3h5.4v5.4h-5.4zM672.8 506.3h5.4v5.4h-5.4zM692.8 506.3h5.4v5.4h-5.4zM712.8 506.3h5.4v5.4h-5.4zM687.8 511.3h5.4v5.4h-5.4zM662.8 531.3h5.4v5.4h-5.4zM664.8 555.8h5.4v5.4h-5.4zM664.8 560.8h5.4v5.4h-5.4zM674.8 560.8h5.4v5.4h-5.4zM654.8 570.8h10.4v5.4h-10.4zM659.8 575.8h5.4v5.4h-5.4zM659.8 580.8h5.4v5.4h-5.4zM646.0 710.7h5.4v5.4h-5.4zM649.8 770.3h5.4v5.4h-5.4zM654.8 790.3h5.4v5.4h-5.4zM650.5 837.6h10.4v5.4h-10.4zM670.5 842.6h5.4v5.4h-5.4zM675.5 847.6h5.4v5.4h-5.4zM670.5 852.6h5.4v5.4h-5.4zM680.5 852.6h5.4v5.4h-5.4zM665.8 909.6h5.4v5.4h-5.4zM660.8 914.6h10.4v5.4h-10.4zM657.8 979.3h5.4v5.4h-5.4zM659.0 1049.3h5.4v5.4h-5.4zM654.0 1054.3h5.4v5.4h-5.4zM654.0 1059.3h5.4v5.4h-5.4z"/>
<path fill="#5272f2" d="M645.3 83.3h5.4v5.4h-5.4zM700.0 143.3h5.4v5.4h-5.4zM680.0 148.3h15.4v5.4h-15.4zM705.0 148.3h10.4v5.4h-10.4zM675.0 153.3h5.4v5.4h-5.4zM700.0 153.3h10.4v5.4h-10.4zM675.0 158.3h5.4v5.4h-5.4zM690.0 158.3h5.4v5.4h-5.4zM700.0 158.3h5.4v5.4h-5.4zM710.0 158.3h5.4v5.4h-5.4zM690.0 168.3h5.4v5.4h-5.4zM710.0 168.3h5.4v5.4h-5.4zM700.0 173.3h5.4v5.4h-5.4zM702.3 202.8h5.4v5.4h-5.4zM702.3 207.8h5.4v5.4h-5.4zM717.3 207.8h5.4v5.4h-5.4zM732.3 207.8h5.4v5.4h-5.4zM712.3 217.8h5.4v5.4h-5.4zM697.3 227.8h5.4v5.4h-5.4zM692.3 232.8h5.4v5.4h-5.4zM697.3 237.8h5.4v5.4h-5.4zM712.3 242.8h5.4v5.4h-5.4zM722.3 247.8h15.4v5.4h-15.4zM722.3 252.8h5.4v5.4h-5.4zM662.8 277.3h5.4v5.4h-5.4zM692.8 282.3h5.4v5.4h-5.4zM697.8 287.3h5.4v5.4h-5.4zM667.8 292.3h5.4v5.4h-5.4zM662.8 297.3h5.4v5.4h-5.4zM677.8 297.3h5.4v5.4h-5.4zM692.8 297.3h5.4v5.4h-5.4zM677.8 366.8h5.4v5.4h-5.4zM657.8 386.8h5.4v5.4h-5.4zM657.8 391.8h5.4v5.4h-5.4zM699.8 426.8h5.4v5.4h-5.4zM699.8 431.8h5.4v5.4h-5.4zM694.8 436.8h5.4v5.4h-5.4zM704.8 436.8h5.4v5.4h-5.4zM694.8 441.8h5.4v5.4h-5.4zM659.8 451.8h5.4v5.4h-5.4zM664.8 456.8h5.4v5.4h-5.4zM669.8 461.8h5.4v5.4h-5.4zM667.8 481.3h5.4v5.4h-5.4zM692.8 491.3h5.4v5.4h-5.4zM697.8 496.3h5.4v5.4h-5.4zM707.8 501.3h5.4v5.4h-5.4zM682.8 506.3h10.4v5.4h-10.4zM682.8 516.3h5.4v5.4h-5.4zM664.8 550.8h5.4v5.4h-5.4zM669.8 555.8h5.4v5.4h-5.4zM674.8 565.8h5.4v5.4h-5.4zM669.8 570.8h5.4v5.4h-5.4zM654.8 575.8h5.4v5.4h-5.4zM669.8 575.8h10.4v5.4h-10.4zM664.8 580.8h5.4v5.4h-5.4zM654.8 585.8h5.4v5.4h-5.4zM665.5 827.6h5.4v5.4h-5.4zM665.5 832.6h5.4v5.4h-5.4zM670.5 847.6h5.4v5.4h-5.4zM675.5 852.6h5.4v5.4h-5.4zM645.5 857.6h5.4v5.4h-5.4zM675.5 857.6h5.4v5.4h-5.4zM645.5 862.6h5.4v5.4h-5.4zM670.8 919.6h5.4v5.4h-5.4zM655.8 924.6h5.4v5.4h-5.4zM670.8 924.6h5.4v5.4h-5.4zM670.8 929.6h5.4v5.4h-5.4zM652.8 994.3h5.4v5.4h-5.4zM652.8 999.3h5.4v5.4h-5.4z"/>
<path fill="#5a67ed" d="M565.3 63.3h5.4v5.4h-5.4zM545.3 93.3h5.4v5.4h-5.4zM675.0 128.3h5.4v5.4h-5.4zM685.0 133.3h5.4v5.4h-5.4zM690.0 138.3h5.4v5.4h-5.4zM675.0 143.3h5.4v5.4h-5.4zM690.0 143.3h5.4v5.4h-5.4zM665.0 148.3h5.4v5.4h-5.4zM675.0 148.3h5.4v5.4h-5.4zM695.0 148.3h5.4v5.4h-5.4zM680.0 153.3h5.4v5.4h-5.4zM670.0 158.3h5.4v5.4h-5.4zM680.0 158.3h10.4v5.4h-10.4zM705.0 158.3h5.4v5.4h-5.4zM690.0 163.3h15.4v5.4h-15.4zM700.0 168.3h5.4v5.4h-5.4zM680.0 173.3h5.4v5.4h-5.4zM705.0 173.3h10.4v5.4h-10.4zM675.0 178.3h5.4v5.4h-5.4zM727.3 212.8h5.4v5.4h-5.4zM697.3 217.8h10.4v5.4h-10.4zM702.3 222.8h5.4v5.4h-5.4zM712.3 222.8h5.4v5.4h-5.4zM692.3 227.8h5.4v5.4h-5.4zM702.3 242.8h5.4v5.4h-5.4zM717.3 242.8h5.4v5.4h-5.4zM702.3 247.8h5.4v5.4h-5.4zM717.3 247.8h5.4v5.4h-5.4zM717.3 252.8h5.4v5.4h-5.4zM662.8 272.3h5.4v5.4h-5.4zM682.8 277.3h5.4v5.4h-5.4zM677.8 282.3h5.4v5.4h-5.4zM662.8 292.3h5.4v5.4h-5.4zM677.8 292.3h5.4v5.4h-5.4zM687.8 292.3h10.4v5.4h-10.4zM667.8 297.3h5.4v5.4h-5.4zM687.8 297.3h5.4v5.4h-5.4zM697.8 297.3h5.4v5.4h-5.4zM662.8 302.3h5.4v5.4h-5.4zM672.8 302.3h5.4v5.4h-5.4zM682.8 307.3h5.4v5.4h-5.4zM662.8 312.3h10.4v5.4h-10.4zM672.8 331.8h5.4v5.4h-5.4zM677.8 351.8h5.4v5.4h-5.4zM672.8 356.8h10.4v5.4h-10.4zM662.8 361.8h5.4v5.4h-5.4zM677.8 361.8h5.4v5.4h-5.4zM672.8 366.8h5.4v5.4h-5.4zM677.8 376.8h5.4v5.4h-5.4zM662.8 381.8h5.4v5.4h-5.4zM677.8 386.8h5.4v5.4h-5.4zM674.8 416.8h5.4v5.4h-5.4zM654.8 421.8h5.4v5.4h-5.4zM664.8 426.8h5.4v5.4h-5.4zM689.8 431.8h10.4v5.4h-10.4zM654.8 436.8h5.4v5.4h-5.4zM689.8 436.8h5.4v5.4h-5.4zM699.8 436.8h5.4v5.4h-5.4zM679.8 441.8h5.4v5.4h-5.4zM674.8 446.8h5.4v5.4h-5.4zM659.8 456.8h5.4v5.4h-5.4zM677.8 476.3h5.4v5.4h-5.4zM662.8 481.3h5.4v5.4h-5.4zM667.8 491.3h5.4v5.4h-5.4zM682.8 491.3h5.4v5.4h-5.4zM702.8 496.3h5.4v5.4h-5.4zM667.8 501.3h10.4v5.4h-10.4zM677.8 506.3h5.4v5.4h-5.4zM707.8 506.3h5.4v5.4h-5.4zM692.8 511.3h5.4v5.4h-5.4zM662.8 526.3h5.4v5.4h-5.4zM654.8 545.8h5.4v5.4h-5.4zM674.8 545.8h5.4v5.4h-5.4zM654.8 560.8h5.4v5.4h-5.4zM654.8 565.8h5.4v5.4h-5.4zM704.8 565.8h5.4v5.4h-5.4zM704.8 575.8h5.4v5.4h-5.4zM659.8 600.8h5.4v5.4h-5.4zM656.0 705.7h5.4v5.4h-5.4zM651.0 720.7h5.4v5.4h-5.4zM670.5 857.6h5.4v5.4h-5.4zM650.5 862.6h5.4v5.4h-5.4zM645.5 872.6h5.4v5.4h-5.4zM670.8 909.6h5.4v5.4h-5.4zM670.8 914.6h5.4v5.4h-5.4z"/>
<path fill="#615be7" d="M540.3 58.3h5.4v5.4h-5.4zM560.3 63.3h5.4v5.4h-5.4zM635.3 78.3h15.4v5.4h-15.4zM600.3 83.3h10.4v5.4h-10.4zM640.3 83.3h5.4v5.4h-5.4zM555.3 88.3h5.4v5.4h-5.4zM505.3 93.3h5.4v5.4h-5.4zM550.3 93.3h5.4v5.4h-5.4zM670.0 128.3h5.4v5.4h-5.4zM690.0 128.3h5.4v5.4h-5.4zM675.0 133.3h5.4v5.4h-5.4zM685.0 138.3h5.4v5.4h-5.4zM670.0 143.3h5.4v5.4h-5.4zM660.0 148.3h5.4v5.4h-5.4zM665.0 163.3h5.4v5.4h-5.4zM685.0 163.3h5.4v5.4h-5.4zM675.0 168.3h10.4v5.4h-10.4zM660.0 173.3h10.4v5.4h-10.4zM665.0 178.3h10.4v5.4h-10.4zM680.0 178.3h5.4v5.4h-5.4zM690.0 178.3h5.4v5.4h-5.4zM687.3 212.8h5.4v5.4h-5.4zM732.3 212.8h5.4v5.4h-5.4zM687.3 217.8h5.4v5.4h-5.4zM697.3 222.8h5.4v5.4h-5.4zM707.3 222.8h5.4v5.4h-5.4zM697.3 242.8h5.4v5.4h-5.4zM712.3 252.8h5.4v5.4h-5.4zM687.8 277.3h5.4v5.4h-5.4zM672.8 282.3h5.4v5.4h-5.4zM687.8 282.3h5.4v5.4h-5.4zM667.8 287.3h5.4v5.4h-5.4zM677.8 287.3h5.4v5.4h-5.4zM682.8 292.3h5.4v5.4h-5.4zM662.8 307.3h5.4v5.4h-5.4zM687.8 307.3h5.4v5.4h-5.4zM667.8 331.8h5.4v5.4h-5.4zM672.8 341.8h5.4v5.4h-5.4zM657.8 346.8h5.4v5.4h-5.4zM677.8 346.8h5.4v5.4h-5.4zM662.8 356.8h5.4v5.4h-5.4zM667.8 361.8h5.4v5.4h-5.4zM677.8 371.8h5.4v5.4h-5.4zM662.8 376.8h5.4v5.4h-5.4zM667.8 381.8h5.4v5.4h-5.4zM677.8 381.8h5.4v5.4h-5.4zM667.8 386.8h5.4v5.4h-5.4zM664.8 406.8h10.4v5.4h-10.4zM654.8 411.8h5.4v5.4h-5.4zM669.8 411.8h5.4v5.4h-5.4zM659.8 421.8h10.4v5.4h-10.4zM659.8 431.8h5.4v5.4h-5.4zM659.8 436.8h5.4v5.4h-5.4zM679.8 436.8h10.4v5.4h-10.4zM654.8 441.8h5.4v5.4h-5.4zM674.8 441.8h5.4v5.4h-5.4zM664.8 461.8h5.4v5.4h-5.4zM662.8 486.3h5.4v5.4h-5.4zM672.8 486.3h5.4v5.4h-5.4zM697.8 491.3h5.4v5.4h-5.4zM697.8 501.3h10.4v5.4h-10.4zM667.8 506.3h5.4v5.4h-5.4zM697.8 506.3h5.4v5.4h-5.4zM677.8 516.3h5.4v5.4h-5.4zM669.8 550.8h10.4v5.4h-10.4zM669.8 560.8h5.4v5.4h-5.4zM659.8 565.8h10.4v5.4h-10.4zM699.8 565.8h5.4v5.4h-5.4zM664.8 570.8h5.4v5.4h-5.4zM699.8 570.8h10.4v5.4h-10.4zM644.0 620.8h5.4v5.4h-5.4zM644.0 630.8h5.4v5.4h-5.4zM644.0 650.8h5.4v5.4h-5.4zM644.0 665.8h5.4v5.4h-5.4zM679.8 775.3h15.4v5.4h-15.4zM684.8 780.3h10.4v5.4h-10.4zM684.8 785.3h10.4v5.4h-10.4zM645.5 827.6h5.4v5.4h-5.4zM645.5 847.6h5.4v5.4h-5.4zM665.5 847.6h5.4v5.4h-5.4zM645.5 867.6h5.4v5.4h-5.4zM665.5 872.6h5.4v5.4h-5.4zM670.8 904.6h5.4v5.4h-5.4zM670.8 934.6h5.4v5.4h-5.4zM657.8 994.3h5.4v5.4h-5.4z"/>
<path fill="#6950e2" d="M535.3 58.3h5.4v5.4h-5.4zM560.3 58.3h5.4v5.4h-5.4zM550.3 63.3h10.4v5.4h-10.4zM635.3 73.3h5.4v5.4h-5.4zM645.3 73.3h5.4v5.4h-5.4zM585.3 78.3h5.4v5.4h-5.4zM595.3 78.3h5.4v5.4h-5.4zM610.3 78.3h5.4v5.4h-5.4zM610.3 83.3h5.4v5.4h-5.4zM635.3 93.3h5.4v5.4h-5.4zM515.3 98.3h5.4v5.4h-5.4zM540.3 98.3h10.4v5.4h-10.4zM615.3 98.3h5.4v5.4h-5.4zM685.0 128.3h5.4v5.4h-5.4zM680.0 133.3h5.4v5.4h-5.4zM675.0 138.3h10.4v5.4h-10.4zM660.0 143.3h10.4v5.4h-10.4zM685.0 143.3h5.4v5.4h-5.4zM670.0 148.3h5.4v5.4h-5.4zM660.0 163.3h5.4v5.4h-5.4zM670.0 163.3h15.4v5.4h-15.4zM670.0 168.3h5.4v5.4h-5.4zM655.0 173.3h5.4v5.4h-5.4zM670.0 173.3h5.4v5.4h-5.4zM687.3 207.8h5.4v5.4h-5.4zM657.8 272.3h5.4v5.4h-5.4zM667.8 272.3h10.4v5.4h-10.4zM657.8 277.3h5.4v5.4h-5.4zM667.8 282.3h5.4v5.4h-5.4zM657.8 297.3h5.4v5.4h-5.4zM682.8 297.3h5.4v5.4h-5.4zM657.8 302.3h5.4v5.4h-5.4zM687.8 302.3h5.4v5.4h-5.4zM662.8 331.8h5.4v5.4h-5.4zM667.8 336.8h5.4v5.4h-5.4zM662.8 351.8h5.4v5.4h-5.4zM667.8 356.8h5.4v5.4h-5.4zM672.8 361.8h5.4v5.4h-5.4zM667.8 366.8h5.4v5.4h-5.4zM657.8 376.8h5.4v5.4h-5.4zM657.8 381.8h5.4v5.4h-5.4zM654.8 416.8h5.4v5.4h-5.4zM669.8 416.8h5.4v5.4h-5.4zM674.8 421.8h5.4v5.4h-5.4zM694.8 421.8h5.4v5.4h-5.4zM654.8 426.8h5.4v5.4h-5.4zM694.8 426.8h5.4v5.4h-5.4zM664.8 431.8h5.4v5.4h-5.4zM684.8 431.8h5.4v5.4h-5.4zM659.8 441.8h5.4v5.4h-5.4zM684.8 441.8h10.4v5.4h-10.4zM669.8 446.8h5.4v5.4h-5.4zM679.8 446.8h5.4v5.4h-5.4zM654.8 456.8h5.4v5.4h-5.4zM654.8 461.8h10.4v5.4h-10.4zM667.8 486.3h5.4v5.4h-5.4zM687.8 491.3h5.4v5.4h-5.4zM672.8 496.3h5.4v5.4h-5.4zM677.8 501.3h5.4v5.4h-5.4zM702.8 506.3h5.4v5.4h-5.4zM662.8 511.3h5.4v5.4h-5.4zM672.8 511.3h10.4v5.4h-10.4zM697.8 511.3h5.4v5.4h-5.4zM674.8 555.8h10.4v5.4h-10.4zM679.8 560.8h5.4v5.4h-5.4zM669.8 565.8h5.4v5.4h-5.4zM694.8 565.8h5.4v5.4h-5.4zM674.8 570.8h10.4v5.4h-10.4zM679.8 575.8h5.4v5.4h-5.4zM689.8 575.8h15.4v5.4h-15.4zM644.0 610.8h5.4v5.4h-5.4zM659.0 640.8h5.4v5.4h-5.4zM644.0 655.8h5.4v5.4h-5.4zM644.0 670.8h5.4v5.4h-5.4zM656.0 710.7h5.4v5.4h-5.4zM656.0 720.7h5.4v5.4h-5.4zM679.8 780.3h5.4v5.4h-5.4zM674.8 785.3h10.4v5.4h-10.4zM655.5 817.6h5.4v5.4h-5.4zM645.5 832.6h5.4v5.4h-5.4zM645.5 837.6h5.4v5.4h-5.4zM665.5 837.6h5.4v5.4h-5.4zM645.5 852.6h5.4v5.4h-5.4zM665.5 852.6h5.4v5.4h-5.4zM650.5 867.6h5.4v5.4h-5.4zM647.8 964.3h5.4v5.4h-5.4zM647.8 969.3h5.4v5.4h-5.4zM647.8 974.3h5.4v5.4h-5.4z"/>
<path fill="#7547d9" d="M590.3 63.3h5.4v5.4h-5.4zM550.3 68.3h5.4v5.4h-5.4zM565.3 68.3h5.4v5.4h-5.4zM585.3 73.3h10.4v5.4h-10.4zM580.3 83.3h5.4v5.4h-5.4zM635.3 83.3h5.4v5.4h-5.4zM500.3 88.3h5.4v5.4h-5.4zM545.3 88.3h10.4v5.4h-10.4zM560.3 88.3h5.4v5.4h-5.4zM615.3 88.3h5.4v5.4h-5.4zM520.3 93.3h10.4v5.4h-10.4zM540.3 93.3h5.4v5.4h-5.4zM555.3 93.3h10.4v5.4h-10.4zM630.3 93.3h5.4v5.4h-5.4zM560.3 98.3h5.4v5.4h-5.4zM580.3 108.3h5.4v5.4h-5.4zM620.0 128.3h5.4v5.4h-5.4zM680.0 128.3h5.4v5.4h-5.4zM665.0 138.3h5.4v5.4h-5.4zM615.0 143.3h10.4v5.4h-10.4zM655.0 143.3h5.4v5.4h-5.4zM680.0 143.3h5.4v5.4h-5.4zM615.0 148.3h5.4v5.4h-5.4zM640.0 148.3h5.4v5.4h-5.4zM640.0 153.3h5.4v5.4h-5.4zM670.0 153.3h5.4v5.4h-5.4zM665.0 158.3h5.4v5.4h-5.4zM655.0 168.3h10.4v5.4h-10.4zM685.0 168.3h5.4v5.4h-5.4zM675.0 173.3h5.4v5.4h-5.4zM685.0 173.3h5.4v5.4h-5.4zM685.0 178.3h5.4v5.4h-5.4zM615.0 183.3h5.4v5.4h-5.4zM687.3 222.8h5.4v5.4h-5.4zM732.3 222.8h5.4v5.4h-5.4zM687.3 232.8h5.4v5.4h-5.4zM722.3 232.8h5.4v5.4h-5.4zM687.3 237.8h5.4v5.4h-5.4zM652.8 262.3h5.4v5.4h-5.4zM682.8 282.3h5.4v5.4h-5.4zM662.8 287.3h5.4v5.4h-5.4zM667.8 307.3h5.4v5.4h-5.4zM677.8 307.3h5.4v5.4h-5.4zM672.8 336.8h5.4v5.4h-5.4zM657.8 361.8h5.4v5.4h-5.4zM657.8 366.8h5.4v5.4h-5.4zM662.8 371.8h5.4v5.4h-5.4zM672.8 371.8h5.4v5.4h-5.4zM667.8 376.8h5.4v5.4h-5.4zM667.8 391.8h5.4v5.4h-5.4zM679.8 416.8h5.4v5.4h-5.4zM669.8 421.8h5.4v5.4h-5.4zM659.8 426.8h5.4v5.4h-5.4zM669.8 426.8h5.4v5.4h-5.4zM679.8 426.8h10.4v5.4h-10.4zM654.8 431.8h5.4v5.4h-5.4zM662.8 471.3h5.4v5.4h-5.4zM672.8 476.3h5.4v5.4h-5.4zM657.8 486.3h5.4v5.4h-5.4zM677.8 486.3h5.4v5.4h-5.4zM687.8 486.3h5.4v5.4h-5.4zM662.8 491.3h5.4v5.4h-5.4zM672.8 491.3h5.4v5.4h-5.4zM662.8 521.3h5.4v5.4h-5.4zM654.8 550.8h10.4v5.4h-10.4zM689.8 560.8h5.4v5.4h-5.4zM684.8 565.8h5.4v5.4h-5.4zM689.8 570.8h10.4v5.4h-10.4zM674.8 580.8h5.4v5.4h-5.4zM644.0 615.8h5.4v5.4h-5.4zM644.0 660.8h5.4v5.4h-5.4zM651.0 705.7h5.4v5.4h-5.4zM651.0 710.7h5.4v5.4h-5.4zM651.0 715.7h10.4v5.4h-10.4zM674.8 775.3h5.4v5.4h-5.4zM674.8 780.3h5.4v5.4h-5.4zM650.5 817.6h5.4v5.4h-5.4zM660.5 817.6h5.4v5.4h-5.4zM645.5 842.6h5.4v5.4h-5.4zM665.5 842.6h5.4v5.4h-5.4zM650.5 857.6h5.4v5.4h-5.4zM665.5 867.6h5.4v5.4h-5.4zM650.5 872.6h5.4v5.4h-5.4zM665.8 894.6h5.4v5.4h-5.4zM660.8 929.6h5.4v5.4h-5.4zM655.8 934.6h5.4v5.4h-5.4zM665.8 949.6h5.4v5.4h-5.4zM652.8 959.3h5.4v5.4h-5.4zM652.8 964.3h10.4v5.4h-10.4zM647.8 999.3h5.4v5.4h-5.4zM657.8 999.3h5.4v5.4h-5.4zM659.0 1079.3h10.4v5.4h-10.4z"/>
<path fill="#823fd1" d="M545.3 63.3h5.4v5.4h-5.4zM570.3 63.3h5.4v5.4h-5.4zM515.3 68.3h5.4v5.4h-5.4zM560.3 68.3h5.4v5.4h-5.4zM610.3 68.3h10.4v5.4h-10.4zM515.3 73.3h5.4v5.4h-5.4zM525.3 73.3h5.4v5.4h-5.4zM555.3 73.3h5.4v5.4h-5.4zM615.3 73.3h5.4v5.4h-5.4zM500.3 78.3h5.4v5.4h-5.4zM550.3 78.3h5.4v5.4h-5.4zM600.3 78.3h5.4v5.4h-5.4zM525.3 83.3h5.4v5.4h-5.4zM615.3 83.3h5.4v5.4h-5.4zM525.3 88.3h5.4v5.4h-5.4zM600.3 88.3h5.4v5.4h-5.4zM625.3 88.3h10.4v5.4h-10.4zM640.3 88.3h5.4v5.4h-5.4zM530.3 93.3h5.4v5.4h-5.4zM595.3 93.3h5.4v5.4h-5.4zM640.3 93.3h5.4v5.4h-5.4zM545.3 103.3h5.4v5.4h-5.4zM560.3 103.3h5.4v5.4h-5.4zM585.3 108.3h5.4v5.4h-5.4zM625.0 123.3h5.4v5.4h-5.4zM620.0 133.3h5.4v5.4h-5.4zM650.0 133.3h5.4v5.4h-5.4zM670.0 133.3h5.4v5.4h-5.4zM620.0 138.3h5.4v5.4h-5.4zM660.0 138.3h5.4v5.4h-5.4zM670.0 138.3h5.4v5.4h-5.4zM645.0 148.3h5.4v5.4h-5.4zM610.0 153.3h5.4v5.4h-5.4zM645.0 153.3h5.4v5.4h-5.4zM665.0 153.3h5.4v5.4h-5.4zM615.0 158.3h5.4v5.4h-5.4zM650.0 168.3h5.4v5.4h-5.4zM665.0 168.3h5.4v5.4h-5.4zM630.0 178.3h10.4v5.4h-10.4zM610.0 183.3h5.4v5.4h-5.4zM687.3 227.8h5.4v5.4h-5.4zM647.8 272.3h10.4v5.4h-10.4zM677.8 277.3h5.4v5.4h-5.4zM657.8 282.3h10.4v5.4h-10.4zM652.8 292.3h5.4v5.4h-5.4zM667.8 302.3h5.4v5.4h-5.4zM672.8 312.3h5.4v5.4h-5.4zM662.8 346.8h10.4v5.4h-10.4zM667.8 351.8h5.4v5.4h-5.4zM667.8 371.8h5.4v5.4h-5.4zM652.8 376.8h5.4v5.4h-5.4zM672.8 376.8h5.4v5.4h-5.4zM652.8 381.8h5.4v5.4h-5.4zM672.8 381.8h5.4v5.4h-5.4zM679.8 421.8h5.4v5.4h-5.4zM689.8 421.8h5.4v5.4h-5.4zM689.8 426.8h5.4v5.4h-5.4zM674.8 431.8h10.4v5.4h-10.4zM664.8 441.8h5.4v5.4h-5.4zM682.8 486.3h5.4v5.4h-5.4zM677.8 491.3h5.4v5.4h-5.4zM662.8 496.3h10.4v5.4h-10.4zM667.8 511.3h5.4v5.4h-5.4zM657.8 516.3h10.4v5.4h-10.4zM682.8 521.3h5.4v5.4h-5.4zM659.8 540.8h5.4v5.4h-5.4zM654.8 555.8h5.4v5.4h-5.4zM684.8 560.8h5.4v5.4h-5.4zM679.8 565.8h5.4v5.4h-5.4zM689.8 565.8h5.4v5.4h-5.4zM684.8 570.8h5.4v5.4h-5.4zM669.8 580.8h5.4v5.4h-5.4zM689.8 580.8h5.4v5.4h-5.4zM664.8 585.8h5.4v5.4h-5.4zM679.8 585.8h5.4v5.4h-5.4zM644.0 625.8h5.4v5.4h-5.4zM659.8 755.3h5.4v5.4h-5.4zM654.8 800.3h10.4v5.4h-10.4zM654.8 805.3h5.4v5.4h-5.4zM665.5 857.6h5.4v5.4h-5.4zM665.5 862.6h5.4v5.4h-5.4zM650.5 882.6h5.4v5.4h-5.4zM660.8 919.6h10.4v5.4h-10.4zM665.8 929.6h5.4v5.4h-5.4zM665.8 934.6h5.4v5.4h-5.4zM662.8 1014.3h5.4v5.4h-5.4zM654.0 1074.3h5.4v5.4h-5.4zM664.0 1084.3h5.4v5.4h-5.4zM659.0 1089.3h5.4v5.4h-5.4z"/>
<path fill="#8e36c8" d="M570.3 53.3h5.4v5.4h-5.4zM555.3 58.3h5.4v5.4h-5.4zM565.3 58.3h5.4v5.4h-5.4zM585.3 58.3h5.4v5.4h-5.4zM585.3 68.3h5.4v5.4h-5.4zM545.3 73.3h10.4v5.4h-10.4zM570.3 73.3h5.4v5.4h-5.4zM580.3 73.3h5.4v5.4h-5.4zM640.3 73.3h5.4v5.4h-5.4zM480.3 78.3h10.4v5.4h-10.4zM545.3 78.3h5.4v5.4h-5.4zM580.3 78.3h5.4v5.4h-5.4zM590.3 78.3h5.4v5.4h-5.4zM475.3 83.3h5.4v5.4h-5.4zM595.3 83.3h5.4v5.4h-5.4zM505.3 88.3h5.4v5.4h-5.4zM575.3 93.3h5.4v5.4h-5.4zM625.3 93.3h5.4v5.4h-5.4zM590.3 98.3h5.4v5.4h-5.4zM540.3 103.3h5.4v5.4h-5.4zM550.3 103.3h5.4v5.4h-5.4zM540.3 108.3h5.4v5.4h-5.4zM550.3 108.3h5.4v5.4h-5.4zM615.0 128.3h5.4v5.4h-5.4zM625.0 128.3h5.4v5.4h-5.4zM615.0 133.3h5.4v5.4h-5.4zM645.0 133.3h5.4v5.4h-5.4zM660.0 133.3h10.4v5.4h-10.4zM630.0 138.3h5.4v5.4h-5.4zM655.0 138.3h5.4v5.4h-5.4zM635.0 143.3h5.4v5.4h-5.4zM610.0 148.3h5.4v5.4h-5.4zM620.0 148.3h5.4v5.4h-5.4zM655.0 148.3h5.4v5.4h-5.4zM655.0 158.3h5.4v5.4h-5.4zM615.0 163.3h5.4v5.4h-5.4zM655.0 163.3h5.4v5.4h-5.4zM600.0 168.3h10.4v5.4h-10.4zM630.0 168.3h5.4v5.4h-5.4zM635.0 173.3h5.4v5.4h-5.4zM682.3 212.8h5.4v5.4h-5.4zM682.3 217.8h5.4v5.4h-5.4zM727.3 222.8h5.4v5.4h-5.4zM707.3 232.8h5.4v5.4h-5.4zM722.3 237.8h5.4v5.4h-5.4zM657.8 267.3h5.4v5.4h-5.4zM667.8 277.3h10.4v5.4h-10.4zM672.8 307.3h5.4v5.4h-5.4zM657.8 341.8h5.4v5.4h-5.4zM652.8 346.8h5.4v5.4h-5.4zM672.8 351.8h5.4v5.4h-5.4zM657.8 356.8h5.4v5.4h-5.4zM662.8 366.8h5.4v5.4h-5.4zM652.8 371.8h10.4v5.4h-10.4zM647.8 376.8h5.4v5.4h-5.4zM672.8 386.8h5.4v5.4h-5.4zM684.8 421.8h5.4v5.4h-5.4zM674.8 426.8h5.4v5.4h-5.4zM669.8 431.8h5.4v5.4h-5.4zM664.8 436.8h15.4v5.4h-15.4zM669.8 441.8h5.4v5.4h-5.4zM654.8 446.8h5.4v5.4h-5.4zM654.8 451.8h5.4v5.4h-5.4zM652.8 476.3h5.4v5.4h-5.4zM657.8 491.3h5.4v5.4h-5.4zM662.8 506.3h5.4v5.4h-5.4zM677.8 521.3h5.4v5.4h-5.4zM667.8 526.3h5.4v5.4h-5.4zM677.8 526.3h5.4v5.4h-5.4zM659.8 555.8h5.4v5.4h-5.4zM659.8 560.8h5.4v5.4h-5.4zM684.8 575.8h5.4v5.4h-5.4zM664.8 590.8h5.4v5.4h-5.4zM664.8 595.8h5.4v5.4h-5.4zM649.0 615.8h5.4v5.4h-5.4zM654.0 625.8h5.4v5.4h-5.4zM649.0 650.8h5.4v5.4h-5.4zM649.0 665.8h5.4v5.4h-5.4zM661.0 685.7h5.4v5.4h-5.4zM661.0 695.7h5.4v5.4h-5.4zM654.8 755.3h5.4v5.4h-5.4zM664.8 755.3h5.4v5.4h-5.4zM664.8 765.3h5.4v5.4h-5.4zM669.8 770.3h5.4v5.4h-5.4zM659.8 805.3h5.4v5.4h-5.4zM660.5 842.6h5.4v5.4h-5.4zM650.5 852.6h5.4v5.4h-5.4zM655.5 862.6h5.4v5.4h-5.4zM655.8 904.6h5.4v5.4h-5.4zM660.8 924.6h5.4v5.4h-5.4zM655.8 929.6h5.4v5.4h-5.4zM665.8 944.6h5.4v5.4h-5.4zM657.8 959.3h5.4v5.4h-5.4zM652.8 974.3h5.4v5.4h-5.4zM662.8 974.3h5.4v5.4h-5.4zM647.8 1004.3h5.4v5.4h-5.4zM662.8 1009.3h5.4v5.4h-5.4zM652.8 1014.3h10.4v5.4h-10.4zM644.0 1054.3h5.4v5.4h-5.4zM644.0 1059.3h5.4v5.4h-5.4zM664.0 1069.3h5.4v5.4h-5.4z"/>
<path fill="#9d30c2" d="M555.3 53.3h5.4v5.4h-5.4zM545.3 58.3h5.4v5.4h-5.4zM585.3 63.3h5.4v5.4h-5.4zM590.3 68.3h5.4v5.4h-5.4zM520.3 73.3h5.4v5.4h-5.4zM530.3 73.3h5.4v5.4h-5.4zM565.3 73.3h5.4v5.4h-5.4zM610.3 73.3h5.4v5.4h-5.4zM485.3 83.3h5.4v5.4h-5.4zM520.3 83.3h5.4v5.4h-5.4zM625.3 83.3h10.4v5.4h-10.4zM475.3 88.3h5.4v5.4h-5.4zM580.3 88.3h5.4v5.4h-5.4zM510.3 93.3h5.4v5.4h-5.4zM535.3 93.3h5.4v5.4h-5.4zM550.3 98.3h10.4v5.4h-10.4zM595.3 98.3h5.4v5.4h-5.4zM535.3 103.3h5.4v5.4h-5.4zM575.3 108.3h5.4v5.4h-5.4zM555.3 113.3h5.4v5.4h-5.4zM620.0 123.3h5.4v5.4h-5.4zM610.0 128.3h5.4v5.4h-5.4zM665.0 128.3h5.4v5.4h-5.4zM595.0 133.3h5.4v5.4h-5.4zM605.0 133.3h10.4v5.4h-10.4zM645.0 138.3h5.4v5.4h-5.4zM630.0 143.3h5.4v5.4h-5.4zM645.0 143.3h10.4v5.4h-10.4zM605.0 148.3h5.4v5.4h-5.4zM620.0 153.3h10.4v5.4h-10.4zM635.0 153.3h5.4v5.4h-5.4zM650.0 153.3h10.4v5.4h-10.4zM650.0 158.3h5.4v5.4h-5.4zM660.0 158.3h5.4v5.4h-5.4zM600.0 163.3h5.4v5.4h-5.4zM620.0 163.3h5.4v5.4h-5.4zM620.0 168.3h5.4v5.4h-5.4zM600.0 173.3h5.4v5.4h-5.4zM650.0 173.3h5.4v5.4h-5.4zM647.3 212.8h5.4v5.4h-5.4zM637.3 217.8h5.4v5.4h-5.4zM662.3 217.8h5.4v5.4h-5.4zM677.3 217.8h5.4v5.4h-5.4zM722.3 217.8h15.4v5.4h-15.4zM642.3 222.8h5.4v5.4h-5.4zM662.3 222.8h5.4v5.4h-5.4zM667.3 227.8h10.4v5.4h-10.4zM642.3 232.8h5.4v5.4h-5.4zM717.3 232.8h5.4v5.4h-5.4zM707.3 237.8h5.4v5.4h-5.4zM717.3 237.8h5.4v5.4h-5.4zM642.8 262.3h10.4v5.4h-10.4zM647.8 267.3h5.4v5.4h-5.4zM647.8 292.3h5.4v5.4h-5.4zM657.8 292.3h5.4v5.4h-5.4zM657.8 312.3h5.4v5.4h-5.4zM657.8 317.3h5.4v5.4h-5.4zM652.8 322.3h5.4v5.4h-5.4zM662.8 336.8h5.4v5.4h-5.4zM652.8 341.8h5.4v5.4h-5.4zM667.8 341.8h5.4v5.4h-5.4zM637.8 346.8h10.4v5.4h-10.4zM672.8 346.8h5.4v5.4h-5.4zM657.8 351.8h5.4v5.4h-5.4zM637.8 356.8h10.4v5.4h-10.4zM642.8 366.8h5.4v5.4h-5.4zM647.8 371.8h5.4v5.4h-5.4zM647.8 381.8h5.4v5.4h-5.4zM657.8 471.3h5.4v5.4h-5.4zM657.8 476.3h5.4v5.4h-5.4zM667.8 476.3h5.4v5.4h-5.4zM657.8 501.3h5.4v5.4h-5.4zM657.8 511.3h5.4v5.4h-5.4zM652.8 516.3h5.4v5.4h-5.4zM667.8 516.3h10.4v5.4h-10.4zM672.8 521.3h5.4v5.4h-5.4zM659.8 545.8h5.4v5.4h-5.4zM679.8 580.8h10.4v5.4h-10.4zM669.8 585.8h5.4v5.4h-5.4zM674.8 595.8h5.4v5.4h-5.4zM654.0 630.8h5.4v5.4h-5.4zM666.0 680.7h5.4v5.4h-5.4zM666.0 685.7h5.4v5.4h-5.4zM656.0 700.7h5.4v5.4h-5.4zM666.0 700.7h5.4v5.4h-5.4zM651.0 725.7h5.4v5.4h-5.4zM656.0 735.7h10.4v5.4h-10.4zM661.0 740.7h5.4v5.4h-5.4zM659.8 750.3h10.4v5.4h-10.4zM664.8 770.3h5.4v5.4h-5.4zM669.8 775.3h5.4v5.4h-5.4zM664.8 785.3h10.4v5.4h-10.4zM664.8 790.3h5.4v5.4h-5.4zM659.8 810.3h5.4v5.4h-5.4zM660.5 862.6h5.4v5.4h-5.4zM650.5 877.6h5.4v5.4h-5.4zM655.5 882.6h10.4v5.4h-10.4zM660.8 889.6h5.4v5.4h-5.4zM660.8 904.6h5.4v5.4h-5.4zM655.8 919.6h5.4v5.4h-5.4zM660.8 934.6h5.4v5.4h-5.4zM665.8 939.6h5.4v5.4h-5.4zM662.8 964.3h5.4v5.4h-5.4zM652.8 969.3h5.4v5.4h-5.4zM657.8 974.3h5.4v5.4h-5.4zM652.8 1004.3h15.4v5.4h-15.4zM647.8 1009.3h5.4v5.4h-5.4zM657.8 1009.3h5.4v5.4h-5.4zM669.0 1049.3h5.4v5.4h-5.4zM629.0 1054.3h5.4v5.4h-5.4zM629.0 1059.3h5.4v5.4h-5.4zM649.0 1059.3h5.4v5.4h-5.4zM629.0 1064.3h5.4v5.4h-5.4zM649.0 1064.3h5.4v5.4h-5.4zM659.0 1064.3h5.4v5.4h-5.4zM649.0 1069.3h5.4v5.4h-5.4zM659.0 1069.3h5.4v5.4h-5.4zM649.0 1079.3h10.4v5.4h-10.4z"/>
<path fill="#ac2abc" d="M560.3 53.3h5.4v5.4h-5.4zM580.3 63.3h5.4v5.4h-5.4zM595.3 63.3h5.4v5.4h-5.4zM570.3 68.3h5.4v5.4h-5.4zM605.3 68.3h5.4v5.4h-5.4zM475.3 78.3h5.4v5.4h-5.4zM490.3 78.3h10.4v5.4h-10.4zM540.3 78.3h5.4v5.4h-5.4zM560.3 78.3h5.4v5.4h-5.4zM605.3 78.3h5.4v5.4h-5.4zM625.3 78.3h5.4v5.4h-5.4zM480.3 83.3h5.4v5.4h-5.4zM490.3 83.3h5.4v5.4h-5.4zM500.3 83.3h5.4v5.4h-5.4zM515.3 83.3h5.4v5.4h-5.4zM540.3 83.3h10.4v5.4h-10.4zM585.3 83.3h5.4v5.4h-5.4zM495.3 88.3h5.4v5.4h-5.4zM515.3 93.3h5.4v5.4h-5.4zM590.3 93.3h5.4v5.4h-5.4zM530.3 98.3h5.4v5.4h-5.4zM530.3 103.3h5.4v5.4h-5.4zM555.3 103.3h5.4v5.4h-5.4zM565.3 103.3h5.4v5.4h-5.4zM535.3 108.3h5.4v5.4h-5.4zM545.3 108.3h5.4v5.4h-5.4zM550.3 113.3h5.4v5.4h-5.4zM565.3 113.3h10.4v5.4h-10.4zM605.0 128.3h5.4v5.4h-5.4zM630.0 128.3h5.4v5.4h-5.4zM600.0 133.3h5.4v5.4h-5.4zM655.0 133.3h5.4v5.4h-5.4zM595.0 138.3h5.4v5.4h-5.4zM650.0 138.3h5.4v5.4h-5.4zM605.0 143.3h10.4v5.4h-10.4zM625.0 148.3h5.4v5.4h-5.4zM635.0 148.3h5.4v5.4h-5.4zM650.0 148.3h5.4v5.4h-5.4zM600.0 153.3h10.4v5.4h-10.4zM615.0 153.3h5.4v5.4h-5.4zM630.0 153.3h5.4v5.4h-5.4zM660.0 153.3h5.4v5.4h-5.4zM595.0 163.3h5.4v5.4h-5.4zM605.0 163.3h10.4v5.4h-10.4zM625.0 163.3h5.4v5.4h-5.4zM645.0 163.3h10.4v5.4h-10.4zM595.0 168.3h5.4v5.4h-5.4zM610.0 168.3h5.4v5.4h-5.4zM645.0 168.3h5.4v5.4h-5.4zM615.0 173.3h5.4v5.4h-5.4zM630.0 173.3h5.4v5.4h-5.4zM615.0 178.3h5.4v5.4h-5.4zM630.0 183.3h5.4v5.4h-5.4zM637.3 212.8h10.4v5.4h-10.4zM722.3 212.8h5.4v5.4h-5.4zM617.3 217.8h5.4v5.4h-5.4zM627.3 217.8h10.4v5.4h-10.4zM642.3 217.8h15.4v5.4h-15.4zM667.3 217.8h10.4v5.4h-10.4zM717.3 217.8h5.4v5.4h-5.4zM602.3 222.8h5.4v5.4h-5.4zM617.3 222.8h5.4v5.4h-5.4zM637.3 222.8h5.4v5.4h-5.4zM667.3 222.8h20.4v5.4h-20.4zM592.3 227.8h20.4v5.4h-20.4zM637.3 227.8h15.4v5.4h-15.4zM657.3 227.8h10.4v5.4h-10.4zM677.3 227.8h10.4v5.4h-10.4zM592.3 232.8h5.4v5.4h-5.4zM602.3 232.8h5.4v5.4h-5.4zM622.3 232.8h20.4v5.4h-20.4zM647.3 232.8h5.4v5.4h-5.4zM682.3 232.8h5.4v5.4h-5.4zM702.3 232.8h5.4v5.4h-5.4zM702.3 237.8h5.4v5.4h-5.4zM642.8 272.3h5.4v5.4h-5.4zM642.8 277.3h10.4v5.4h-10.4zM657.8 287.3h5.4v5.4h-5.4zM642.8 292.3h5.4v5.4h-5.4zM652.8 297.3h5.4v5.4h-5.4zM657.8 307.3h5.4v5.4h-5.4zM642.8 312.3h5.4v5.4h-5.4zM647.8 317.3h5.4v5.4h-5.4zM642.8 322.3h5.4v5.4h-5.4zM657.8 331.8h5.4v5.4h-5.4zM662.8 341.8h5.4v5.4h-5.4zM632.8 346.8h5.4v5.4h-5.4zM647.8 346.8h5.4v5.4h-5.4zM632.8 351.8h15.4v5.4h-15.4zM632.8 361.8h5.4v5.4h-5.4zM637.8 366.8h5.4v5.4h-5.4zM652.8 366.8h5.4v5.4h-5.4zM642.8 371.8h5.4v5.4h-5.4zM637.8 381.8h10.4v5.4h-10.4zM672.8 391.8h5.4v5.4h-5.4zM652.8 471.3h5.4v5.4h-5.4zM662.8 476.3h5.4v5.4h-5.4zM652.8 481.3h5.4v5.4h-5.4zM662.8 501.3h5.4v5.4h-5.4zM652.8 511.3h5.4v5.4h-5.4zM664.8 600.8h5.4v5.4h-5.4zM649.0 610.8h5.4v5.4h-5.4zM654.0 615.8h5.4v5.4h-5.4zM654.0 620.8h5.4v5.4h-5.4zM654.0 650.8h5.4v5.4h-5.4zM661.0 680.7h5.4v5.4h-5.4zM661.0 690.7h5.4v5.4h-5.4zM666.0 695.7h5.4v5.4h-5.4zM656.0 725.7h5.4v5.4h-5.4zM661.0 730.7h5.4v5.4h-5.4zM656.0 740.7h5.4v5.4h-5.4zM666.0 740.7h5.4v5.4h-5.4zM659.8 760.3h15.4v5.4h-15.4zM659.8 765.3h5.4v5.4h-5.4zM669.8 765.3h5.4v5.4h-5.4zM659.8 790.3h5.4v5.4h-5.4zM669.8 790.3h5.4v5.4h-5.4zM669.8 795.3h5.4v5.4h-5.4zM664.8 800.3h10.4v5.4h-10.4zM655.5 822.6h10.4v5.4h-10.4zM650.5 847.6h5.4v5.4h-5.4zM660.5 872.6h5.4v5.4h-5.4zM660.5 877.6h5.4v5.4h-5.4zM665.8 889.6h5.4v5.4h-5.4zM650.8 894.6h10.4v5.4h-10.4zM660.8 899.6h10.4v5.4h-10.4zM655.8 909.6h5.4v5.4h-5.4zM650.8 919.6h5.4v5.4h-5.4zM685.8 919.6h5.4v5.4h-5.4zM650.8 924.6h5.4v5.4h-5.4zM665.8 924.6h5.4v5.4h-5.4zM650.8 934.6h5.4v5.4h-5.4zM650.8 944.6h5.4v5.4h-5.4zM657.8 969.3h10.4v5.4h-10.4zM657.8 1019.3h5.4v5.4h-5.4zM664.0 1039.3h5.4v5.4h-5.4zM669.0 1054.3h5.4v5.4h-5.4zM644.0 1064.3h5.4v5.4h-5.4zM649.0 1074.3h5.4v5.4h-5.4zM644.0 1079.3h5.4v5.4h-5.4zM659.0 1084.3h5.4v5.4h-5.4zM649.0 1089.3h5.4v5.4h-5.4z"/>
<path fill="#be28af" d="M510.3 73.3h5.4v5.4h-5.4zM600.3 73.3h5.4v5.4h-5.4zM510.3 78.3h5.4v5.4h-5.4zM630.3 78.3h5.4v5.4h-5.4zM555.3 83.3h5.4v5.4h-5.4zM490.3 88.3h5.4v5.4h-5.4zM515.3 88.3h5.4v5.4h-5.4zM585.3 88.3h5.4v5.4h-5.4zM610.3 88.3h5.4v5.4h-5.4zM620.3 88.3h5.4v5.4h-5.4zM635.3 88.3h5.4v5.4h-5.4zM620.3 93.3h5.4v5.4h-5.4zM580.3 98.3h5.4v5.4h-5.4zM525.3 103.3h5.4v5.4h-5.4zM580.3 103.3h5.4v5.4h-5.4zM590.0 133.3h5.4v5.4h-5.4zM590.0 138.3h5.4v5.4h-5.4zM625.0 138.3h5.4v5.4h-5.4zM640.0 143.3h5.4v5.4h-5.4zM600.0 148.3h5.4v5.4h-5.4zM610.0 158.3h5.4v5.4h-5.4zM620.0 158.3h5.4v5.4h-5.4zM640.0 158.3h10.4v5.4h-10.4zM590.0 163.3h5.4v5.4h-5.4zM585.0 168.3h5.4v5.4h-5.4zM615.0 168.3h5.4v5.4h-5.4zM635.0 168.3h5.4v5.4h-5.4zM590.0 173.3h10.4v5.4h-10.4zM620.0 173.3h5.4v5.4h-5.4zM640.0 173.3h10.4v5.4h-10.4zM620.0 183.3h5.4v5.4h-5.4zM707.3 207.8h5.4v5.4h-5.4zM582.3 212.8h10.4v5.4h-10.4zM597.3 212.8h15.4v5.4h-15.4zM617.3 212.8h20.4v5.4h-20.4zM712.3 212.8h10.4v5.4h-10.4zM572.3 217.8h5.4v5.4h-5.4zM582.3 217.8h25.4v5.4h-25.4zM612.3 217.8h5.4v5.4h-5.4zM622.3 217.8h5.4v5.4h-5.4zM657.3 217.8h5.4v5.4h-5.4zM572.3 222.8h5.4v5.4h-5.4zM582.3 222.8h20.4v5.4h-20.4zM607.3 222.8h10.4v5.4h-10.4zM622.3 222.8h15.4v5.4h-15.4zM647.3 222.8h15.4v5.4h-15.4zM572.3 227.8h20.4v5.4h-20.4zM612.3 227.8h25.4v5.4h-25.4zM652.3 227.8h5.4v5.4h-5.4zM707.3 227.8h5.4v5.4h-5.4zM597.3 232.8h5.4v5.4h-5.4zM607.3 232.8h15.4v5.4h-15.4zM652.8 267.3h5.4v5.4h-5.4zM652.8 287.3h5.4v5.4h-5.4zM642.8 297.3h5.4v5.4h-5.4zM647.8 312.3h5.4v5.4h-5.4zM657.8 336.8h5.4v5.4h-5.4zM632.8 341.8h20.4v5.4h-20.4zM647.8 351.8h5.4v5.4h-5.4zM642.8 361.8h15.4v5.4h-15.4zM627.8 366.8h10.4v5.4h-10.4zM647.8 366.8h5.4v5.4h-5.4zM632.8 381.8h5.4v5.4h-5.4zM569.8 426.8h5.4v5.4h-5.4zM564.8 431.8h10.4v5.4h-10.4zM564.8 436.8h10.4v5.4h-10.4zM657.8 481.3h5.4v5.4h-5.4zM652.8 501.3h5.4v5.4h-5.4zM657.8 506.3h5.4v5.4h-5.4zM667.8 521.3h5.4v5.4h-5.4zM672.8 526.3h5.4v5.4h-5.4zM669.8 545.8h5.4v5.4h-5.4zM674.8 585.8h5.4v5.4h-5.4zM674.8 590.8h5.4v5.4h-5.4zM669.8 595.8h5.4v5.4h-5.4zM669.8 600.8h5.4v5.4h-5.4zM649.0 620.8h5.4v5.4h-5.4zM649.0 625.8h5.4v5.4h-5.4zM649.0 630.8h5.4v5.4h-5.4zM659.0 635.8h5.4v5.4h-5.4zM659.0 645.8h5.4v5.4h-5.4zM659.0 650.8h5.4v5.4h-5.4zM659.0 655.8h5.4v5.4h-5.4zM649.0 660.8h5.4v5.4h-5.4zM659.0 660.8h5.4v5.4h-5.4zM659.0 665.8h5.4v5.4h-5.4zM649.0 670.8h5.4v5.4h-5.4zM656.0 680.7h5.4v5.4h-5.4zM651.0 685.7h10.4v5.4h-10.4zM656.0 690.7h5.4v5.4h-5.4zM666.0 690.7h5.4v5.4h-5.4zM656.0 695.7h5.4v5.4h-5.4zM651.0 700.7h5.4v5.4h-5.4zM651.0 730.7h10.4v5.4h-10.4zM666.0 730.7h5.4v5.4h-5.4zM651.0 735.7h5.4v5.4h-5.4zM669.8 780.3h5.4v5.4h-5.4zM659.8 795.3h10.4v5.4h-10.4zM654.8 810.3h5.4v5.4h-5.4zM650.5 827.6h5.4v5.4h-5.4zM655.5 867.6h5.4v5.4h-5.4zM655.8 889.6h5.4v5.4h-5.4zM660.8 894.6h5.4v5.4h-5.4zM650.8 899.6h10.4v5.4h-10.4zM650.8 909.6h5.4v5.4h-5.4zM685.8 914.6h5.4v5.4h-5.4zM685.8 924.6h5.4v5.4h-5.4zM652.8 989.3h5.4v5.4h-5.4zM662.8 999.3h5.4v5.4h-5.4zM652.8 1009.3h5.4v5.4h-5.4zM647.8 1014.3h5.4v5.4h-5.4zM649.0 1029.3h10.4v5.4h-10.4zM649.0 1034.3h5.4v5.4h-5.4zM664.0 1034.3h5.4v5.4h-5.4zM649.0 1039.3h15.4v5.4h-15.4zM669.0 1044.3h5.4v5.4h-5.4zM644.0 1049.3h10.4v5.4h-10.4zM649.0 1054.3h5.4v5.4h-5.4zM644.0 1069.3h5.4v5.4h-5.4zM669.0 1069.3h5.4v5.4h-5.4zM669.0 1074.3h5.4v5.4h-5.4zM654.0 1089.3h5.4v5.4h-5.4z"/>
<path fill="#d026a3" d="M550.3 58.3h5.4v5.4h-5.4zM570.3 58.3h5.4v5.4h-5.4zM530.3 63.3h5.4v5.4h-5.4zM540.3 63.3h5.4v5.4h-5.4zM520.3 68.3h5.4v5.4h-5.4zM555.3 68.3h5.4v5.4h-5.4zM580.3 68.3h5.4v5.4h-5.4zM560.3 73.3h5.4v5.4h-5.4zM575.3 73.3h5.4v5.4h-5.4zM620.3 73.3h5.4v5.4h-5.4zM630.3 73.3h5.4v5.4h-5.4zM505.3 78.3h5.4v5.4h-5.4zM620.3 78.3h5.4v5.4h-5.4zM495.3 83.3h5.4v5.4h-5.4zM480.3 88.3h10.4v5.4h-10.4zM520.3 88.3h5.4v5.4h-5.4zM570.3 93.3h5.4v5.4h-5.4zM615.3 93.3h5.4v5.4h-5.4zM520.3 98.3h10.4v5.4h-10.4zM610.3 98.3h5.4v5.4h-5.4zM585.3 103.3h5.4v5.4h-5.4zM615.0 123.3h5.4v5.4h-5.4zM625.0 133.3h10.4v5.4h-10.4zM585.0 138.3h5.4v5.4h-5.4zM600.0 138.3h5.4v5.4h-5.4zM615.0 138.3h5.4v5.4h-5.4zM635.0 138.3h5.4v5.4h-5.4zM585.0 143.3h5.4v5.4h-5.4zM625.0 143.3h5.4v5.4h-5.4zM585.0 148.3h15.4v5.4h-15.4zM630.0 148.3h5.4v5.4h-5.4zM605.0 158.3h5.4v5.4h-5.4zM625.0 158.3h5.4v5.4h-5.4zM585.0 163.3h5.4v5.4h-5.4zM640.0 168.3h5.4v5.4h-5.4zM605.0 173.3h10.4v5.4h-10.4zM610.0 178.3h5.4v5.4h-5.4zM620.0 178.3h10.4v5.4h-10.4zM625.0 183.3h5.4v5.4h-5.4zM577.3 212.8h5.4v5.4h-5.4zM592.3 212.8h5.4v5.4h-5.4zM612.3 212.8h5.4v5.4h-5.4zM707.3 212.8h5.4v5.4h-5.4zM567.3 217.8h5.4v5.4h-5.4zM577.3 217.8h5.4v5.4h-5.4zM607.3 217.8h5.4v5.4h-5.4zM562.3 222.8h10.4v5.4h-10.4zM577.3 222.8h5.4v5.4h-5.4zM562.3 227.8h10.4v5.4h-10.4zM562.3 232.8h30.4v5.4h-30.4zM642.8 267.3h5.4v5.4h-5.4zM652.8 277.3h5.4v5.4h-5.4zM652.8 282.3h5.4v5.4h-5.4zM637.8 297.3h5.4v5.4h-5.4zM642.8 317.3h5.4v5.4h-5.4zM627.8 346.8h5.4v5.4h-5.4zM652.8 351.8h5.4v5.4h-5.4zM632.8 356.8h5.4v5.4h-5.4zM647.8 356.8h10.4v5.4h-10.4zM627.8 361.8h5.4v5.4h-5.4zM637.8 361.8h5.4v5.4h-5.4zM632.8 371.8h10.4v5.4h-10.4zM632.8 376.8h15.4v5.4h-15.4zM559.8 426.8h10.4v5.4h-10.4zM574.8 426.8h5.4v5.4h-5.4zM549.8 431.8h5.4v5.4h-5.4zM574.8 431.8h5.4v5.4h-5.4zM554.8 436.8h10.4v5.4h-10.4zM574.8 436.8h5.4v5.4h-5.4zM647.8 516.3h5.4v5.4h-5.4zM647.8 526.3h5.4v5.4h-5.4zM664.8 545.8h5.4v5.4h-5.4zM669.8 590.8h5.4v5.4h-5.4zM659.0 625.8h5.4v5.4h-5.4zM659.0 630.8h5.4v5.4h-5.4zM649.0 655.8h5.4v5.4h-5.4zM654.0 665.8h5.4v5.4h-5.4zM651.0 690.7h5.4v5.4h-5.4zM661.0 720.7h5.4v5.4h-5.4zM661.0 725.7h10.4v5.4h-10.4zM666.0 735.7h5.4v5.4h-5.4zM654.8 760.3h5.4v5.4h-5.4zM659.8 785.3h5.4v5.4h-5.4zM664.8 805.3h5.4v5.4h-5.4zM664.8 810.3h5.4v5.4h-5.4zM650.5 822.6h5.4v5.4h-5.4zM660.5 827.6h5.4v5.4h-5.4zM655.5 832.6h10.4v5.4h-10.4zM660.5 837.6h5.4v5.4h-5.4zM660.5 867.6h5.4v5.4h-5.4zM655.5 872.6h5.4v5.4h-5.4zM650.8 904.6h5.4v5.4h-5.4zM665.8 904.6h5.4v5.4h-5.4zM650.8 929.6h5.4v5.4h-5.4zM650.8 939.6h5.4v5.4h-5.4zM647.8 984.3h10.4v5.4h-10.4zM647.8 989.3h5.4v5.4h-5.4zM652.8 1019.3h5.4v5.4h-5.4zM659.0 1029.3h5.4v5.4h-5.4zM644.0 1039.3h5.4v5.4h-5.4zM644.0 1044.3h10.4v5.4h-10.4zM664.0 1054.3h5.4v5.4h-5.4zM644.0 1074.3h5.4v5.4h-5.4zM649.0 1084.3h10.4v5.4h-10.4z"/>
<path fill="#e22496" d="M535.3 73.3h10.4v5.4h-10.4zM595.3 73.3h5.4v5.4h-5.4zM625.3 73.3h5.4v5.4h-5.4zM565.3 78.3h10.4v5.4h-10.4zM510.3 83.3h5.4v5.4h-5.4zM575.3 83.3h5.4v5.4h-5.4zM620.3 83.3h5.4v5.4h-5.4zM510.3 88.3h5.4v5.4h-5.4zM540.3 88.3h5.4v5.4h-5.4zM570.3 88.3h5.4v5.4h-5.4zM605.3 88.3h5.4v5.4h-5.4zM580.3 93.3h5.4v5.4h-5.4zM600.3 93.3h5.4v5.4h-5.4zM535.3 98.3h5.4v5.4h-5.4zM575.3 98.3h5.4v5.4h-5.4zM585.3 98.3h5.4v5.4h-5.4zM570.3 103.3h5.4v5.4h-5.4zM555.3 108.3h5.4v5.4h-5.4zM575.3 113.3h5.4v5.4h-5.4zM630.0 123.3h5.4v5.4h-5.4zM580.0 138.3h5.4v5.4h-5.4zM605.0 138.3h10.4v5.4h-10.4zM640.0 138.3h5.4v5.4h-5.4zM580.0 143.3h5.4v5.4h-5.4zM600.0 143.3h5.4v5.4h-5.4zM580.0 148.3h5.4v5.4h-5.4zM585.0 153.3h5.4v5.4h-5.4zM595.0 153.3h5.4v5.4h-5.4zM600.0 158.3h5.4v5.4h-5.4zM635.0 158.3h5.4v5.4h-5.4zM630.0 163.3h5.4v5.4h-5.4zM580.0 168.3h5.4v5.4h-5.4zM590.0 168.3h5.4v5.4h-5.4zM625.0 168.3h5.4v5.4h-5.4zM605.0 178.3h5.4v5.4h-5.4zM712.3 207.8h5.4v5.4h-5.4zM562.3 212.8h15.4v5.4h-15.4zM562.3 217.8h5.4v5.4h-5.4zM552.3 222.8h10.4v5.4h-10.4zM557.3 227.8h5.4v5.4h-5.4zM712.3 227.8h5.4v5.4h-5.4zM557.3 232.8h5.4v5.4h-5.4zM712.3 232.8h5.4v5.4h-5.4zM642.8 282.3h10.4v5.4h-10.4zM632.8 287.3h5.4v5.4h-5.4zM642.8 287.3h5.4v5.4h-5.4zM647.8 297.3h5.4v5.4h-5.4zM642.8 302.3h15.4v5.4h-15.4zM642.8 307.3h5.4v5.4h-5.4zM637.8 312.3h5.4v5.4h-5.4zM652.8 317.3h5.4v5.4h-5.4zM637.8 322.3h5.4v5.4h-5.4zM647.8 322.3h5.4v5.4h-5.4zM627.8 356.8h5.4v5.4h-5.4zM622.8 361.8h5.4v5.4h-5.4zM622.8 366.8h5.4v5.4h-5.4zM627.8 371.8h5.4v5.4h-5.4zM549.8 426.8h10.4v5.4h-10.4zM554.8 431.8h10.4v5.4h-10.4zM549.8 436.8h5.4v5.4h-5.4zM647.8 476.3h5.4v5.4h-5.4zM642.8 481.3h5.4v5.4h-5.4zM657.8 496.3h5.4v5.4h-5.4zM664.8 540.8h10.4v5.4h-10.4zM649.8 560.8h5.4v5.4h-5.4zM649.8 565.8h5.4v5.4h-5.4zM649.8 575.8h5.4v5.4h-5.4zM649.8 580.8h5.4v5.4h-5.4zM659.0 620.8h5.4v5.4h-5.4zM654.0 655.8h5.4v5.4h-5.4zM654.0 660.8h5.4v5.4h-5.4zM664.0 660.8h5.4v5.4h-5.4zM654.0 670.8h5.4v5.4h-5.4zM651.0 695.7h5.4v5.4h-5.4zM666.0 720.7h5.4v5.4h-5.4zM654.8 750.3h5.4v5.4h-5.4zM654.8 770.3h10.4v5.4h-10.4zM655.5 827.6h5.4v5.4h-5.4zM650.5 832.6h5.4v5.4h-5.4zM655.5 847.6h10.4v5.4h-10.4zM655.5 857.6h10.4v5.4h-10.4zM655.5 877.6h5.4v5.4h-5.4zM650.8 914.6h10.4v5.4h-10.4zM647.8 979.3h5.4v5.4h-5.4zM654.0 1034.3h10.4v5.4h-10.4zM654.0 1044.3h5.4v5.4h-5.4zM659.0 1054.3h5.4v5.4h-5.4zM659.0 1059.3h5.4v5.4h-5.4zM659.0 1074.3h10.4v5.4h-10.4z"/>
<path fill="#e92287" d="M505.3 73.3h5.4v5.4h-5.4zM515.3 78.3h10.4v5.4h-10.4zM555.3 78.3h5.4v5.4h-5.4zM615.3 78.3h5.4v5.4h-5.4zM505.3 83.3h5.4v5.4h-5.4zM530.3 83.3h5.4v5.4h-5.4zM570.3 83.3h5.4v5.4h-5.4zM590.3 83.3h5.4v5.4h-5.4zM575.3 88.3h5.4v5.4h-5.4zM570.3 98.3h5.4v5.4h-5.4zM600.3 98.3h5.4v5.4h-5.4zM610.0 123.3h5.4v5.4h-5.4zM640.0 133.3h5.4v5.4h-5.4zM590.0 143.3h10.4v5.4h-10.4zM575.0 148.3h5.4v5.4h-5.4zM575.0 153.3h5.4v5.4h-5.4zM590.0 153.3h5.4v5.4h-5.4zM590.0 158.3h10.4v5.4h-10.4zM630.0 158.3h5.4v5.4h-5.4zM580.0 163.3h5.4v5.4h-5.4zM635.0 163.3h10.4v5.4h-10.4zM625.0 173.3h5.4v5.4h-5.4zM557.3 212.8h5.4v5.4h-5.4zM552.3 217.8h10.4v5.4h-10.4zM547.3 222.8h5.4v5.4h-5.4zM547.3 227.8h10.4v5.4h-10.4zM717.3 227.8h5.4v5.4h-5.4zM542.3 232.8h5.4v5.4h-5.4zM552.3 232.8h5.4v5.4h-5.4zM627.8 282.3h10.4v5.4h-10.4zM627.8 287.3h5.4v5.4h-5.4zM647.8 287.3h5.4v5.4h-5.4zM627.8 292.3h5.4v5.4h-5.4zM627.8 297.3h5.4v5.4h-5.4zM637.8 307.3h5.4v5.4h-5.4zM652.8 307.3h5.4v5.4h-5.4zM632.8 312.3h5.4v5.4h-5.4zM652.8 312.3h5.4v5.4h-5.4zM622.8 351.8h10.4v5.4h-10.4zM622.8 356.8h5.4v5.4h-5.4zM627.8 376.8h5.4v5.4h-5.4zM639.8 411.8h5.4v5.4h-5.4zM619.8 421.8h10.4v5.4h-10.4zM579.8 426.8h10.4v5.4h-10.4zM644.8 426.8h10.4v5.4h-10.4zM579.8 431.8h10.4v5.4h-10.4zM634.8 436.8h10.4v5.4h-10.4zM629.8 441.8h5.4v5.4h-5.4zM652.8 486.3h5.4v5.4h-5.4zM652.8 506.3h5.4v5.4h-5.4zM647.8 521.3h5.4v5.4h-5.4zM657.8 521.3h5.4v5.4h-5.4zM657.8 526.3h5.4v5.4h-5.4zM649.8 570.8h5.4v5.4h-5.4zM649.8 585.8h5.4v5.4h-5.4zM654.0 610.8h10.4v5.4h-10.4zM659.0 670.8h5.4v5.4h-5.4zM654.8 765.3h5.4v5.4h-5.4zM649.8 805.3h5.4v5.4h-5.4zM655.5 852.6h10.4v5.4h-10.4zM647.8 994.3h5.4v5.4h-5.4zM654.0 1049.3h5.4v5.4h-5.4z"/>
<path fill="#f12078" d="M565.3 53.3h5.4v5.4h-5.4zM575.3 53.3h5.4v5.4h-5.4zM535.3 63.3h5.4v5.4h-5.4zM545.3 68.3h5.4v5.4h-5.4zM605.3 73.3h5.4v5.4h-5.4zM525.3 78.3h10.4v5.4h-10.4zM575.3 78.3h5.4v5.4h-5.4zM550.3 83.3h5.4v5.4h-5.4zM530.3 88.3h5.4v5.4h-5.4zM565.3 88.3h5.4v5.4h-5.4zM565.3 93.3h5.4v5.4h-5.4zM585.3 93.3h5.4v5.4h-5.4zM565.3 98.3h5.4v5.4h-5.4zM605.3 98.3h5.4v5.4h-5.4zM595.3 103.3h5.4v5.4h-5.4zM570.3 108.3h5.4v5.4h-5.4zM635.0 128.3h5.4v5.4h-5.4zM635.0 133.3h5.4v5.4h-5.4zM575.0 138.3h5.4v5.4h-5.4zM575.0 143.3h5.4v5.4h-5.4zM570.0 148.3h5.4v5.4h-5.4zM580.0 153.3h5.4v5.4h-5.4zM570.0 158.3h5.4v5.4h-5.4zM580.0 158.3h10.4v5.4h-10.4zM542.3 212.8h15.4v5.4h-15.4zM542.3 217.8h10.4v5.4h-10.4zM537.3 222.8h10.4v5.4h-10.4zM542.3 227.8h5.4v5.4h-5.4zM547.3 232.8h5.4v5.4h-5.4zM637.8 267.3h5.4v5.4h-5.4zM637.8 287.3h5.4v5.4h-5.4zM622.8 292.3h5.4v5.4h-5.4zM632.8 292.3h10.4v5.4h-10.4zM632.8 297.3h5.4v5.4h-5.4zM632.8 302.3h10.4v5.4h-10.4zM632.8 307.3h5.4v5.4h-5.4zM647.8 307.3h5.4v5.4h-5.4zM617.8 351.8h5.4v5.4h-5.4zM617.8 356.8h5.4v5.4h-5.4zM622.8 371.8h5.4v5.4h-5.4zM614.8 421.8h5.4v5.4h-5.4zM639.8 421.8h15.4v5.4h-15.4zM589.8 426.8h10.4v5.4h-10.4zM589.8 431.8h5.4v5.4h-5.4zM604.8 431.8h5.4v5.4h-5.4zM579.8 436.8h10.4v5.4h-10.4zM604.8 436.8h10.4v5.4h-10.4zM624.8 441.8h5.4v5.4h-5.4zM634.8 441.8h5.4v5.4h-5.4zM639.8 451.8h5.4v5.4h-5.4zM637.8 481.3h5.4v5.4h-5.4zM647.8 481.3h5.4v5.4h-5.4zM642.8 486.3h5.4v5.4h-5.4zM622.8 496.3h10.4v5.4h-10.4zM647.8 506.3h5.4v5.4h-5.4zM637.8 511.3h5.4v5.4h-5.4zM647.8 511.3h5.4v5.4h-5.4zM642.8 516.3h5.4v5.4h-5.4zM652.8 521.3h5.4v5.4h-5.4zM652.8 526.3h5.4v5.4h-5.4zM657.8 531.3h5.4v5.4h-5.4zM649.8 555.8h5.4v5.4h-5.4zM664.0 620.8h5.4v5.4h-5.4zM664.0 635.8h5.4v5.4h-5.4zM664.0 655.8h10.4v5.4h-10.4zM664.0 665.8h5.4v5.4h-5.4zM649.8 760.3h5.4v5.4h-5.4zM644.8 785.3h5.4v5.4h-5.4zM649.8 800.3h5.4v5.4h-5.4zM652.8 979.3h5.4v5.4h-5.4z"/>
<path fill="#f81e69" d="M550.3 53.3h5.4v5.4h-5.4zM525.3 63.3h5.4v5.4h-5.4zM595.3 68.3h5.4v5.4h-5.4zM560.3 83.3h5.4v5.4h-5.4zM595.3 88.3h5.4v5.4h-5.4zM605.3 93.3h10.4v5.4h-10.4zM575.3 103.3h5.4v5.4h-5.4zM590.3 103.3h5.4v5.4h-5.4zM565.3 108.3h5.4v5.4h-5.4zM570.0 143.3h5.4v5.4h-5.4zM560.0 148.3h5.4v5.4h-5.4zM565.0 153.3h10.4v5.4h-10.4zM575.0 158.3h5.4v5.4h-5.4zM575.0 163.3h5.4v5.4h-5.4zM575.0 168.3h5.4v5.4h-5.4zM537.3 212.8h5.4v5.4h-5.4zM537.3 217.8h5.4v5.4h-5.4zM532.3 222.8h5.4v5.4h-5.4zM537.3 227.8h5.4v5.4h-5.4zM537.3 232.8h5.4v5.4h-5.4zM637.8 262.3h5.4v5.4h-5.4zM637.8 277.3h5.4v5.4h-5.4zM622.8 282.3h5.4v5.4h-5.4zM637.8 282.3h5.4v5.4h-5.4zM622.8 287.3h5.4v5.4h-5.4zM627.8 302.3h5.4v5.4h-5.4zM627.8 307.3h5.4v5.4h-5.4zM637.8 317.3h5.4v5.4h-5.4zM612.8 356.8h5.4v5.4h-5.4zM612.8 361.8h10.4v5.4h-10.4zM617.8 366.8h5.4v5.4h-5.4zM612.8 371.8h10.4v5.4h-10.4zM644.8 411.8h10.4v5.4h-10.4zM599.8 426.8h15.4v5.4h-15.4zM619.8 426.8h10.4v5.4h-10.4zM634.8 426.8h5.4v5.4h-5.4zM594.8 431.8h5.4v5.4h-5.4zM609.8 431.8h5.4v5.4h-5.4zM624.8 431.8h10.4v5.4h-10.4zM644.8 431.8h5.4v5.4h-5.4zM594.8 436.8h10.4v5.4h-10.4zM614.8 436.8h5.4v5.4h-5.4zM624.8 436.8h5.4v5.4h-5.4zM644.8 436.8h5.4v5.4h-5.4zM639.8 446.8h5.4v5.4h-5.4zM649.8 451.8h5.4v5.4h-5.4zM627.8 486.3h5.4v5.4h-5.4zM647.8 486.3h5.4v5.4h-5.4zM612.8 491.3h20.4v5.4h-20.4zM642.8 491.3h15.4v5.4h-15.4zM612.8 496.3h10.4v5.4h-10.4zM632.8 496.3h5.4v5.4h-5.4zM652.8 496.3h5.4v5.4h-5.4zM617.8 501.3h5.4v5.4h-5.4zM627.8 501.3h5.4v5.4h-5.4zM642.8 501.3h5.4v5.4h-5.4zM617.8 506.3h5.4v5.4h-5.4zM637.8 506.3h5.4v5.4h-5.4zM622.8 511.3h5.4v5.4h-5.4zM642.8 511.3h5.4v5.4h-5.4zM637.8 516.3h5.4v5.4h-5.4zM637.8 521.3h5.4v5.4h-5.4zM652.8 531.3h5.4v5.4h-5.4zM659.0 615.8h5.4v5.4h-5.4zM664.0 625.8h5.4v5.4h-5.4zM664.0 630.8h5.4v5.4h-5.4zM674.0 635.8h5.4v5.4h-5.4zM694.0 635.8h5.4v5.4h-5.4zM674.0 640.8h10.4v5.4h-10.4zM664.0 645.8h5.4v5.4h-5.4zM664.0 650.8h10.4v5.4h-10.4zM666.0 710.7h5.4v5.4h-5.4zM649.8 755.3h5.4v5.4h-5.4zM644.8 765.3h10.4v5.4h-10.4zM644.8 770.3h5.4v5.4h-5.4zM644.8 780.3h5.4v5.4h-5.4zM639.8 790.3h10.4v5.4h-10.4zM644.8 795.3h10.4v5.4h-10.4zM645.8 909.6h5.4v5.4h-5.4zM645.8 914.6h5.4v5.4h-5.4zM664.0 1059.3h10.4v5.4h-10.4zM664.0 1064.3h5.4v5.4h-5.4z"/>
<path fill="#fc1f60" d="M525.3 68.3h5.4v5.4h-5.4zM575.3 68.3h5.4v5.4h-5.4zM600.3 68.3h5.4v5.4h-5.4zM535.3 78.3h5.4v5.4h-5.4zM565.3 83.3h5.4v5.4h-5.4zM535.3 88.3h5.4v5.4h-5.4zM590.3 88.3h5.4v5.4h-5.4zM560.3 108.3h5.4v5.4h-5.4zM540.0 138.3h20.4v5.4h-20.4zM550.0 143.3h20.4v5.4h-20.4zM545.0 148.3h5.4v5.4h-5.4zM555.0 148.3h5.4v5.4h-5.4zM565.0 148.3h5.4v5.4h-5.4zM555.0 153.3h5.4v5.4h-5.4zM555.0 158.3h5.4v5.4h-5.4zM565.0 158.3h5.4v5.4h-5.4zM545.0 163.3h5.4v5.4h-5.4zM555.0 163.3h20.4v5.4h-20.4zM550.0 168.3h10.4v5.4h-10.4zM527.3 212.8h10.4v5.4h-10.4zM527.3 217.8h10.4v5.4h-10.4zM527.3 222.8h5.4v5.4h-5.4zM532.3 227.8h5.4v5.4h-5.4zM532.3 232.8h5.4v5.4h-5.4zM632.8 272.3h10.4v5.4h-10.4zM627.8 277.3h5.4v5.4h-5.4zM617.8 287.3h5.4v5.4h-5.4zM617.8 292.3h5.4v5.4h-5.4zM622.8 297.3h5.4v5.4h-5.4zM617.8 302.3h5.4v5.4h-5.4zM607.8 351.8h10.4v5.4h-10.4zM602.8 356.8h10.4v5.4h-10.4zM607.8 361.8h5.4v5.4h-5.4zM607.8 366.8h10.4v5.4h-10.4zM607.8 371.8h5.4v5.4h-5.4zM634.8 416.8h15.4v5.4h-15.4zM629.8 421.8h10.4v5.4h-10.4zM614.8 426.8h5.4v5.4h-5.4zM629.8 426.8h5.4v5.4h-5.4zM599.8 431.8h5.4v5.4h-5.4zM614.8 431.8h10.4v5.4h-10.4zM634.8 431.8h5.4v5.4h-5.4zM649.8 431.8h5.4v5.4h-5.4zM589.8 436.8h5.4v5.4h-5.4zM619.8 436.8h5.4v5.4h-5.4zM629.8 436.8h5.4v5.4h-5.4zM649.8 436.8h5.4v5.4h-5.4zM614.8 441.8h10.4v5.4h-10.4zM639.8 441.8h15.4v5.4h-15.4zM634.8 446.8h5.4v5.4h-5.4zM644.8 446.8h5.4v5.4h-5.4zM632.8 486.3h10.4v5.4h-10.4zM632.8 491.3h5.4v5.4h-5.4zM637.8 496.3h10.4v5.4h-10.4zM612.8 501.3h5.4v5.4h-5.4zM622.8 501.3h5.4v5.4h-5.4zM632.8 501.3h10.4v5.4h-10.4zM647.8 501.3h5.4v5.4h-5.4zM612.8 506.3h5.4v5.4h-5.4zM622.8 506.3h10.4v5.4h-10.4zM642.8 506.3h5.4v5.4h-5.4zM612.8 511.3h10.4v5.4h-10.4zM632.8 511.3h5.4v5.4h-5.4zM627.8 516.3h10.4v5.4h-10.4zM642.8 521.3h5.4v5.4h-5.4zM664.0 615.8h5.4v5.4h-5.4zM669.0 625.8h5.4v5.4h-5.4zM669.0 630.8h10.4v5.4h-10.4zM669.0 635.8h5.4v5.4h-5.4zM679.0 635.8h5.4v5.4h-5.4zM689.0 635.8h5.4v5.4h-5.4zM699.0 635.8h15.4v5.4h-15.4zM664.0 640.8h5.4v5.4h-5.4zM684.0 640.8h30.4v5.4h-30.4zM674.0 645.8h15.4v5.4h-15.4zM699.0 645.8h15.4v5.4h-15.4zM674.0 650.8h10.4v5.4h-10.4zM671.0 690.7h5.4v5.4h-5.4zM671.0 695.7h5.4v5.4h-5.4zM671.0 700.7h10.4v5.4h-10.4zM661.0 705.7h10.4v5.4h-10.4zM661.0 710.7h5.4v5.4h-5.4zM671.0 710.7h5.4v5.4h-5.4zM691.0 710.7h5.4v5.4h-5.4zM666.0 715.7h15.4v5.4h-15.4zM686.0 715.7h5.4v5.4h-5.4zM671.0 720.7h10.4v5.4h-10.4zM671.0 725.7h5.4v5.4h-5.4zM671.0 730.7h5.4v5.4h-5.4zM639.8 770.3h5.4v5.4h-5.4zM639.8 775.3h10.4v5.4h-10.4zM654.8 775.3h10.4v5.4h-10.4zM639.8 780.3h5.4v5.4h-5.4zM649.8 780.3h15.4v5.4h-15.4zM639.8 785.3h5.4v5.4h-5.4zM654.8 795.3h5.4v5.4h-5.4zM645.8 899.6h5.4v5.4h-5.4zM645.8 904.6h5.4v5.4h-5.4zM640.8 909.6h5.4v5.4h-5.4zM635.8 914.6h10.4v5.4h-10.4zM630.8 919.6h10.4v5.4h-10.4zM645.8 919.6h5.4v5.4h-5.4zM630.8 924.6h20.4v5.4h-20.4zM640.8 929.6h10.4v5.4h-10.4zM645.8 934.6h5.4v5.4h-5.4zM645.8 939.6h5.4v5.4h-5.4zM642.8 979.3h5.4v5.4h-5.4zM642.8 984.3h5.4v5.4h-5.4zM642.8 989.3h5.4v5.4h-5.4zM642.8 994.3h5.4v5.4h-5.4zM642.8 999.3h5.4v5.4h-5.4zM669.0 1064.3h5.4v5.4h-5.4z"/>
<path fill="#ff2056" d="M575.3 58.3h10.4v5.4h-10.4zM575.3 63.3h5.4v5.4h-5.4zM530.3 68.3h15.4v5.4h-15.4zM535.3 83.3h5.4v5.4h-5.4zM560.3 113.3h5.4v5.4h-5.4zM490.0 138.3h50.4v5.4h-50.4zM475.0 143.3h75.4v5.4h-75.4zM355.0 148.3h190.4v5.4h-190.4zM550.0 148.3h5.4v5.4h-5.4zM355.0 153.3h200.4v5.4h-200.4zM560.0 153.3h5.4v5.4h-5.4zM355.0 158.3h200.4v5.4h-200.4zM560.0 158.3h5.4v5.4h-5.4zM475.0 163.3h70.4v5.4h-70.4zM550.0 163.3h5.4v5.4h-5.4zM490.0 168.3h60.4v5.4h-60.4zM482.3 212.8h45.4v5.4h-45.4zM462.3 217.8h65.4v5.4h-65.4zM462.3 222.8h65.4v5.4h-65.4zM462.3 227.8h70.4v5.4h-70.4zM482.3 232.8h50.4v5.4h-50.4zM632.8 277.3h5.4v5.4h-5.4zM612.8 282.3h10.4v5.4h-10.4zM572.8 287.3h45.4v5.4h-45.4zM572.8 292.3h45.4v5.4h-45.4zM572.8 297.3h50.4v5.4h-50.4zM612.8 302.3h5.4v5.4h-5.4zM622.8 302.3h5.4v5.4h-5.4zM577.8 356.8h25.4v5.4h-25.4zM577.8 361.8h30.4v5.4h-30.4zM577.8 366.8h30.4v5.4h-30.4zM659.8 411.8h10.4v5.4h-10.4zM649.8 416.8h5.4v5.4h-5.4zM659.8 416.8h10.4v5.4h-10.4zM639.8 426.8h5.4v5.4h-5.4zM639.8 431.8h5.4v5.4h-5.4zM649.8 446.8h5.4v5.4h-5.4zM644.8 451.8h5.4v5.4h-5.4zM637.8 491.3h5.4v5.4h-5.4zM547.8 496.3h65.4v5.4h-65.4zM647.8 496.3h5.4v5.4h-5.4zM547.8 501.3h65.4v5.4h-65.4zM547.8 506.3h65.4v5.4h-65.4zM632.8 506.3h5.4v5.4h-5.4zM627.8 511.3h5.4v5.4h-5.4zM624.8 555.8h25.4v5.4h-25.4zM614.8 560.8h35.4v5.4h-35.4zM594.8 565.8h55.4v5.4h-55.4zM594.8 570.8h55.4v5.4h-55.4zM594.8 575.8h55.4v5.4h-55.4zM614.8 580.8h35.4v5.4h-35.4zM624.8 585.8h25.4v5.4h-25.4zM679.0 630.8h5.4v5.4h-5.4zM584.0 635.8h25.4v5.4h-25.4zM619.0 635.8h10.4v5.4h-10.4zM684.0 635.8h5.4v5.4h-5.4zM584.0 640.8h25.4v5.4h-25.4zM619.0 640.8h10.4v5.4h-10.4zM669.0 640.8h5.4v5.4h-5.4zM584.0 645.8h25.4v5.4h-25.4zM619.0 645.8h10.4v5.4h-10.4zM669.0 645.8h5.4v5.4h-5.4zM689.0 645.8h10.4v5.4h-10.4zM606.0 705.7h25.4v5.4h-25.4zM671.0 705.7h35.4v5.4h-35.4zM606.0 710.7h25.4v5.4h-25.4zM676.0 710.7h15.4v5.4h-15.4zM696.0 710.7h10.4v5.4h-10.4zM606.0 715.7h25.4v5.4h-25.4zM661.0 715.7h5.4v5.4h-5.4zM681.0 715.7h5.4v5.4h-5.4zM691.0 715.7h15.4v5.4h-15.4zM619.8 775.3h10.4v5.4h-10.4zM619.8 780.3h10.4v5.4h-10.4zM619.8 785.3h10.4v5.4h-10.4zM685.5 842.6h40.4v5.4h-40.4zM685.5 847.6h40.4v5.4h-40.4zM685.5 852.6h40.4v5.4h-40.4zM685.5 857.6h40.4v5.4h-40.4zM630.8 914.6h5.4v5.4h-5.4zM675.8 914.6h10.4v5.4h-10.4zM690.8 914.6h20.4v5.4h-20.4zM640.8 919.6h5.4v5.4h-5.4zM675.8 919.6h10.4v5.4h-10.4zM690.8 919.6h20.4v5.4h-20.4zM675.8 924.6h10.4v5.4h-10.4zM690.8 924.6h20.4v5.4h-20.4zM617.8 984.3h25.4v5.4h-25.4zM617.8 989.3h25.4v5.4h-25.4zM697.8 989.3h5.4v5.4h-5.4zM617.8 994.3h25.4v5.4h-25.4zM614.0 1054.3h15.4v5.4h-15.4zM674.0 1054.3h10.4v5.4h-10.4zM694.0 1054.3h15.4v5.4h-15.4zM614.0 1059.3h15.4v5.4h-15.4zM674.0 1059.3h10.4v5.4h-10.4zM694.0 1059.3h15.4v5.4h-15.4zM614.0 1064.3h15.4v5.4h-15.4zM674.0 1064.3h10.4v5.4h-10.4zM694.0 1064.3h15.4v5.4h-15.4z"/>
</g></g></g>
<g stroke="#333" stroke-width="1.9" fill="none"><path d="M322 1133H1188"/><path d="M476 1133v7.5M659 1133v7.5M844 1133v7.5M1029 1133v7.5"/></g>
<rect x="1241.5" y="16.5" width="14" height="1115" fill="url(#cb)"/>
<g font-family="'DejaVu Sans','Liberation Sans',sans-serif" fill="#333">
<text x="264.9" y="98.9" font-size="31" text-anchor="end" xml:space="preserve" style="white-space:pre">0.281  Dist</text>
<text x="264.9" y="168.6" font-size="31" text-anchor="end" xml:space="preserve" style="white-space:pre">0.216  fsr</text>
<text x="264.9" y="238.3" font-size="31" text-anchor="end" xml:space="preserve" style="white-space:pre">0.199  MST</text>
<text x="264.9" y="308.0" font-size="31" text-anchor="end" xml:space="preserve" style="white-space:pre">0.053  DiffSP</text>
<text x="264.9" y="377.7" font-size="31" text-anchor="end" xml:space="preserve" style="white-space:pre">0.048  LakesSP</text>
<text x="264.9" y="447.4" font-size="31" text-anchor="end" xml:space="preserve" style="white-space:pre">0.044  ENSO_CAI</text>
<text x="264.9" y="517.1" font-size="31" text-anchor="end" xml:space="preserve" style="white-space:pre">0.044  L-L</text>
<text x="264.9" y="586.8" font-size="31" text-anchor="end" xml:space="preserve" style="white-space:pre">0.039  GLST</text>
<text x="264.9" y="656.5" font-size="31" text-anchor="end" xml:space="preserve" style="white-space:pre">0.020  WP</text>
<text x="264.9" y="726.2" font-size="31" text-anchor="end" xml:space="preserve" style="white-space:pre">0.018  Nino 4</text>
<text x="264.9" y="795.9" font-size="31" text-anchor="end" xml:space="preserve" style="white-space:pre">0.015  NAO</text>
<text x="264.9" y="865.6" font-size="31" text-anchor="end" xml:space="preserve" style="white-space:pre">0.015  AO</text>
<text x="264.9" y="935.3" font-size="31" text-anchor="end" xml:space="preserve" style="white-space:pre">0.014  AMM</text>
<text x="264.9" y="1005.0" font-size="31" text-anchor="end" xml:space="preserve" style="white-space:pre">0.013  PNA</text>
<text x="264.9" y="1074.7" font-size="31" text-anchor="end" xml:space="preserve" style="white-space:pre">0.013  PDO</text>
<text x="476" y="1168.7" font-size="25.8" text-anchor="middle">−0.5</text>
<text x="659" y="1168.7" font-size="25.8" text-anchor="middle">0.0</text>
<text x="844" y="1168.7" font-size="25.8" text-anchor="middle">0.5</text>
<text x="1029" y="1168.7" font-size="25.8" text-anchor="middle">1.0</text>
<text x="754" y="1208" font-size="31" text-anchor="middle" fill="#111">SHAP value (impact on model output)</text>
<text x="1264" y="28.2" font-size="25.7" fill="#111">High</text>
<text x="1264" y="1143.8" font-size="25.7" fill="#111">Low</text>
<text transform="translate(1343,577) rotate(-90)" font-size="28.6" text-anchor="middle" fill="#111">Feature value</text>
</g></svg>
</body></html>
